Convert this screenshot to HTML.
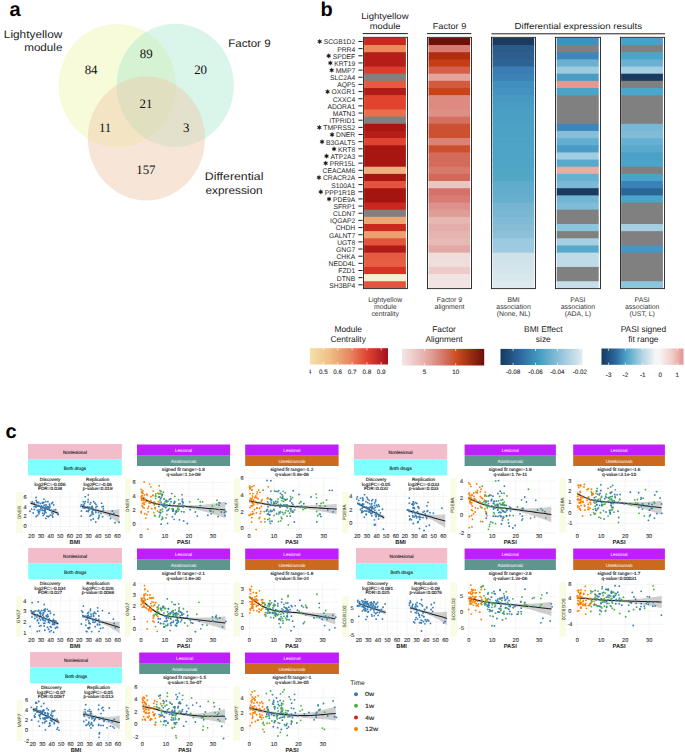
<!DOCTYPE html>
<html><head><meta charset="utf-8"><style>
html,body{margin:0;padding:0;background:#fff;width:685px;height:754px;overflow:hidden}
svg{display:block} text{text-rendering:geometricPrecision}
</style></head><body>
<svg width="685" height="754" viewBox="0 0 685 754">
<rect width="685" height="754" fill="#fff"/>
<text x="9.60" y="15.80" font-size="20" fill="#000" text-anchor="start" font-weight="bold" font-family='"Liberation Sans", sans-serif' >a</text>
<text x="320.50" y="16.30" font-size="20" fill="#000" text-anchor="start" font-weight="bold" font-family='"Liberation Sans", sans-serif' >b</text>
<text x="5.50" y="437.70" font-size="20" fill="#000" text-anchor="start" font-weight="bold" font-family='"Liberation Sans", sans-serif' >c</text>
<g>
<ellipse cx="117.2" cy="85.5" rx="58.6" ry="61.6" fill="#eef7ac" fill-opacity="0.45"/>
<ellipse cx="175.2" cy="85.4" rx="58.6" ry="61.6" fill="#9ee6c4" fill-opacity="0.38"/>
<ellipse cx="146.4" cy="138.5" rx="58.6" ry="62" fill="#eec8a8" fill-opacity="0.45"/>
</g>
<text x="91.10" y="74.20" font-size="12.9" fill="#111" text-anchor="middle" font-weight="normal" font-family='"Liberation Serif", serif' >84</text>
<text x="146.20" y="58.20" font-size="12.9" fill="#111" text-anchor="middle" font-weight="normal" font-family='"Liberation Serif", serif' >89</text>
<text x="200.60" y="74.20" font-size="12.9" fill="#111" text-anchor="middle" font-weight="normal" font-family='"Liberation Serif", serif' >20</text>
<text x="145.90" y="107.90" font-size="12.9" fill="#111" text-anchor="middle" font-weight="normal" font-family='"Liberation Serif", serif' >21</text>
<text x="105.10" y="132.40" font-size="12.9" fill="#111" text-anchor="middle" font-weight="normal" font-family='"Liberation Serif", serif' >11</text>
<text x="186.20" y="132.40" font-size="12.9" fill="#111" text-anchor="middle" font-weight="normal" font-family='"Liberation Serif", serif' >3</text>
<text x="145.90" y="174.20" font-size="12.9" fill="#111" text-anchor="middle" font-weight="normal" font-family='"Liberation Serif", serif' >157</text>
<text x="62.40" y="38.00" font-size="10.9" fill="#222" text-anchor="end" font-weight="normal" font-family='"Liberation Sans", sans-serif' textLength="58.6" lengthAdjust="spacingAndGlyphs">Lightyellow</text>
<text x="62.40" y="51.40" font-size="10.9" fill="#222" text-anchor="end" font-weight="normal" font-family='"Liberation Sans", sans-serif' textLength="38.2" lengthAdjust="spacingAndGlyphs">module</text>
<text x="228.20" y="46.60" font-size="10.9" fill="#222" text-anchor="start" font-weight="normal" font-family='"Liberation Sans", sans-serif' textLength="42.4" lengthAdjust="spacingAndGlyphs">Factor 9</text>
<text x="204.80" y="180.00" font-size="10.9" fill="#222" text-anchor="start" font-weight="normal" font-family='"Liberation Sans", sans-serif' textLength="58.6" lengthAdjust="spacingAndGlyphs">Differential</text>
<text x="205.40" y="193.90" font-size="10.9" fill="#222" text-anchor="start" font-weight="normal" font-family='"Liberation Sans", sans-serif' textLength="57.2" lengthAdjust="spacingAndGlyphs">expression</text>
<rect x="364.10" y="37.90" width="41.80" height="7.86" fill="#c8281e"/>
<rect x="364.10" y="45.06" width="41.80" height="7.86" fill="#ec8a5a"/>
<rect x="364.10" y="52.21" width="41.80" height="7.86" fill="#b51d18"/>
<rect x="364.10" y="59.37" width="41.80" height="7.86" fill="#b51d18"/>
<rect x="364.10" y="66.53" width="41.80" height="7.86" fill="#dd3d2c"/>
<rect x="364.10" y="73.69" width="41.80" height="7.86" fill="#808080"/>
<rect x="364.10" y="80.84" width="41.80" height="7.86" fill="#e65a43"/>
<rect x="364.10" y="88.00" width="41.80" height="7.86" fill="#b01a17"/>
<rect x="364.10" y="95.16" width="41.80" height="7.86" fill="#e2432f"/>
<rect x="364.10" y="102.31" width="41.80" height="7.86" fill="#e2432f"/>
<rect x="364.10" y="109.47" width="41.80" height="7.86" fill="#e8714d"/>
<rect x="364.10" y="116.63" width="41.80" height="7.86" fill="#808080"/>
<rect x="364.10" y="123.79" width="41.80" height="7.86" fill="#a91612"/>
<rect x="364.10" y="130.94" width="41.80" height="7.86" fill="#b51d18"/>
<rect x="364.10" y="138.10" width="41.80" height="7.86" fill="#e0432f"/>
<rect x="364.10" y="145.26" width="41.80" height="7.86" fill="#a91612"/>
<rect x="364.10" y="152.41" width="41.80" height="7.86" fill="#a91612"/>
<rect x="364.10" y="159.57" width="41.80" height="7.86" fill="#a91612"/>
<rect x="364.10" y="166.73" width="41.80" height="7.86" fill="#eeb07e"/>
<rect x="364.10" y="173.89" width="41.80" height="7.86" fill="#a91612"/>
<rect x="364.10" y="181.04" width="41.80" height="7.86" fill="#e4533d"/>
<rect x="364.10" y="188.20" width="41.80" height="7.86" fill="#a51510"/>
<rect x="364.10" y="195.36" width="41.80" height="7.86" fill="#a51510"/>
<rect x="364.10" y="202.51" width="41.80" height="7.86" fill="#c8281e"/>
<rect x="364.10" y="209.67" width="41.80" height="7.86" fill="#808080"/>
<rect x="364.10" y="216.83" width="41.80" height="7.86" fill="#eda774"/>
<rect x="364.10" y="223.99" width="41.80" height="7.86" fill="#c8281e"/>
<rect x="364.10" y="231.14" width="41.80" height="7.86" fill="#eba070"/>
<rect x="364.10" y="238.30" width="41.80" height="7.86" fill="#e4533d"/>
<rect x="364.10" y="245.46" width="41.80" height="7.86" fill="#b01a17"/>
<rect x="364.10" y="252.61" width="41.80" height="7.86" fill="#e55b42"/>
<rect x="364.10" y="259.77" width="41.80" height="7.86" fill="#e65f45"/>
<rect x="364.10" y="266.93" width="41.80" height="7.86" fill="#d63325"/>
<rect x="364.10" y="274.09" width="41.80" height="7.86" fill="#f6efd4"/>
<rect x="364.10" y="281.24" width="41.80" height="7.16" fill="#e4533d"/>
<rect x="363.50" y="37.35" width="44.00" height="251.25" fill="none" stroke="#2a2a2a" stroke-width="0.95"/>
<rect x="428.50" y="37.90" width="41.60" height="7.86" fill="#6b1208"/>
<rect x="428.50" y="45.06" width="41.60" height="7.86" fill="#d97b70"/>
<rect x="428.50" y="52.21" width="41.60" height="7.86" fill="#b02e10"/>
<rect x="428.50" y="59.37" width="41.60" height="7.86" fill="#c43d15"/>
<rect x="428.50" y="66.53" width="41.60" height="7.86" fill="#d4604c"/>
<rect x="428.50" y="73.69" width="41.60" height="7.86" fill="#e4a49c"/>
<rect x="428.50" y="80.84" width="41.60" height="7.86" fill="#d25a40"/>
<rect x="428.50" y="88.00" width="41.60" height="7.86" fill="#c84317"/>
<rect x="428.50" y="95.16" width="41.60" height="7.86" fill="#dd8a80"/>
<rect x="428.50" y="102.31" width="41.60" height="7.86" fill="#dd8a80"/>
<rect x="428.50" y="109.47" width="41.60" height="7.86" fill="#de9088"/>
<rect x="428.50" y="116.63" width="41.60" height="7.86" fill="#d5705f"/>
<rect x="428.50" y="123.79" width="41.60" height="7.86" fill="#cd5030"/>
<rect x="428.50" y="130.94" width="41.60" height="7.86" fill="#cd5030"/>
<rect x="428.50" y="138.10" width="41.60" height="7.86" fill="#d98275"/>
<rect x="428.50" y="145.26" width="41.60" height="7.86" fill="#cd5030"/>
<rect x="428.50" y="152.41" width="41.60" height="7.86" fill="#d46b5a"/>
<rect x="428.50" y="159.57" width="41.60" height="7.86" fill="#d46b5a"/>
<rect x="428.50" y="166.73" width="41.60" height="7.86" fill="#d77a6c"/>
<rect x="428.50" y="173.89" width="41.60" height="7.86" fill="#d4685a"/>
<rect x="428.50" y="181.04" width="41.60" height="7.86" fill="#eac6c2"/>
<rect x="428.50" y="188.20" width="41.60" height="7.86" fill="#d6706a"/>
<rect x="428.50" y="195.36" width="41.60" height="7.86" fill="#d97b72"/>
<rect x="428.50" y="202.51" width="41.60" height="7.86" fill="#de908a"/>
<rect x="428.50" y="209.67" width="41.60" height="7.86" fill="#e09c96"/>
<rect x="428.50" y="216.83" width="41.60" height="7.86" fill="#e6b6b1"/>
<rect x="428.50" y="223.99" width="41.60" height="7.86" fill="#e4adaa"/>
<rect x="428.50" y="231.14" width="41.60" height="7.86" fill="#e6b4b0"/>
<rect x="428.50" y="238.30" width="41.60" height="7.86" fill="#e7bab6"/>
<rect x="428.50" y="245.46" width="41.60" height="7.86" fill="#e2a8a4"/>
<rect x="428.50" y="252.61" width="41.60" height="7.86" fill="#efdcdb"/>
<rect x="428.50" y="259.77" width="41.60" height="7.86" fill="#efdedd"/>
<rect x="428.50" y="266.93" width="41.60" height="7.86" fill="#eccbc9"/>
<rect x="428.50" y="274.09" width="41.60" height="7.86" fill="#f1e4e3"/>
<rect x="428.50" y="281.24" width="41.60" height="7.16" fill="#f1e4e3"/>
<rect x="427.50" y="37.35" width="44.00" height="251.25" fill="none" stroke="#2a2a2a" stroke-width="0.95"/>
<rect x="492.50" y="37.90" width="41.70" height="7.86" fill="#1b3a60"/>
<rect x="492.50" y="45.06" width="41.70" height="7.86" fill="#2a5a88"/>
<rect x="492.50" y="52.21" width="41.70" height="7.86" fill="#2c5f8f"/>
<rect x="492.50" y="59.37" width="41.70" height="7.86" fill="#2e6494"/>
<rect x="492.50" y="66.53" width="41.70" height="7.86" fill="#3a7db4"/>
<rect x="492.50" y="73.69" width="41.70" height="7.86" fill="#3c82b6"/>
<rect x="492.50" y="80.84" width="41.70" height="7.86" fill="#4090bf"/>
<rect x="492.50" y="88.00" width="41.70" height="7.86" fill="#4592c0"/>
<rect x="492.50" y="95.16" width="41.70" height="7.86" fill="#4798c2"/>
<rect x="492.50" y="102.31" width="41.70" height="7.86" fill="#499cc3"/>
<rect x="492.50" y="109.47" width="41.70" height="7.86" fill="#4aa0c4"/>
<rect x="492.50" y="116.63" width="41.70" height="7.86" fill="#4aa0c4"/>
<rect x="492.50" y="123.79" width="41.70" height="7.86" fill="#4ba2c5"/>
<rect x="492.50" y="130.94" width="41.70" height="7.86" fill="#4ba2c5"/>
<rect x="492.50" y="138.10" width="41.70" height="7.86" fill="#4ca3c5"/>
<rect x="492.50" y="145.26" width="41.70" height="7.86" fill="#4da4c6"/>
<rect x="492.50" y="152.41" width="41.70" height="7.86" fill="#4da4c6"/>
<rect x="492.50" y="159.57" width="41.70" height="7.86" fill="#4ea5c6"/>
<rect x="492.50" y="166.73" width="41.70" height="7.86" fill="#50a6c7"/>
<rect x="492.50" y="173.89" width="41.70" height="7.86" fill="#52a7c7"/>
<rect x="492.50" y="181.04" width="41.70" height="7.86" fill="#5eabcc"/>
<rect x="492.50" y="188.20" width="41.70" height="7.86" fill="#62adcd"/>
<rect x="492.50" y="195.36" width="41.70" height="7.86" fill="#66afce"/>
<rect x="492.50" y="202.51" width="41.70" height="7.86" fill="#76b4d1"/>
<rect x="492.50" y="209.67" width="41.70" height="7.86" fill="#7ab6d2"/>
<rect x="492.50" y="216.83" width="41.70" height="7.86" fill="#80bad4"/>
<rect x="492.50" y="223.99" width="41.70" height="7.86" fill="#86bdd6"/>
<rect x="492.50" y="231.14" width="41.70" height="7.86" fill="#8cc0d8"/>
<rect x="492.50" y="238.30" width="41.70" height="7.86" fill="#9ccae0"/>
<rect x="492.50" y="245.46" width="41.70" height="7.86" fill="#9ecbe0"/>
<rect x="492.50" y="252.61" width="41.70" height="7.86" fill="#cfe2ea"/>
<rect x="492.50" y="259.77" width="41.70" height="7.86" fill="#d2e4eb"/>
<rect x="492.50" y="266.93" width="41.70" height="7.86" fill="#d5e5ec"/>
<rect x="492.50" y="274.09" width="41.70" height="7.86" fill="#d9e7ed"/>
<rect x="492.50" y="281.24" width="41.70" height="7.16" fill="#dde9ef"/>
<rect x="491.50" y="37.35" width="44.00" height="251.25" fill="none" stroke="#2a2a2a" stroke-width="0.95"/>
<rect x="556.70" y="37.90" width="42.00" height="7.86" fill="#3f8fc0"/>
<rect x="556.70" y="45.06" width="42.00" height="7.86" fill="#808080"/>
<rect x="556.70" y="52.21" width="42.00" height="7.86" fill="#3d87bd"/>
<rect x="556.70" y="59.37" width="42.00" height="7.86" fill="#6bb0d0"/>
<rect x="556.70" y="66.53" width="42.00" height="7.86" fill="#9ccbe0"/>
<rect x="556.70" y="73.69" width="42.00" height="7.86" fill="#4a9cc5"/>
<rect x="556.70" y="80.84" width="42.00" height="7.86" fill="#e59890"/>
<rect x="556.70" y="88.00" width="42.00" height="7.86" fill="#4aa3c8"/>
<rect x="556.70" y="95.16" width="42.00" height="7.86" fill="#808080"/>
<rect x="556.70" y="102.31" width="42.00" height="7.86" fill="#808080"/>
<rect x="556.70" y="109.47" width="42.00" height="7.86" fill="#808080"/>
<rect x="556.70" y="116.63" width="42.00" height="7.86" fill="#808080"/>
<rect x="556.70" y="123.79" width="42.00" height="7.86" fill="#3d85bb"/>
<rect x="556.70" y="130.94" width="42.00" height="7.86" fill="#86bed8"/>
<rect x="556.70" y="138.10" width="42.00" height="7.86" fill="#62aed0"/>
<rect x="556.70" y="145.26" width="42.00" height="7.86" fill="#4a9cc8"/>
<rect x="556.70" y="152.41" width="42.00" height="7.86" fill="#a0cde0"/>
<rect x="556.70" y="159.57" width="42.00" height="7.86" fill="#5aa8cc"/>
<rect x="556.70" y="166.73" width="42.00" height="7.86" fill="#e8aca5"/>
<rect x="556.70" y="173.89" width="42.00" height="7.86" fill="#66b0d2"/>
<rect x="556.70" y="181.04" width="42.00" height="7.86" fill="#7ab8d6"/>
<rect x="556.70" y="188.20" width="42.00" height="7.86" fill="#1a3a60"/>
<rect x="556.70" y="195.36" width="42.00" height="7.86" fill="#72b4d4"/>
<rect x="556.70" y="202.51" width="42.00" height="7.86" fill="#80bcd8"/>
<rect x="556.70" y="209.67" width="42.00" height="7.86" fill="#808080"/>
<rect x="556.70" y="216.83" width="42.00" height="7.86" fill="#808080"/>
<rect x="556.70" y="223.99" width="42.00" height="7.86" fill="#8cc4dc"/>
<rect x="556.70" y="231.14" width="42.00" height="7.86" fill="#808080"/>
<rect x="556.70" y="238.30" width="42.00" height="7.86" fill="#a6d0e2"/>
<rect x="556.70" y="245.46" width="42.00" height="7.86" fill="#58a8cc"/>
<rect x="556.70" y="252.61" width="42.00" height="7.86" fill="#c0dbe8"/>
<rect x="556.70" y="259.77" width="42.00" height="7.86" fill="#c0dbe8"/>
<rect x="556.70" y="266.93" width="42.00" height="7.86" fill="#808080"/>
<rect x="556.70" y="274.09" width="42.00" height="7.86" fill="#808080"/>
<rect x="556.70" y="281.24" width="42.00" height="7.16" fill="#c4dde8"/>
<rect x="555.50" y="37.35" width="45.00" height="251.25" fill="none" stroke="#2a2a2a" stroke-width="0.95"/>
<rect x="621.10" y="37.90" width="41.80" height="7.86" fill="#4aa0c8"/>
<rect x="621.10" y="45.06" width="41.80" height="7.86" fill="#808080"/>
<rect x="621.10" y="52.21" width="41.80" height="7.86" fill="#4aa5ca"/>
<rect x="621.10" y="59.37" width="41.80" height="7.86" fill="#6ab0d0"/>
<rect x="621.10" y="66.53" width="41.80" height="7.86" fill="#a6d0e2"/>
<rect x="621.10" y="73.69" width="41.80" height="7.86" fill="#1a3a60"/>
<rect x="621.10" y="80.84" width="41.80" height="7.86" fill="#808080"/>
<rect x="621.10" y="88.00" width="41.80" height="7.86" fill="#4aa6cc"/>
<rect x="621.10" y="95.16" width="41.80" height="7.86" fill="#808080"/>
<rect x="621.10" y="102.31" width="41.80" height="7.86" fill="#808080"/>
<rect x="621.10" y="109.47" width="41.80" height="7.86" fill="#808080"/>
<rect x="621.10" y="116.63" width="41.80" height="7.86" fill="#808080"/>
<rect x="621.10" y="123.79" width="41.80" height="7.86" fill="#78b8d6"/>
<rect x="621.10" y="130.94" width="41.80" height="7.86" fill="#80bcd8"/>
<rect x="621.10" y="138.10" width="41.80" height="7.86" fill="#66b0d2"/>
<rect x="621.10" y="145.26" width="41.80" height="7.86" fill="#5aaacc"/>
<rect x="621.10" y="152.41" width="41.80" height="7.86" fill="#4aa0c8"/>
<rect x="621.10" y="159.57" width="41.80" height="7.86" fill="#4aa3c8"/>
<rect x="621.10" y="166.73" width="41.80" height="7.86" fill="#808080"/>
<rect x="621.10" y="173.89" width="41.80" height="7.86" fill="#4aa3c8"/>
<rect x="621.10" y="181.04" width="41.80" height="7.86" fill="#3a82b8"/>
<rect x="621.10" y="188.20" width="41.80" height="7.86" fill="#2b6496"/>
<rect x="621.10" y="195.36" width="41.80" height="7.86" fill="#4aa5ca"/>
<rect x="621.10" y="202.51" width="41.80" height="7.86" fill="#808080"/>
<rect x="621.10" y="209.67" width="41.80" height="7.86" fill="#808080"/>
<rect x="621.10" y="216.83" width="41.80" height="7.86" fill="#808080"/>
<rect x="621.10" y="223.99" width="41.80" height="7.86" fill="#a6d0e2"/>
<rect x="621.10" y="231.14" width="41.80" height="7.86" fill="#808080"/>
<rect x="621.10" y="238.30" width="41.80" height="7.86" fill="#808080"/>
<rect x="621.10" y="245.46" width="41.80" height="7.86" fill="#4596c4"/>
<rect x="621.10" y="252.61" width="41.80" height="7.86" fill="#808080"/>
<rect x="621.10" y="259.77" width="41.80" height="7.86" fill="#808080"/>
<rect x="621.10" y="266.93" width="41.80" height="7.86" fill="#808080"/>
<rect x="621.10" y="274.09" width="41.80" height="7.86" fill="#808080"/>
<rect x="621.10" y="281.24" width="41.80" height="7.16" fill="#8cc4dc"/>
<rect x="620.50" y="37.35" width="44.00" height="251.25" fill="none" stroke="#2a2a2a" stroke-width="0.95"/>
<text x="355.20" y="44.38" font-size="6.75" fill="#2a2a2a" text-anchor="end" font-weight="normal" font-family='"Liberation Sans", sans-serif' >SCGB1D2</text>
<line x1="358.4" y1="41.48" x2="362.6" y2="41.48" stroke="#222" stroke-width="1.0"/>
<polygon points="319.69,39.18 320.29,40.54 321.77,40.38 320.89,41.58 321.77,42.78 320.29,42.62 319.69,43.98 319.09,42.62 317.61,42.78 318.49,41.58 317.61,40.38 319.09,40.54" fill="#1a1a1a" stroke="#1a1a1a" stroke-width="0.3" stroke-linejoin="round"/>
<text x="355.20" y="51.54" font-size="6.75" fill="#2a2a2a" text-anchor="end" font-weight="normal" font-family='"Liberation Sans", sans-serif' >PRR4</text>
<line x1="358.4" y1="48.64" x2="362.6" y2="48.64" stroke="#222" stroke-width="1.0"/>
<text x="355.20" y="58.69" font-size="6.75" fill="#2a2a2a" text-anchor="end" font-weight="normal" font-family='"Liberation Sans", sans-serif' >SPDEF</text>
<line x1="358.4" y1="55.79" x2="362.6" y2="55.79" stroke="#222" stroke-width="1.0"/>
<polygon points="328.70,53.49 329.30,54.85 330.77,54.69 329.90,55.89 330.77,57.09 329.30,56.93 328.70,58.29 328.10,56.93 326.62,57.09 327.50,55.89 326.62,54.69 328.10,54.85" fill="#1a1a1a" stroke="#1a1a1a" stroke-width="0.3" stroke-linejoin="round"/>
<text x="355.20" y="65.85" font-size="6.75" fill="#2a2a2a" text-anchor="end" font-weight="normal" font-family='"Liberation Sans", sans-serif' >KRT19</text>
<line x1="358.4" y1="62.95" x2="362.6" y2="62.95" stroke="#222" stroke-width="1.0"/>
<polygon points="330.32,60.65 330.92,62.01 332.39,61.85 331.52,63.05 332.39,64.25 330.92,64.09 330.32,65.45 329.72,64.09 328.24,64.25 329.12,63.05 328.24,61.85 329.72,62.01" fill="#1a1a1a" stroke="#1a1a1a" stroke-width="0.3" stroke-linejoin="round"/>
<text x="355.20" y="73.01" font-size="6.75" fill="#2a2a2a" text-anchor="end" font-weight="normal" font-family='"Liberation Sans", sans-serif' >MMP7</text>
<line x1="358.4" y1="70.11" x2="362.6" y2="70.11" stroke="#222" stroke-width="1.0"/>
<polygon points="331.70,67.81 332.30,69.17 333.78,69.01 332.90,70.21 333.78,71.41 332.30,71.25 331.70,72.61 331.10,71.25 329.62,71.41 330.50,70.21 329.62,69.01 331.10,69.17" fill="#1a1a1a" stroke="#1a1a1a" stroke-width="0.3" stroke-linejoin="round"/>
<text x="355.20" y="80.16" font-size="6.75" fill="#2a2a2a" text-anchor="end" font-weight="normal" font-family='"Liberation Sans", sans-serif' >SLC2A4</text>
<line x1="358.4" y1="77.26" x2="362.6" y2="77.26" stroke="#222" stroke-width="1.0"/>
<text x="355.20" y="87.32" font-size="6.75" fill="#2a2a2a" text-anchor="end" font-weight="normal" font-family='"Liberation Sans", sans-serif' >AQP5</text>
<line x1="358.4" y1="84.42" x2="362.6" y2="84.42" stroke="#222" stroke-width="1.0"/>
<text x="355.20" y="94.48" font-size="6.75" fill="#2a2a2a" text-anchor="end" font-weight="normal" font-family='"Liberation Sans", sans-serif' >OXGR1</text>
<line x1="358.4" y1="91.58" x2="362.6" y2="91.58" stroke="#222" stroke-width="1.0"/>
<polygon points="327.57,89.28 328.17,90.64 329.65,90.48 328.77,91.68 329.65,92.88 328.17,92.72 327.57,94.08 326.97,92.72 325.49,92.88 326.37,91.68 325.49,90.48 326.97,90.64" fill="#1a1a1a" stroke="#1a1a1a" stroke-width="0.3" stroke-linejoin="round"/>
<text x="355.20" y="101.64" font-size="6.75" fill="#2a2a2a" text-anchor="end" font-weight="normal" font-family='"Liberation Sans", sans-serif' >CXXC4</text>
<line x1="358.4" y1="98.74" x2="362.6" y2="98.74" stroke="#222" stroke-width="1.0"/>
<text x="355.20" y="108.79" font-size="6.75" fill="#2a2a2a" text-anchor="end" font-weight="normal" font-family='"Liberation Sans", sans-serif' >ADORA1</text>
<line x1="358.4" y1="105.89" x2="362.6" y2="105.89" stroke="#222" stroke-width="1.0"/>
<text x="355.20" y="115.95" font-size="6.75" fill="#2a2a2a" text-anchor="end" font-weight="normal" font-family='"Liberation Sans", sans-serif' >MATN3</text>
<line x1="358.4" y1="113.05" x2="362.6" y2="113.05" stroke="#222" stroke-width="1.0"/>
<text x="355.20" y="123.11" font-size="6.75" fill="#2a2a2a" text-anchor="end" font-weight="normal" font-family='"Liberation Sans", sans-serif' >ITPRID1</text>
<line x1="358.4" y1="120.21" x2="362.6" y2="120.21" stroke="#222" stroke-width="1.0"/>
<text x="355.20" y="130.26" font-size="6.75" fill="#2a2a2a" text-anchor="end" font-weight="normal" font-family='"Liberation Sans", sans-serif' >TMPRSS2</text>
<line x1="358.4" y1="127.36" x2="362.6" y2="127.36" stroke="#222" stroke-width="1.0"/>
<polygon points="319.32,125.06 319.92,126.43 321.40,126.26 320.52,127.46 321.40,128.66 319.92,128.50 319.32,129.86 318.72,128.50 317.24,128.66 318.12,127.46 317.24,126.26 318.72,126.43" fill="#1a1a1a" stroke="#1a1a1a" stroke-width="0.3" stroke-linejoin="round"/>
<text x="355.20" y="137.42" font-size="6.75" fill="#2a2a2a" text-anchor="end" font-weight="normal" font-family='"Liberation Sans", sans-serif' >DNER</text>
<line x1="358.4" y1="134.52" x2="362.6" y2="134.52" stroke="#222" stroke-width="1.0"/>
<polygon points="332.07,132.22 332.67,133.58 334.15,133.42 333.27,134.62 334.15,135.82 332.67,135.66 332.07,137.02 331.47,135.66 329.99,135.82 330.87,134.62 329.99,133.42 331.47,133.58" fill="#1a1a1a" stroke="#1a1a1a" stroke-width="0.3" stroke-linejoin="round"/>
<text x="355.20" y="144.58" font-size="6.75" fill="#2a2a2a" text-anchor="end" font-weight="normal" font-family='"Liberation Sans", sans-serif' >B3GALT5</text>
<line x1="358.4" y1="141.68" x2="362.6" y2="141.68" stroke="#222" stroke-width="1.0"/>
<polygon points="322.06,139.38 322.66,140.74 324.14,140.58 323.26,141.78 324.14,142.98 322.66,142.82 322.06,144.18 321.46,142.82 319.98,142.98 320.86,141.78 319.98,140.58 321.46,140.74" fill="#1a1a1a" stroke="#1a1a1a" stroke-width="0.3" stroke-linejoin="round"/>
<text x="355.20" y="151.74" font-size="6.75" fill="#2a2a2a" text-anchor="end" font-weight="normal" font-family='"Liberation Sans", sans-serif' >KRT8</text>
<line x1="358.4" y1="148.84" x2="362.6" y2="148.84" stroke="#222" stroke-width="1.0"/>
<polygon points="334.07,146.54 334.67,147.90 336.15,147.74 335.27,148.94 336.15,150.14 334.67,149.97 334.07,151.34 333.47,149.97 331.99,150.14 332.87,148.94 331.99,147.74 333.47,147.90" fill="#1a1a1a" stroke="#1a1a1a" stroke-width="0.3" stroke-linejoin="round"/>
<text x="355.20" y="158.89" font-size="6.75" fill="#2a2a2a" text-anchor="end" font-weight="normal" font-family='"Liberation Sans", sans-serif' >ATP2A3</text>
<line x1="358.4" y1="155.99" x2="362.6" y2="155.99" stroke="#222" stroke-width="1.0"/>
<polygon points="326.56,153.69 327.16,155.05 328.64,154.89 327.76,156.09 328.64,157.29 327.16,157.13 326.56,158.49 325.96,157.13 324.49,157.29 325.36,156.09 324.49,154.89 325.96,155.05" fill="#1a1a1a" stroke="#1a1a1a" stroke-width="0.3" stroke-linejoin="round"/>
<text x="355.20" y="166.05" font-size="6.75" fill="#2a2a2a" text-anchor="end" font-weight="normal" font-family='"Liberation Sans", sans-serif' >PRR15L</text>
<line x1="358.4" y1="163.15" x2="362.6" y2="163.15" stroke="#222" stroke-width="1.0"/>
<polygon points="325.69,160.85 326.29,162.21 327.77,162.05 326.89,163.25 327.77,164.45 326.29,164.29 325.69,165.65 325.09,164.29 323.61,164.45 324.49,163.25 323.61,162.05 325.09,162.21" fill="#1a1a1a" stroke="#1a1a1a" stroke-width="0.3" stroke-linejoin="round"/>
<text x="355.20" y="173.21" font-size="6.75" fill="#2a2a2a" text-anchor="end" font-weight="normal" font-family='"Liberation Sans", sans-serif' >CEACAM6</text>
<line x1="358.4" y1="170.31" x2="362.6" y2="170.31" stroke="#222" stroke-width="1.0"/>
<text x="355.20" y="180.36" font-size="6.75" fill="#2a2a2a" text-anchor="end" font-weight="normal" font-family='"Liberation Sans", sans-serif' >CRACR2A</text>
<line x1="358.4" y1="177.46" x2="362.6" y2="177.46" stroke="#222" stroke-width="1.0"/>
<polygon points="318.94,175.16 319.54,176.53 321.02,176.36 320.14,177.56 321.02,178.76 319.54,178.60 318.94,179.96 318.34,178.60 316.86,178.76 317.74,177.56 316.86,176.36 318.34,176.53" fill="#1a1a1a" stroke="#1a1a1a" stroke-width="0.3" stroke-linejoin="round"/>
<text x="355.20" y="187.52" font-size="6.75" fill="#2a2a2a" text-anchor="end" font-weight="normal" font-family='"Liberation Sans", sans-serif' >S100A1</text>
<line x1="358.4" y1="184.62" x2="362.6" y2="184.62" stroke="#222" stroke-width="1.0"/>
<text x="355.20" y="194.68" font-size="6.75" fill="#2a2a2a" text-anchor="end" font-weight="normal" font-family='"Liberation Sans", sans-serif' >PPP1R1B</text>
<line x1="358.4" y1="191.78" x2="362.6" y2="191.78" stroke="#222" stroke-width="1.0"/>
<polygon points="320.81,189.48 321.41,190.84 322.89,190.68 322.01,191.88 322.89,193.08 321.41,192.92 320.81,194.28 320.21,192.92 318.73,193.08 319.61,191.88 318.73,190.68 320.21,190.84" fill="#1a1a1a" stroke="#1a1a1a" stroke-width="0.3" stroke-linejoin="round"/>
<text x="355.20" y="201.84" font-size="6.75" fill="#2a2a2a" text-anchor="end" font-weight="normal" font-family='"Liberation Sans", sans-serif' >PDE9A</text>
<line x1="358.4" y1="198.94" x2="362.6" y2="198.94" stroke="#222" stroke-width="1.0"/>
<polygon points="329.06,196.64 329.66,198.00 331.14,197.84 330.26,199.04 331.14,200.24 329.66,200.07 329.06,201.44 328.46,200.07 326.99,200.24 327.86,199.04 326.99,197.84 328.46,198.00" fill="#1a1a1a" stroke="#1a1a1a" stroke-width="0.3" stroke-linejoin="round"/>
<text x="355.20" y="208.99" font-size="6.75" fill="#2a2a2a" text-anchor="end" font-weight="normal" font-family='"Liberation Sans", sans-serif' >SFRP1</text>
<line x1="358.4" y1="206.09" x2="362.6" y2="206.09" stroke="#222" stroke-width="1.0"/>
<text x="355.20" y="216.15" font-size="6.75" fill="#2a2a2a" text-anchor="end" font-weight="normal" font-family='"Liberation Sans", sans-serif' >CLDN7</text>
<line x1="358.4" y1="213.25" x2="362.6" y2="213.25" stroke="#222" stroke-width="1.0"/>
<text x="355.20" y="223.31" font-size="6.75" fill="#2a2a2a" text-anchor="end" font-weight="normal" font-family='"Liberation Sans", sans-serif' >IQGAP2</text>
<line x1="358.4" y1="220.41" x2="362.6" y2="220.41" stroke="#222" stroke-width="1.0"/>
<text x="355.20" y="230.46" font-size="6.75" fill="#2a2a2a" text-anchor="end" font-weight="normal" font-family='"Liberation Sans", sans-serif' >CHDH</text>
<line x1="358.4" y1="227.56" x2="362.6" y2="227.56" stroke="#222" stroke-width="1.0"/>
<text x="355.20" y="237.62" font-size="6.75" fill="#2a2a2a" text-anchor="end" font-weight="normal" font-family='"Liberation Sans", sans-serif' >GALNT7</text>
<line x1="358.4" y1="234.72" x2="362.6" y2="234.72" stroke="#222" stroke-width="1.0"/>
<text x="355.20" y="244.78" font-size="6.75" fill="#2a2a2a" text-anchor="end" font-weight="normal" font-family='"Liberation Sans", sans-serif' >UGT8</text>
<line x1="358.4" y1="241.88" x2="362.6" y2="241.88" stroke="#222" stroke-width="1.0"/>
<text x="355.20" y="251.94" font-size="6.75" fill="#2a2a2a" text-anchor="end" font-weight="normal" font-family='"Liberation Sans", sans-serif' >GNG7</text>
<line x1="358.4" y1="249.04" x2="362.6" y2="249.04" stroke="#222" stroke-width="1.0"/>
<text x="355.20" y="259.09" font-size="6.75" fill="#2a2a2a" text-anchor="end" font-weight="normal" font-family='"Liberation Sans", sans-serif' >CHKA</text>
<line x1="358.4" y1="256.19" x2="362.6" y2="256.19" stroke="#222" stroke-width="1.0"/>
<text x="355.20" y="266.25" font-size="6.75" fill="#2a2a2a" text-anchor="end" font-weight="normal" font-family='"Liberation Sans", sans-serif' >NEDD4L</text>
<line x1="358.4" y1="263.35" x2="362.6" y2="263.35" stroke="#222" stroke-width="1.0"/>
<text x="355.20" y="273.41" font-size="6.75" fill="#2a2a2a" text-anchor="end" font-weight="normal" font-family='"Liberation Sans", sans-serif' >FZD1</text>
<line x1="358.4" y1="270.51" x2="362.6" y2="270.51" stroke="#222" stroke-width="1.0"/>
<text x="355.20" y="280.56" font-size="6.75" fill="#2a2a2a" text-anchor="end" font-weight="normal" font-family='"Liberation Sans", sans-serif' >DTNB</text>
<line x1="358.4" y1="277.66" x2="362.6" y2="277.66" stroke="#222" stroke-width="1.0"/>
<text x="355.20" y="287.72" font-size="6.75" fill="#2a2a2a" text-anchor="end" font-weight="normal" font-family='"Liberation Sans", sans-serif' >SH3BP4</text>
<line x1="358.4" y1="284.82" x2="362.6" y2="284.82" stroke="#222" stroke-width="1.0"/>
<text x="384.90" y="18.80" font-size="8.6" fill="#222" text-anchor="middle" font-weight="normal" font-family='"Liberation Sans", sans-serif' textLength="47.40" lengthAdjust="spacingAndGlyphs">Lightyellow</text>
<text x="385.10" y="29.20" font-size="8.6" fill="#222" text-anchor="middle" font-weight="normal" font-family='"Liberation Sans", sans-serif' textLength="30.80" lengthAdjust="spacingAndGlyphs">module</text>
<text x="449.50" y="29.20" font-size="8.6" fill="#222" text-anchor="middle" font-weight="normal" font-family='"Liberation Sans", sans-serif' textLength="33.50" lengthAdjust="spacingAndGlyphs">Factor 9</text>
<text x="578.30" y="29.00" font-size="8.6" fill="#222" text-anchor="middle" font-weight="normal" font-family='"Liberation Sans", sans-serif' textLength="127.50" lengthAdjust="spacingAndGlyphs">Differential expression results</text>
<line x1="362.7" y1="33.6" x2="407.9" y2="33.6" stroke="#222" stroke-width="1"/>
<line x1="427.0" y1="33.6" x2="471.4" y2="33.6" stroke="#222" stroke-width="1"/>
<line x1="491.4" y1="33.8" x2="665.0" y2="33.8" stroke="#222" stroke-width="1"/>
<text x="385.20" y="301.90" font-size="6.9" fill="#333" text-anchor="middle" font-weight="normal" font-family='"Liberation Sans", sans-serif' >Lightyellow</text>
<text x="385.20" y="309.10" font-size="6.9" fill="#333" text-anchor="middle" font-weight="normal" font-family='"Liberation Sans", sans-serif' >module</text>
<text x="385.20" y="316.30" font-size="6.9" fill="#333" text-anchor="middle" font-weight="normal" font-family='"Liberation Sans", sans-serif' >centrality</text>
<text x="449.50" y="301.90" font-size="6.9" fill="#333" text-anchor="middle" font-weight="normal" font-family='"Liberation Sans", sans-serif' >Factor 9</text>
<text x="449.50" y="309.10" font-size="6.9" fill="#333" text-anchor="middle" font-weight="normal" font-family='"Liberation Sans", sans-serif' >alignment</text>
<text x="513.55" y="301.90" font-size="6.9" fill="#333" text-anchor="middle" font-weight="normal" font-family='"Liberation Sans", sans-serif' >BMI</text>
<text x="513.55" y="309.10" font-size="6.9" fill="#333" text-anchor="middle" font-weight="normal" font-family='"Liberation Sans", sans-serif' >association</text>
<text x="513.55" y="316.30" font-size="6.9" fill="#333" text-anchor="middle" font-weight="normal" font-family='"Liberation Sans", sans-serif' >(None, NL)</text>
<text x="577.90" y="301.90" font-size="6.9" fill="#333" text-anchor="middle" font-weight="normal" font-family='"Liberation Sans", sans-serif' >PASI</text>
<text x="577.90" y="309.10" font-size="6.9" fill="#333" text-anchor="middle" font-weight="normal" font-family='"Liberation Sans", sans-serif' >association</text>
<text x="577.90" y="316.30" font-size="6.9" fill="#333" text-anchor="middle" font-weight="normal" font-family='"Liberation Sans", sans-serif' >(ADA, L)</text>
<text x="642.20" y="301.90" font-size="6.9" fill="#333" text-anchor="middle" font-weight="normal" font-family='"Liberation Sans", sans-serif' >PASI</text>
<text x="642.20" y="309.10" font-size="6.9" fill="#333" text-anchor="middle" font-weight="normal" font-family='"Liberation Sans", sans-serif' >association</text>
<text x="642.20" y="316.30" font-size="6.9" fill="#333" text-anchor="middle" font-weight="normal" font-family='"Liberation Sans", sans-serif' >(UST, L)</text>
<defs><linearGradient id="g1" x1="0" x2="1" y1="0" y2="0"><stop offset="0" stop-color="#f3e1a9"/><stop offset="0.25" stop-color="#efbf86"/><stop offset="0.5" stop-color="#ea8a62"/><stop offset="0.75" stop-color="#dd4030"/><stop offset="1" stop-color="#a3121a"/></linearGradient></defs>
<rect x="309.9" y="348.2" width="78.10" height="16.30" fill="url(#g1)"/>
<line x1="323.40" y1="348.2" x2="323.40" y2="350.40" stroke="#fff" stroke-width="0.7"/>
<line x1="323.40" y1="362.30" x2="323.40" y2="364.5" stroke="#fff" stroke-width="0.7"/>
<line x1="337.70" y1="348.2" x2="337.70" y2="350.40" stroke="#fff" stroke-width="0.7"/>
<line x1="337.70" y1="362.30" x2="337.70" y2="364.5" stroke="#fff" stroke-width="0.7"/>
<line x1="352.10" y1="348.2" x2="352.10" y2="350.40" stroke="#fff" stroke-width="0.7"/>
<line x1="352.10" y1="362.30" x2="352.10" y2="364.5" stroke="#fff" stroke-width="0.7"/>
<line x1="366.90" y1="348.2" x2="366.90" y2="350.40" stroke="#fff" stroke-width="0.7"/>
<line x1="366.90" y1="362.30" x2="366.90" y2="364.5" stroke="#fff" stroke-width="0.7"/>
<line x1="381.20" y1="348.2" x2="381.20" y2="350.40" stroke="#fff" stroke-width="0.7"/>
<line x1="381.20" y1="362.30" x2="381.20" y2="364.5" stroke="#fff" stroke-width="0.7"/>
<text x="323.40" y="374.30" font-size="6.3" fill="#333" text-anchor="middle" font-weight="normal" font-family='"Liberation Sans", sans-serif' stroke="#333" stroke-width="0.12" >0.5</text>
<text x="337.70" y="374.30" font-size="6.3" fill="#333" text-anchor="middle" font-weight="normal" font-family='"Liberation Sans", sans-serif' stroke="#333" stroke-width="0.12" >0.6</text>
<text x="352.10" y="374.30" font-size="6.3" fill="#333" text-anchor="middle" font-weight="normal" font-family='"Liberation Sans", sans-serif' stroke="#333" stroke-width="0.12" >0.7</text>
<text x="366.90" y="374.30" font-size="6.3" fill="#333" text-anchor="middle" font-weight="normal" font-family='"Liberation Sans", sans-serif' stroke="#333" stroke-width="0.12" >0.8</text>
<text x="381.20" y="374.30" font-size="6.3" fill="#333" text-anchor="middle" font-weight="normal" font-family='"Liberation Sans", sans-serif' stroke="#333" stroke-width="0.12" >0.9</text>
<text x="348.20" y="332.00" font-size="8.4" fill="#222" text-anchor="middle" font-weight="normal" font-family='"Liberation Sans", sans-serif' >Module</text>
<text x="348.20" y="341.60" font-size="8.4" fill="#222" text-anchor="middle" font-weight="normal" font-family='"Liberation Sans", sans-serif' >Centrality</text>
<defs><clipPath id="c4"><rect x="309.6" y="366" width="4" height="12"/></clipPath></defs>
<g clip-path="url(#c4)">
<text x="309.60" y="374.30" font-size="6.3" fill="#333" text-anchor="middle" font-weight="normal" font-family='"Liberation Sans", sans-serif' stroke="#333" stroke-width="0.12" >4</text>
</g>
<defs><linearGradient id="g2" x1="0" x2="1" y1="0" y2="0"><stop offset="0" stop-color="#f3e7e7"/><stop offset="0.27" stop-color="#e5b2ae"/><stop offset="0.5" stop-color="#d5786a"/><stop offset="0.67" stop-color="#cc4a1f"/><stop offset="1" stop-color="#6a1006"/></linearGradient></defs>
<rect x="402.0" y="348.9" width="82.20" height="16.60" fill="url(#g2)"/>
<line x1="424.60" y1="348.9" x2="424.60" y2="351.10" stroke="#fff" stroke-width="0.7"/>
<line x1="424.60" y1="363.30" x2="424.60" y2="365.5" stroke="#fff" stroke-width="0.7"/>
<line x1="455.70" y1="348.9" x2="455.70" y2="351.10" stroke="#fff" stroke-width="0.7"/>
<line x1="455.70" y1="363.30" x2="455.70" y2="365.5" stroke="#fff" stroke-width="0.7"/>
<text x="424.60" y="374.30" font-size="6.3" fill="#333" text-anchor="middle" font-weight="normal" font-family='"Liberation Sans", sans-serif' stroke="#333" stroke-width="0.12" >5</text>
<text x="455.70" y="374.30" font-size="6.3" fill="#333" text-anchor="middle" font-weight="normal" font-family='"Liberation Sans", sans-serif' stroke="#333" stroke-width="0.12" >10</text>
<text x="444.00" y="332.00" font-size="8.4" fill="#222" text-anchor="middle" font-weight="normal" font-family='"Liberation Sans", sans-serif' >Factor</text>
<text x="444.00" y="341.60" font-size="8.4" fill="#222" text-anchor="middle" font-weight="normal" font-family='"Liberation Sans", sans-serif' >Alignment</text>
<defs><linearGradient id="g3" x1="0" x2="1" y1="0" y2="0"><stop offset="0" stop-color="#163a5f"/><stop offset="0.25" stop-color="#2f6aa0"/><stop offset="0.5" stop-color="#4aa0c5"/><stop offset="0.75" stop-color="#98c6dc"/><stop offset="1" stop-color="#dfeaf0"/></linearGradient></defs>
<rect x="500.5" y="348.9" width="81.80" height="16.10" fill="url(#g3)"/>
<line x1="513.10" y1="348.9" x2="513.10" y2="351.10" stroke="#fff" stroke-width="0.7"/>
<line x1="513.10" y1="362.80" x2="513.10" y2="365.0" stroke="#fff" stroke-width="0.7"/>
<line x1="535.50" y1="348.9" x2="535.50" y2="351.10" stroke="#fff" stroke-width="0.7"/>
<line x1="535.50" y1="362.80" x2="535.50" y2="365.0" stroke="#fff" stroke-width="0.7"/>
<line x1="557.40" y1="348.9" x2="557.40" y2="351.10" stroke="#fff" stroke-width="0.7"/>
<line x1="557.40" y1="362.80" x2="557.40" y2="365.0" stroke="#fff" stroke-width="0.7"/>
<line x1="579.90" y1="348.9" x2="579.90" y2="351.10" stroke="#fff" stroke-width="0.7"/>
<line x1="579.90" y1="362.80" x2="579.90" y2="365.0" stroke="#fff" stroke-width="0.7"/>
<text x="513.10" y="374.30" font-size="6.3" fill="#333" text-anchor="middle" font-weight="normal" font-family='"Liberation Sans", sans-serif' stroke="#333" stroke-width="0.12" >-0.08</text>
<text x="535.50" y="374.30" font-size="6.3" fill="#333" text-anchor="middle" font-weight="normal" font-family='"Liberation Sans", sans-serif' stroke="#333" stroke-width="0.12" >-0.06</text>
<text x="557.40" y="374.30" font-size="6.3" fill="#333" text-anchor="middle" font-weight="normal" font-family='"Liberation Sans", sans-serif' stroke="#333" stroke-width="0.12" >-0.04</text>
<text x="579.90" y="374.30" font-size="6.3" fill="#333" text-anchor="middle" font-weight="normal" font-family='"Liberation Sans", sans-serif' stroke="#333" stroke-width="0.12" >-0.02</text>
<text x="543.30" y="332.00" font-size="8.4" fill="#222" text-anchor="middle" font-weight="normal" font-family='"Liberation Sans", sans-serif' >BMI Effect</text>
<text x="543.30" y="341.60" font-size="8.4" fill="#222" text-anchor="middle" font-weight="normal" font-family='"Liberation Sans", sans-serif' >size</text>
<defs><linearGradient id="g4" x1="0" x2="1" y1="0" y2="0"><stop offset="0" stop-color="#163a5f"/><stop offset="0.18" stop-color="#2e6aa0"/><stop offset="0.3" stop-color="#4aa2c8"/><stop offset="0.5" stop-color="#b3d4e3"/><stop offset="0.66" stop-color="#f6f6f6"/><stop offset="0.72" stop-color="#f7f1f0"/><stop offset="0.86" stop-color="#f0cdc9"/><stop offset="1" stop-color="#e3948f"/></linearGradient></defs>
<rect x="601.5" y="348.5" width="82.00" height="16.30" fill="url(#g4)"/>
<line x1="608.60" y1="348.5" x2="608.60" y2="350.70" stroke="#fff" stroke-width="0.7"/>
<line x1="608.60" y1="362.60" x2="608.60" y2="364.8" stroke="#fff" stroke-width="0.7"/>
<line x1="625.40" y1="348.5" x2="625.40" y2="350.70" stroke="#fff" stroke-width="0.7"/>
<line x1="625.40" y1="362.60" x2="625.40" y2="364.8" stroke="#fff" stroke-width="0.7"/>
<line x1="642.70" y1="348.5" x2="642.70" y2="350.70" stroke="#fff" stroke-width="0.7"/>
<line x1="642.70" y1="362.60" x2="642.70" y2="364.8" stroke="#fff" stroke-width="0.7"/>
<line x1="660.20" y1="348.5" x2="660.20" y2="350.70" stroke="#fff" stroke-width="0.7"/>
<line x1="660.20" y1="362.60" x2="660.20" y2="364.8" stroke="#fff" stroke-width="0.7"/>
<line x1="677.30" y1="348.5" x2="677.30" y2="350.70" stroke="#fff" stroke-width="0.7"/>
<line x1="677.30" y1="362.60" x2="677.30" y2="364.8" stroke="#fff" stroke-width="0.7"/>
<text x="608.60" y="377.20" font-size="6.3" fill="#333" text-anchor="middle" font-weight="normal" font-family='"Liberation Sans", sans-serif' stroke="#333" stroke-width="0.12" >-3</text>
<text x="625.40" y="377.20" font-size="6.3" fill="#333" text-anchor="middle" font-weight="normal" font-family='"Liberation Sans", sans-serif' stroke="#333" stroke-width="0.12" >-2</text>
<text x="642.70" y="377.20" font-size="6.3" fill="#333" text-anchor="middle" font-weight="normal" font-family='"Liberation Sans", sans-serif' stroke="#333" stroke-width="0.12" >-1</text>
<text x="660.20" y="377.20" font-size="6.3" fill="#333" text-anchor="middle" font-weight="normal" font-family='"Liberation Sans", sans-serif' stroke="#333" stroke-width="0.12" >0</text>
<text x="677.30" y="377.20" font-size="6.3" fill="#333" text-anchor="middle" font-weight="normal" font-family='"Liberation Sans", sans-serif' stroke="#333" stroke-width="0.12" >1</text>
<text x="643.40" y="332.00" font-size="8.4" fill="#222" text-anchor="middle" font-weight="normal" font-family='"Liberation Sans", sans-serif' >PASI signed</text>
<text x="643.40" y="341.60" font-size="8.4" fill="#222" text-anchor="middle" font-weight="normal" font-family='"Liberation Sans", sans-serif' >fit range</text>
<rect x="28.00" y="444.00" width="93.80" height="15.40" fill="#f2bccb"/>
<text x="74.90" y="453.90" font-size="4.6" fill="#222" text-anchor="middle" font-weight="normal" font-family='"Liberation Sans", sans-serif' stroke="#222" stroke-width="0.12" >Nonlesional</text>
<rect x="28.00" y="459.40" width="93.80" height="16.00" fill="#80ffff"/>
<text x="74.90" y="469.60" font-size="4.6" fill="#222" text-anchor="middle" font-weight="normal" font-family='"Liberation Sans", sans-serif' stroke="#222" stroke-width="0.12" >Both drugs</text>
<rect x="16.20" y="492.10" width="6.70" height="40.70" fill="#f7fce2"/>
<text x="0" y="0" transform="translate(20.65,512.45) rotate(-90)" font-size="4.75" fill="#111" text-anchor="middle" font-family='"Liberation Sans", sans-serif'>DNER</text>
<text x="25.00" y="528.20" font-size="5.6" fill="#3a3a3a" text-anchor="middle" font-weight="normal" font-family='"Liberation Sans", sans-serif' stroke="#3a3a3a" stroke-width="0.12" >0</text>
<text x="25.00" y="518.43" font-size="5.6" fill="#3a3a3a" text-anchor="middle" font-weight="normal" font-family='"Liberation Sans", sans-serif' stroke="#3a3a3a" stroke-width="0.12" >2</text>
<text x="25.00" y="508.67" font-size="5.6" fill="#3a3a3a" text-anchor="middle" font-weight="normal" font-family='"Liberation Sans", sans-serif' stroke="#3a3a3a" stroke-width="0.12" >4</text>
<text x="25.00" y="498.90" font-size="5.6" fill="#3a3a3a" text-anchor="middle" font-weight="normal" font-family='"Liberation Sans", sans-serif' stroke="#3a3a3a" stroke-width="0.12" >6</text>
<defs><clipPath id="b_DNER_0"><rect x="28.03" y="492.10" width="46.32" height="40.70"/></clipPath></defs>
<line x1="36.21" y1="492.10" x2="36.21" y2="532.80" stroke="#f5f5f5" stroke-width="0.35"/>
<line x1="45.84" y1="492.10" x2="45.84" y2="532.80" stroke="#f5f5f5" stroke-width="0.35"/>
<line x1="55.47" y1="492.10" x2="55.47" y2="532.80" stroke="#f5f5f5" stroke-width="0.35"/>
<line x1="65.10" y1="492.10" x2="65.10" y2="532.80" stroke="#f5f5f5" stroke-width="0.35"/>
<line x1="28.03" y1="521.52" x2="74.35" y2="521.52" stroke="#f5f5f5" stroke-width="0.35"/>
<line x1="28.03" y1="511.75" x2="74.35" y2="511.75" stroke="#f5f5f5" stroke-width="0.35"/>
<line x1="28.03" y1="501.98" x2="74.35" y2="501.98" stroke="#f5f5f5" stroke-width="0.35"/>
<line x1="28.03" y1="531.28" x2="74.35" y2="531.28" stroke="#f5f5f5" stroke-width="0.35"/>
<line x1="28.03" y1="492.22" x2="74.35" y2="492.22" stroke="#f5f5f5" stroke-width="0.35"/>
<line x1="31.40" y1="492.10" x2="31.40" y2="532.80" stroke="#ebebeb" stroke-width="0.5"/>
<line x1="41.03" y1="492.10" x2="41.03" y2="532.80" stroke="#ebebeb" stroke-width="0.5"/>
<line x1="50.66" y1="492.10" x2="50.66" y2="532.80" stroke="#ebebeb" stroke-width="0.5"/>
<line x1="60.29" y1="492.10" x2="60.29" y2="532.80" stroke="#ebebeb" stroke-width="0.5"/>
<line x1="69.92" y1="492.10" x2="69.92" y2="532.80" stroke="#ebebeb" stroke-width="0.5"/>
<line x1="28.03" y1="526.40" x2="74.35" y2="526.40" stroke="#ebebeb" stroke-width="0.5"/>
<line x1="28.03" y1="516.63" x2="74.35" y2="516.63" stroke="#ebebeb" stroke-width="0.5"/>
<line x1="28.03" y1="506.87" x2="74.35" y2="506.87" stroke="#ebebeb" stroke-width="0.5"/>
<line x1="28.03" y1="497.10" x2="74.35" y2="497.10" stroke="#ebebeb" stroke-width="0.5"/>
<path d="M30.44,501.25L31.83,501.95L33.23,502.64L34.63,503.31L36.02,503.95L37.42,504.57L38.82,505.17L40.21,505.75L41.61,506.31L43.00,506.84L44.40,507.35L45.80,507.84L47.19,508.31L48.59,508.76L49.99,509.18L51.38,509.58L52.78,509.96L54.17,510.32L55.57,510.66L56.97,510.97L58.36,511.26L58.36,515.17L56.97,514.43L55.57,513.72L54.17,513.03L52.78,512.37L51.38,511.72L49.99,511.10L48.59,510.50L47.19,509.92L45.80,509.36L44.40,508.82L43.00,508.31L41.61,507.82L40.21,507.35L38.82,506.90L37.42,506.47L36.02,506.07L34.63,505.69L33.23,505.33L31.83,504.99L30.44,504.67Z" fill="#8c8c8c" fill-opacity="0.42" clip-path="url(#b_DNER_0)"/>
<path d="M30.44,502.96L31.83,503.47L33.23,503.99L34.63,504.50L36.02,505.01L37.42,505.52L38.82,506.04L40.21,506.55L41.61,507.06L43.00,507.57L44.40,508.09L45.80,508.60L47.19,509.11L48.59,509.63L49.99,510.14L51.38,510.65L52.78,511.16L54.17,511.68L55.57,512.19L56.97,512.70L58.36,513.22" fill="none" stroke="#1e1e1e" stroke-width="1.05" clip-path="url(#b_DNER_0)"/>
<g fill="#377eb8"><circle cx="49.48" cy="504.20" r="0.92"/><circle cx="35.79" cy="505.97" r="0.92"/><circle cx="40.83" cy="506.84" r="0.92"/><circle cx="46.00" cy="507.77" r="0.92"/><circle cx="44.80" cy="510.46" r="0.92"/><circle cx="29.93" cy="511.29" r="0.92"/><circle cx="55.69" cy="509.69" r="0.92"/><circle cx="38.01" cy="502.64" r="0.92"/><circle cx="47.42" cy="506.48" r="0.92"/><circle cx="52.18" cy="515.22" r="0.92"/><circle cx="49.93" cy="507.03" r="0.92"/><circle cx="44.87" cy="512.07" r="0.92"/><circle cx="45.90" cy="512.58" r="0.92"/><circle cx="44.84" cy="509.40" r="0.92"/><circle cx="37.49" cy="515.39" r="0.92"/><circle cx="40.48" cy="509.88" r="0.92"/><circle cx="43.15" cy="510.43" r="0.92"/><circle cx="54.05" cy="509.86" r="0.92"/><circle cx="35.99" cy="507.21" r="0.92"/><circle cx="33.21" cy="512.98" r="0.92"/><circle cx="46.96" cy="516.15" r="0.92"/><circle cx="44.80" cy="510.35" r="0.92"/><circle cx="32.35" cy="501.92" r="0.92"/><circle cx="37.28" cy="505.98" r="0.92"/><circle cx="41.52" cy="505.83" r="0.92"/><circle cx="46.30" cy="508.49" r="0.92"/><circle cx="38.93" cy="513.74" r="0.92"/><circle cx="52.83" cy="517.04" r="0.92"/><circle cx="46.01" cy="504.57" r="0.92"/><circle cx="45.75" cy="506.11" r="0.92"/><circle cx="43.88" cy="502.30" r="0.92"/><circle cx="42.90" cy="507.10" r="0.92"/><circle cx="36.17" cy="500.44" r="0.92"/><circle cx="39.57" cy="511.79" r="0.92"/><circle cx="41.81" cy="508.59" r="0.92"/><circle cx="45.89" cy="518.41" r="0.92"/><circle cx="36.89" cy="502.25" r="0.92"/><circle cx="41.12" cy="508.19" r="0.92"/><circle cx="44.13" cy="505.18" r="0.92"/><circle cx="43.11" cy="507.58" r="0.92"/><circle cx="48.84" cy="506.95" r="0.92"/><circle cx="50.44" cy="515.09" r="0.92"/><circle cx="42.86" cy="503.01" r="0.92"/><circle cx="53.69" cy="504.88" r="0.92"/><circle cx="34.30" cy="503.19" r="0.92"/><circle cx="48.61" cy="506.95" r="0.92"/><circle cx="45.13" cy="510.90" r="0.92"/><circle cx="51.96" cy="512.68" r="0.92"/><circle cx="41.22" cy="507.23" r="0.92"/><circle cx="58.19" cy="514.46" r="0.92"/><circle cx="42.44" cy="502.71" r="0.92"/><circle cx="44.26" cy="514.00" r="0.92"/><circle cx="40.33" cy="503.55" r="0.92"/><circle cx="57.96" cy="513.97" r="0.92"/><circle cx="48.22" cy="516.78" r="0.92"/><circle cx="35.78" cy="505.43" r="0.92"/><circle cx="49.10" cy="509.12" r="0.92"/><circle cx="36.14" cy="516.49" r="0.92"/><circle cx="34.12" cy="506.59" r="0.92"/><circle cx="47.04" cy="507.97" r="0.92"/><circle cx="47.88" cy="501.78" r="0.92"/><circle cx="34.30" cy="509.39" r="0.92"/><circle cx="31.63" cy="509.10" r="0.92"/><circle cx="38.17" cy="505.38" r="0.92"/><circle cx="36.10" cy="497.42" r="0.92"/><circle cx="36.76" cy="502.27" r="0.92"/><circle cx="42.21" cy="510.23" r="0.92"/><circle cx="52.68" cy="502.51" r="0.92"/><circle cx="51.71" cy="503.51" r="0.92"/><circle cx="39.02" cy="509.90" r="0.92"/><circle cx="43.84" cy="507.28" r="0.92"/><circle cx="37.40" cy="510.34" r="0.92"/><circle cx="49.26" cy="508.97" r="0.92"/><circle cx="48.65" cy="509.26" r="0.92"/><circle cx="53.18" cy="513.57" r="0.92"/><circle cx="44.95" cy="511.57" r="0.92"/><circle cx="49.73" cy="505.84" r="0.92"/><circle cx="38.40" cy="511.90" r="0.92"/><circle cx="42.86" cy="502.30" r="0.92"/><circle cx="43.93" cy="499.17" r="0.92"/><circle cx="43.30" cy="515.42" r="0.92"/><circle cx="45.01" cy="511.02" r="0.92"/><circle cx="51.23" cy="510.10" r="0.92"/><circle cx="39.39" cy="506.21" r="0.92"/><circle cx="49.16" cy="516.10" r="0.92"/><circle cx="42.48" cy="502.88" r="0.92"/><circle cx="38.60" cy="511.80" r="0.92"/><circle cx="42.63" cy="513.20" r="0.92"/><circle cx="45.76" cy="501.52" r="0.92"/><circle cx="38.66" cy="502.44" r="0.92"/></g>
<text x="50.16" y="480.90" font-size="4.7" fill="#111" text-anchor="middle" font-weight="normal" font-family='"Liberation Sans", sans-serif' stroke="#111" stroke-width="0.12" >Discovery</text>
<text x="50.16" y="485.50" font-size="4.7" fill="#111" text-anchor="middle" font-weight="normal" font-family='"Liberation Sans", sans-serif' stroke="#111" stroke-width="0.12" >log2FC=-0.056</text>
<text x="50.16" y="490.10" font-size="4.7" fill="#111" text-anchor="middle" font-weight="normal" font-family='"Liberation Sans", sans-serif' stroke="#111" stroke-width="0.12" >FDR=0.038</text>
<text x="31.40" y="538.40" font-size="5.6" fill="#3a3a3a" text-anchor="middle" font-weight="normal" font-family='"Liberation Sans", sans-serif' stroke="#3a3a3a" stroke-width="0.12" >20</text>
<text x="41.03" y="538.40" font-size="5.6" fill="#3a3a3a" text-anchor="middle" font-weight="normal" font-family='"Liberation Sans", sans-serif' stroke="#3a3a3a" stroke-width="0.12" >30</text>
<text x="50.66" y="538.40" font-size="5.6" fill="#3a3a3a" text-anchor="middle" font-weight="normal" font-family='"Liberation Sans", sans-serif' stroke="#3a3a3a" stroke-width="0.12" >40</text>
<text x="60.29" y="538.40" font-size="5.6" fill="#3a3a3a" text-anchor="middle" font-weight="normal" font-family='"Liberation Sans", sans-serif' stroke="#3a3a3a" stroke-width="0.12" >50</text>
<text x="69.92" y="538.40" font-size="5.6" fill="#3a3a3a" text-anchor="middle" font-weight="normal" font-family='"Liberation Sans", sans-serif' stroke="#3a3a3a" stroke-width="0.12" >60</text>
<defs><clipPath id="b_DNER_1"><rect x="75.53" y="492.10" width="46.27" height="40.70"/></clipPath></defs>
<line x1="83.72" y1="492.10" x2="83.72" y2="532.80" stroke="#f5f5f5" stroke-width="0.35"/>
<line x1="93.34" y1="492.10" x2="93.34" y2="532.80" stroke="#f5f5f5" stroke-width="0.35"/>
<line x1="102.98" y1="492.10" x2="102.98" y2="532.80" stroke="#f5f5f5" stroke-width="0.35"/>
<line x1="112.61" y1="492.10" x2="112.61" y2="532.80" stroke="#f5f5f5" stroke-width="0.35"/>
<line x1="75.53" y1="521.52" x2="121.80" y2="521.52" stroke="#f5f5f5" stroke-width="0.35"/>
<line x1="75.53" y1="511.75" x2="121.80" y2="511.75" stroke="#f5f5f5" stroke-width="0.35"/>
<line x1="75.53" y1="501.98" x2="121.80" y2="501.98" stroke="#f5f5f5" stroke-width="0.35"/>
<line x1="75.53" y1="531.28" x2="121.80" y2="531.28" stroke="#f5f5f5" stroke-width="0.35"/>
<line x1="75.53" y1="492.22" x2="121.80" y2="492.22" stroke="#f5f5f5" stroke-width="0.35"/>
<line x1="78.90" y1="492.10" x2="78.90" y2="532.80" stroke="#ebebeb" stroke-width="0.5"/>
<line x1="88.53" y1="492.10" x2="88.53" y2="532.80" stroke="#ebebeb" stroke-width="0.5"/>
<line x1="98.16" y1="492.10" x2="98.16" y2="532.80" stroke="#ebebeb" stroke-width="0.5"/>
<line x1="107.79" y1="492.10" x2="107.79" y2="532.80" stroke="#ebebeb" stroke-width="0.5"/>
<line x1="117.42" y1="492.10" x2="117.42" y2="532.80" stroke="#ebebeb" stroke-width="0.5"/>
<line x1="75.53" y1="526.40" x2="121.80" y2="526.40" stroke="#ebebeb" stroke-width="0.5"/>
<line x1="75.53" y1="516.63" x2="121.80" y2="516.63" stroke="#ebebeb" stroke-width="0.5"/>
<line x1="75.53" y1="506.87" x2="121.80" y2="506.87" stroke="#ebebeb" stroke-width="0.5"/>
<line x1="75.53" y1="497.10" x2="121.80" y2="497.10" stroke="#ebebeb" stroke-width="0.5"/>
<path d="M81.79,503.80L83.67,504.67L85.54,505.48L87.42,506.23L89.30,506.91L91.18,507.53L93.06,508.08L94.93,508.57L96.81,508.99L98.69,509.35L100.57,509.65L102.45,509.88L104.32,510.05L106.20,510.15L108.08,510.19L109.96,510.16L111.83,510.07L113.71,509.91L115.59,509.70L117.47,509.41L119.35,509.06L119.35,523.23L117.47,521.90L115.59,520.64L113.71,519.45L111.83,518.31L109.96,517.25L108.08,516.24L106.20,515.30L104.32,514.43L102.45,513.62L100.57,512.88L98.69,512.19L96.81,511.58L94.93,511.03L93.06,510.54L91.18,510.11L89.30,509.75L87.42,509.46L85.54,509.23L83.67,509.06L81.79,508.96Z" fill="#8c8c8c" fill-opacity="0.42" clip-path="url(#b_DNER_1)"/>
<path d="M81.79,506.38L83.67,506.87L85.54,507.36L87.42,507.84L89.30,508.33L91.18,508.82L93.06,509.31L94.93,509.80L96.81,510.29L98.69,510.77L100.57,511.26L102.45,511.75L104.32,512.24L106.20,512.73L108.08,513.22L109.96,513.70L111.83,514.19L113.71,514.68L115.59,515.17L117.47,515.66L119.35,516.14" fill="none" stroke="#1e1e1e" stroke-width="1.05" clip-path="url(#b_DNER_1)"/>
<g fill="#377eb8"><circle cx="88.33" cy="494.94" r="0.92"/><circle cx="85.31" cy="501.58" r="0.92"/><circle cx="103.26" cy="506.49" r="0.92"/><circle cx="112.34" cy="511.02" r="0.92"/><circle cx="88.17" cy="511.48" r="0.92"/><circle cx="95.77" cy="511.06" r="0.92"/><circle cx="83.31" cy="501.72" r="0.92"/><circle cx="92.72" cy="513.00" r="0.92"/><circle cx="83.48" cy="507.47" r="0.92"/><circle cx="85.31" cy="496.64" r="0.92"/><circle cx="109.90" cy="514.99" r="0.92"/><circle cx="90.99" cy="515.02" r="0.92"/><circle cx="119.03" cy="522.23" r="0.92"/><circle cx="94.02" cy="510.17" r="0.92"/><circle cx="103.43" cy="508.87" r="0.92"/><circle cx="96.00" cy="504.49" r="0.92"/><circle cx="92.96" cy="514.43" r="0.92"/><circle cx="99.21" cy="515.54" r="0.92"/><circle cx="92.70" cy="507.87" r="0.92"/><circle cx="87.79" cy="506.65" r="0.92"/><circle cx="81.26" cy="516.09" r="0.92"/><circle cx="92.23" cy="511.23" r="0.92"/><circle cx="83.74" cy="504.98" r="0.92"/><circle cx="95.91" cy="512.62" r="0.92"/><circle cx="84.85" cy="508.08" r="0.92"/><circle cx="91.76" cy="506.97" r="0.92"/><circle cx="87.96" cy="502.20" r="0.92"/><circle cx="88.20" cy="499.69" r="0.92"/><circle cx="89.61" cy="507.26" r="0.92"/><circle cx="102.92" cy="510.73" r="0.92"/><circle cx="93.70" cy="501.76" r="0.92"/><circle cx="101.64" cy="503.15" r="0.92"/><circle cx="90.91" cy="519.92" r="0.92"/><circle cx="89.96" cy="516.12" r="0.92"/><circle cx="102.61" cy="516.69" r="0.92"/><circle cx="84.54" cy="503.45" r="0.92"/><circle cx="113.86" cy="513.42" r="0.92"/><circle cx="92.13" cy="506.44" r="0.92"/><circle cx="98.34" cy="518.61" r="0.92"/><circle cx="90.77" cy="502.62" r="0.92"/><circle cx="95.05" cy="503.17" r="0.92"/><circle cx="110.53" cy="518.53" r="0.92"/><circle cx="90.23" cy="508.31" r="0.92"/><circle cx="81.46" cy="504.92" r="0.92"/><circle cx="89.69" cy="508.45" r="0.92"/><circle cx="97.03" cy="506.39" r="0.92"/><circle cx="98.64" cy="512.54" r="0.92"/><circle cx="95.74" cy="522.01" r="0.92"/><circle cx="88.11" cy="511.22" r="0.92"/><circle cx="94.82" cy="510.17" r="0.92"/><circle cx="89.02" cy="509.98" r="0.92"/><circle cx="98.88" cy="517.29" r="0.92"/><circle cx="92.06" cy="512.76" r="0.92"/><circle cx="90.05" cy="504.05" r="0.92"/><circle cx="81.41" cy="510.89" r="0.92"/><circle cx="100.98" cy="513.58" r="0.92"/><circle cx="93.24" cy="518.97" r="0.92"/><circle cx="86.56" cy="511.20" r="0.92"/><circle cx="115.06" cy="522.73" r="0.92"/><circle cx="80.92" cy="506.32" r="0.92"/><circle cx="101.97" cy="506.80" r="0.92"/><circle cx="95.86" cy="507.44" r="0.92"/></g>
<text x="97.66" y="480.90" font-size="4.7" fill="#111" text-anchor="middle" font-weight="normal" font-family='"Liberation Sans", sans-serif' stroke="#111" stroke-width="0.12" >Replication</text>
<text x="97.66" y="485.50" font-size="4.7" fill="#111" text-anchor="middle" font-weight="normal" font-family='"Liberation Sans", sans-serif' stroke="#111" stroke-width="0.12" >log2FC=-0.06</text>
<text x="97.66" y="490.10" font-size="4.7" fill="#111" text-anchor="middle" font-weight="normal" font-family='"Liberation Sans", sans-serif' stroke="#111" stroke-width="0.12" >p-value=0.019</text>
<text x="78.90" y="538.40" font-size="5.6" fill="#3a3a3a" text-anchor="middle" font-weight="normal" font-family='"Liberation Sans", sans-serif' stroke="#3a3a3a" stroke-width="0.12" >20</text>
<text x="88.53" y="538.40" font-size="5.6" fill="#3a3a3a" text-anchor="middle" font-weight="normal" font-family='"Liberation Sans", sans-serif' stroke="#3a3a3a" stroke-width="0.12" >30</text>
<text x="98.16" y="538.40" font-size="5.6" fill="#3a3a3a" text-anchor="middle" font-weight="normal" font-family='"Liberation Sans", sans-serif' stroke="#3a3a3a" stroke-width="0.12" >40</text>
<text x="107.79" y="538.40" font-size="5.6" fill="#3a3a3a" text-anchor="middle" font-weight="normal" font-family='"Liberation Sans", sans-serif' stroke="#3a3a3a" stroke-width="0.12" >50</text>
<text x="117.42" y="538.40" font-size="5.6" fill="#3a3a3a" text-anchor="middle" font-weight="normal" font-family='"Liberation Sans", sans-serif' stroke="#3a3a3a" stroke-width="0.12" >60</text>
<text x="74.90" y="543.80" font-size="5.8" fill="#222" text-anchor="middle" font-weight="bold" font-family='"Liberation Sans", sans-serif' >BMI</text>
<rect x="137.00" y="444.50" width="93.10" height="10.60" fill="#bf1fff"/>
<text x="183.55" y="452.00" font-size="4.6" fill="#fff" text-anchor="middle" font-weight="normal" font-family='"Liberation Sans", sans-serif' >Lesional</text>
<rect x="137.00" y="455.10" width="93.10" height="10.90" fill="#5e958c"/>
<text x="183.55" y="462.75" font-size="4.6" fill="#fff" text-anchor="middle" font-weight="normal" font-family='"Liberation Sans", sans-serif' >Adalimumab</text>
<text x="183.55" y="471.00" font-size="4.7" fill="#111" text-anchor="middle" font-weight="normal" font-family='"Liberation Sans", sans-serif' stroke="#111" stroke-width="0.12" >signed fit range=-1.8</text>
<text x="183.55" y="475.50" font-size="4.7" fill="#111" text-anchor="middle" font-weight="normal" font-family='"Liberation Sans", sans-serif' stroke="#111" stroke-width="0.12" >q-value=1.1e-09</text>
<rect x="124.90" y="478.10" width="6.00" height="54.40" fill="#f7fce2"/>
<text x="0" y="0" transform="translate(129.00,505.30) rotate(-90)" font-size="4.75" fill="#111" text-anchor="middle" font-family='"Liberation Sans", sans-serif'>DNER</text>
<text x="134.00" y="525.80" font-size="5.6" fill="#3a3a3a" text-anchor="middle" font-weight="normal" font-family='"Liberation Sans", sans-serif' stroke="#3a3a3a" stroke-width="0.12" >0</text>
<text x="134.00" y="511.97" font-size="5.6" fill="#3a3a3a" text-anchor="middle" font-weight="normal" font-family='"Liberation Sans", sans-serif' stroke="#3a3a3a" stroke-width="0.12" >2</text>
<text x="134.00" y="498.13" font-size="5.6" fill="#3a3a3a" text-anchor="middle" font-weight="normal" font-family='"Liberation Sans", sans-serif' stroke="#3a3a3a" stroke-width="0.12" >4</text>
<text x="134.00" y="484.30" font-size="5.6" fill="#3a3a3a" text-anchor="middle" font-weight="normal" font-family='"Liberation Sans", sans-serif' stroke="#3a3a3a" stroke-width="0.12" >6</text>
<defs><clipPath id="pa_DNER"><rect x="137.00" y="478.10" width="93.10" height="54.40"/></clipPath></defs>
<line x1="152.99" y1="478.10" x2="152.99" y2="532.50" stroke="#f5f5f5" stroke-width="0.35"/>
<line x1="176.95" y1="478.10" x2="176.95" y2="532.50" stroke="#f5f5f5" stroke-width="0.35"/>
<line x1="200.93" y1="478.10" x2="200.93" y2="532.50" stroke="#f5f5f5" stroke-width="0.35"/>
<line x1="224.89" y1="478.10" x2="224.89" y2="532.50" stroke="#f5f5f5" stroke-width="0.35"/>
<line x1="137.00" y1="517.08" x2="230.10" y2="517.08" stroke="#f5f5f5" stroke-width="0.35"/>
<line x1="137.00" y1="503.25" x2="230.10" y2="503.25" stroke="#f5f5f5" stroke-width="0.35"/>
<line x1="137.00" y1="489.42" x2="230.10" y2="489.42" stroke="#f5f5f5" stroke-width="0.35"/>
<line x1="137.00" y1="530.92" x2="230.10" y2="530.92" stroke="#f5f5f5" stroke-width="0.35"/>
<line x1="141.00" y1="478.10" x2="141.00" y2="532.50" stroke="#ebebeb" stroke-width="0.5"/>
<line x1="164.97" y1="478.10" x2="164.97" y2="532.50" stroke="#ebebeb" stroke-width="0.5"/>
<line x1="188.94" y1="478.10" x2="188.94" y2="532.50" stroke="#ebebeb" stroke-width="0.5"/>
<line x1="212.91" y1="478.10" x2="212.91" y2="532.50" stroke="#ebebeb" stroke-width="0.5"/>
<line x1="137.00" y1="524.00" x2="230.10" y2="524.00" stroke="#ebebeb" stroke-width="0.5"/>
<line x1="137.00" y1="510.17" x2="230.10" y2="510.17" stroke="#ebebeb" stroke-width="0.5"/>
<line x1="137.00" y1="496.33" x2="230.10" y2="496.33" stroke="#ebebeb" stroke-width="0.5"/>
<line x1="137.00" y1="482.50" x2="230.10" y2="482.50" stroke="#ebebeb" stroke-width="0.5"/>
<path d="M141.00,495.90L143.16,497.13L145.33,498.37L147.49,499.59L149.65,500.61L151.82,501.45L153.98,502.14L156.14,502.69L158.31,503.12L160.47,503.50L162.63,503.84L164.80,504.13L166.96,504.35L169.12,504.52L171.29,504.65L173.45,504.78L175.62,504.90L177.78,505.03L179.94,505.15L182.11,505.23L184.27,505.27L186.43,505.29L188.60,505.28L190.76,505.26L192.92,505.23L195.09,505.17L197.25,505.09L199.41,504.99L201.58,504.85L203.74,504.69L205.90,504.50L208.07,504.29L210.23,504.05L212.39,503.79L214.56,503.50L216.72,503.18L218.88,502.85L221.05,502.49L223.21,502.10L225.37,501.69L225.37,518.29L223.21,517.50L221.05,516.72L218.88,515.97L216.72,515.24L214.56,514.54L212.39,513.86L210.23,513.21L208.07,512.58L205.90,511.97L203.74,511.40L201.58,510.84L199.41,510.32L197.25,509.82L195.09,509.35L192.92,508.92L190.76,508.52L188.60,508.16L186.43,507.86L184.27,507.61L182.11,507.40L179.94,507.23L177.78,507.10L175.62,506.98L173.45,506.85L171.29,506.73L169.12,506.59L166.96,506.42L164.80,506.20L162.63,505.91L160.47,505.58L158.31,505.20L156.14,504.76L153.98,504.22L151.82,503.53L149.65,502.68L147.49,501.82L145.33,501.06L143.16,500.30L141.00,499.53Z" fill="#8c8c8c" fill-opacity="0.42" clip-path="url(#pa_DNER)"/>
<path d="M141.00,497.72L143.16,498.72L145.33,499.71L147.49,500.70L149.65,501.65L151.82,502.49L153.98,503.18L156.14,503.72L158.31,504.16L160.47,504.54L162.63,504.88L164.80,505.16L166.96,505.39L169.12,505.55L171.29,505.69L173.45,505.81L175.62,505.94L177.78,506.06L179.94,506.19L182.11,506.31L184.27,506.44L186.43,506.57L188.60,506.72L190.76,506.89L192.92,507.07L195.09,507.26L197.25,507.46L199.41,507.65L201.58,507.85L203.74,508.04L205.90,508.24L208.07,508.43L210.23,508.63L212.39,508.82L214.56,509.02L216.72,509.21L218.88,509.41L221.05,509.60L223.21,509.80L225.37,509.99" fill="none" stroke="#1e1e1e" stroke-width="1.05" clip-path="url(#pa_DNER)"/>
<g fill="#ff7f00"><circle cx="145.99" cy="501.83" r="0.92"/><circle cx="147.82" cy="529.10" r="0.92"/><circle cx="150.92" cy="500.77" r="0.92"/><circle cx="144.67" cy="513.71" r="0.92"/><circle cx="141.97" cy="498.54" r="0.92"/><circle cx="144.00" cy="507.94" r="0.92"/><circle cx="142.03" cy="505.69" r="0.92"/><circle cx="146.87" cy="514.48" r="0.92"/><circle cx="148.67" cy="506.35" r="0.92"/><circle cx="154.51" cy="502.42" r="0.92"/><circle cx="160.17" cy="493.06" r="0.92"/><circle cx="153.85" cy="502.14" r="0.92"/><circle cx="146.65" cy="494.07" r="0.92"/><circle cx="143.01" cy="493.35" r="0.92"/><circle cx="149.12" cy="503.08" r="0.92"/><circle cx="158.38" cy="501.60" r="0.92"/><circle cx="142.89" cy="506.97" r="0.92"/><circle cx="142.32" cy="495.65" r="0.92"/><circle cx="144.22" cy="481.91" r="0.92"/><circle cx="145.11" cy="499.43" r="0.92"/><circle cx="158.45" cy="497.20" r="0.92"/><circle cx="142.51" cy="503.39" r="0.92"/><circle cx="157.50" cy="511.06" r="0.92"/><circle cx="141.19" cy="489.38" r="0.92"/><circle cx="144.20" cy="504.59" r="0.92"/><circle cx="145.83" cy="518.10" r="0.92"/><circle cx="159.21" cy="485.79" r="0.92"/><circle cx="153.29" cy="491.10" r="0.92"/><circle cx="144.39" cy="504.05" r="0.92"/><circle cx="148.52" cy="500.94" r="0.92"/><circle cx="141.19" cy="512.72" r="0.92"/><circle cx="153.96" cy="512.80" r="0.92"/><circle cx="143.83" cy="497.37" r="0.92"/><circle cx="154.98" cy="508.48" r="0.92"/><circle cx="147.94" cy="508.21" r="0.92"/><circle cx="141.62" cy="492.10" r="0.92"/><circle cx="160.63" cy="509.98" r="0.92"/><circle cx="141.35" cy="496.12" r="0.92"/><circle cx="141.35" cy="497.33" r="0.92"/><circle cx="153.02" cy="495.25" r="0.92"/><circle cx="148.13" cy="511.85" r="0.92"/><circle cx="142.30" cy="491.80" r="0.92"/><circle cx="142.06" cy="492.94" r="0.92"/><circle cx="150.37" cy="503.13" r="0.92"/><circle cx="154.64" cy="504.57" r="0.92"/><circle cx="142.71" cy="490.73" r="0.92"/><circle cx="159.49" cy="502.86" r="0.92"/><circle cx="143.72" cy="500.53" r="0.92"/><circle cx="156.62" cy="504.05" r="0.92"/><circle cx="144.55" cy="499.46" r="0.92"/><circle cx="152.69" cy="495.39" r="0.92"/><circle cx="141.59" cy="499.35" r="0.92"/><circle cx="150.91" cy="486.80" r="0.92"/><circle cx="151.76" cy="508.65" r="0.92"/><circle cx="149.56" cy="484.11" r="0.92"/><circle cx="144.53" cy="494.89" r="0.92"/><circle cx="147.01" cy="495.01" r="0.92"/><circle cx="151.08" cy="496.68" r="0.92"/><circle cx="141.27" cy="511.40" r="0.92"/><circle cx="141.86" cy="500.21" r="0.92"/><circle cx="143.98" cy="502.76" r="0.92"/><circle cx="157.93" cy="493.18" r="0.92"/></g>
<g fill="#4daf4a"><circle cx="184.89" cy="505.90" r="0.92"/><circle cx="200.28" cy="501.77" r="0.92"/><circle cx="154.73" cy="515.47" r="0.92"/><circle cx="160.66" cy="504.45" r="0.92"/><circle cx="215.08" cy="508.76" r="0.92"/><circle cx="164.77" cy="503.22" r="0.92"/><circle cx="166.28" cy="501.60" r="0.92"/><circle cx="159.35" cy="516.83" r="0.92"/><circle cx="173.91" cy="503.39" r="0.92"/><circle cx="173.32" cy="511.02" r="0.92"/><circle cx="178.14" cy="511.21" r="0.92"/><circle cx="164.68" cy="505.14" r="0.92"/><circle cx="216.66" cy="504.39" r="0.92"/><circle cx="178.70" cy="499.79" r="0.92"/><circle cx="155.49" cy="496.29" r="0.92"/><circle cx="212.29" cy="505.88" r="0.92"/><circle cx="219.94" cy="503.04" r="0.92"/><circle cx="177.74" cy="509.02" r="0.92"/><circle cx="155.13" cy="507.59" r="0.92"/><circle cx="162.53" cy="511.57" r="0.92"/><circle cx="154.26" cy="504.85" r="0.92"/><circle cx="161.29" cy="497.41" r="0.92"/><circle cx="166.91" cy="514.61" r="0.92"/><circle cx="182.01" cy="494.73" r="0.92"/><circle cx="166.10" cy="517.83" r="0.92"/><circle cx="163.35" cy="492.24" r="0.92"/><circle cx="155.02" cy="515.92" r="0.92"/><circle cx="155.71" cy="495.99" r="0.92"/><circle cx="155.76" cy="498.36" r="0.92"/><circle cx="213.29" cy="511.86" r="0.92"/><circle cx="161.04" cy="494.01" r="0.92"/><circle cx="172.22" cy="508.64" r="0.92"/><circle cx="161.12" cy="491.31" r="0.92"/><circle cx="195.54" cy="506.99" r="0.92"/><circle cx="154.61" cy="502.62" r="0.92"/><circle cx="217.01" cy="500.25" r="0.92"/><circle cx="160.50" cy="512.94" r="0.92"/><circle cx="165.26" cy="501.39" r="0.92"/><circle cx="202.55" cy="501.89" r="0.92"/><circle cx="162.43" cy="517.17" r="0.92"/><circle cx="163.29" cy="504.38" r="0.92"/><circle cx="173.13" cy="508.96" r="0.92"/><circle cx="155.81" cy="493.88" r="0.92"/><circle cx="178.86" cy="504.00" r="0.92"/><circle cx="219.28" cy="509.76" r="0.92"/><circle cx="166.73" cy="502.11" r="0.92"/><circle cx="182.98" cy="505.55" r="0.92"/><circle cx="198.23" cy="499.33" r="0.92"/><circle cx="209.83" cy="510.66" r="0.92"/><circle cx="172.70" cy="509.24" r="0.92"/><circle cx="163.57" cy="505.48" r="0.92"/><circle cx="160.36" cy="509.81" r="0.92"/><circle cx="176.44" cy="512.22" r="0.92"/><circle cx="179.16" cy="509.48" r="0.92"/><circle cx="160.01" cy="500.31" r="0.92"/><circle cx="159.85" cy="515.25" r="0.92"/><circle cx="174.80" cy="496.39" r="0.92"/><circle cx="161.57" cy="519.59" r="0.92"/><circle cx="158.95" cy="493.91" r="0.92"/><circle cx="177.97" cy="507.85" r="0.92"/><circle cx="183.13" cy="507.23" r="0.92"/><circle cx="160.08" cy="490.71" r="0.92"/><circle cx="169.79" cy="504.06" r="0.92"/><circle cx="159.32" cy="496.87" r="0.92"/><circle cx="169.27" cy="508.68" r="0.92"/><circle cx="162.42" cy="509.26" r="0.92"/><circle cx="165.41" cy="507.39" r="0.92"/><circle cx="189.77" cy="501.82" r="0.92"/></g>
<g fill="#377eb8"><circle cx="160.45" cy="512.50" r="0.92"/><circle cx="164.01" cy="499.01" r="0.92"/><circle cx="176.11" cy="511.45" r="0.92"/><circle cx="182.91" cy="502.87" r="0.92"/><circle cx="172.72" cy="510.92" r="0.92"/><circle cx="225.86" cy="503.58" r="0.92"/><circle cx="162.98" cy="505.72" r="0.92"/><circle cx="181.55" cy="511.60" r="0.92"/><circle cx="179.41" cy="519.85" r="0.92"/><circle cx="162.06" cy="495.67" r="0.92"/><circle cx="172.32" cy="516.81" r="0.92"/><circle cx="174.18" cy="519.35" r="0.92"/><circle cx="171.08" cy="501.73" r="0.92"/><circle cx="182.18" cy="501.17" r="0.92"/><circle cx="170.71" cy="498.65" r="0.92"/><circle cx="161.12" cy="524.20" r="0.92"/><circle cx="224.42" cy="512.53" r="0.92"/><circle cx="184.28" cy="506.15" r="0.92"/><circle cx="200.16" cy="505.60" r="0.92"/><circle cx="172.95" cy="509.98" r="0.92"/><circle cx="180.09" cy="503.78" r="0.92"/><circle cx="168.32" cy="509.96" r="0.92"/><circle cx="167.89" cy="501.21" r="0.92"/><circle cx="219.08" cy="505.24" r="0.92"/><circle cx="172.61" cy="505.66" r="0.92"/><circle cx="165.82" cy="507.59" r="0.92"/><circle cx="195.36" cy="512.03" r="0.92"/><circle cx="173.14" cy="510.67" r="0.92"/><circle cx="175.15" cy="513.98" r="0.92"/><circle cx="174.10" cy="503.05" r="0.92"/><circle cx="163.98" cy="503.98" r="0.92"/><circle cx="162.51" cy="518.69" r="0.92"/><circle cx="160.60" cy="498.73" r="0.92"/><circle cx="169.43" cy="499.49" r="0.92"/><circle cx="158.85" cy="506.42" r="0.92"/><circle cx="210.90" cy="511.18" r="0.92"/><circle cx="159.21" cy="512.07" r="0.92"/><circle cx="167.08" cy="505.64" r="0.92"/><circle cx="225.83" cy="511.68" r="0.92"/><circle cx="183.66" cy="520.92" r="0.92"/><circle cx="183.00" cy="502.24" r="0.92"/><circle cx="221.35" cy="512.04" r="0.92"/><circle cx="167.03" cy="505.26" r="0.92"/><circle cx="176.56" cy="510.67" r="0.92"/><circle cx="167.59" cy="523.35" r="0.92"/><circle cx="164.71" cy="505.53" r="0.92"/><circle cx="166.19" cy="500.49" r="0.92"/><circle cx="182.47" cy="505.18" r="0.92"/><circle cx="218.95" cy="502.60" r="0.92"/><circle cx="171.77" cy="493.55" r="0.92"/><circle cx="182.36" cy="499.26" r="0.92"/><circle cx="218.07" cy="516.59" r="0.92"/><circle cx="183.96" cy="511.88" r="0.92"/><circle cx="175.87" cy="511.75" r="0.92"/><circle cx="197.22" cy="516.10" r="0.92"/><circle cx="162.44" cy="494.48" r="0.92"/><circle cx="161.08" cy="502.07" r="0.92"/><circle cx="225.00" cy="515.47" r="0.92"/><circle cx="203.12" cy="508.17" r="0.92"/><circle cx="161.72" cy="504.32" r="0.92"/><circle cx="187.31" cy="523.47" r="0.92"/><circle cx="163.77" cy="506.46" r="0.92"/><circle cx="159.30" cy="496.90" r="0.92"/><circle cx="167.20" cy="505.33" r="0.92"/><circle cx="173.17" cy="510.35" r="0.92"/><circle cx="190.22" cy="509.68" r="0.92"/><circle cx="182.47" cy="506.15" r="0.92"/><circle cx="174.61" cy="501.36" r="0.92"/><circle cx="211.21" cy="513.80" r="0.92"/><circle cx="174.78" cy="502.29" r="0.92"/><circle cx="167.02" cy="510.70" r="0.92"/><circle cx="207.89" cy="515.24" r="0.92"/></g>
<text x="141.00" y="538.30" font-size="5.6" fill="#3a3a3a" text-anchor="middle" font-weight="normal" font-family='"Liberation Sans", sans-serif' stroke="#3a3a3a" stroke-width="0.12" >0</text>
<text x="164.97" y="538.30" font-size="5.6" fill="#3a3a3a" text-anchor="middle" font-weight="normal" font-family='"Liberation Sans", sans-serif' stroke="#3a3a3a" stroke-width="0.12" >10</text>
<text x="188.94" y="538.30" font-size="5.6" fill="#3a3a3a" text-anchor="middle" font-weight="normal" font-family='"Liberation Sans", sans-serif' stroke="#3a3a3a" stroke-width="0.12" >20</text>
<text x="212.91" y="538.30" font-size="5.6" fill="#3a3a3a" text-anchor="middle" font-weight="normal" font-family='"Liberation Sans", sans-serif' stroke="#3a3a3a" stroke-width="0.12" >30</text>
<text x="183.55" y="543.80" font-size="5.8" fill="#222" text-anchor="middle" font-weight="bold" font-family='"Liberation Sans", sans-serif' >PASI</text>
<rect x="245.20" y="444.50" width="93.40" height="10.60" fill="#bf1fff"/>
<text x="291.90" y="452.00" font-size="4.6" fill="#fff" text-anchor="middle" font-weight="normal" font-family='"Liberation Sans", sans-serif' >Lesional</text>
<rect x="245.20" y="455.10" width="93.40" height="10.90" fill="#cb6a1f"/>
<text x="291.90" y="462.75" font-size="4.6" fill="#fff" text-anchor="middle" font-weight="normal" font-family='"Liberation Sans", sans-serif' >Ustekinumab</text>
<text x="291.90" y="471.00" font-size="4.7" fill="#111" text-anchor="middle" font-weight="normal" font-family='"Liberation Sans", sans-serif' stroke="#111" stroke-width="0.12" >signed fit range=-1.2</text>
<text x="291.90" y="475.50" font-size="4.7" fill="#111" text-anchor="middle" font-weight="normal" font-family='"Liberation Sans", sans-serif' stroke="#111" stroke-width="0.12" >q-value=5.8e-06</text>
<rect x="234.10" y="478.10" width="6.20" height="54.40" fill="#f7fce2"/>
<text x="0" y="0" transform="translate(238.30,505.30) rotate(-90)" font-size="4.75" fill="#111" text-anchor="middle" font-family='"Liberation Sans", sans-serif'>DNER</text>
<text x="242.00" y="530.40" font-size="5.6" fill="#3a3a3a" text-anchor="middle" font-weight="normal" font-family='"Liberation Sans", sans-serif' stroke="#3a3a3a" stroke-width="0.12" >0</text>
<text x="242.00" y="513.57" font-size="5.6" fill="#3a3a3a" text-anchor="middle" font-weight="normal" font-family='"Liberation Sans", sans-serif' stroke="#3a3a3a" stroke-width="0.12" >2</text>
<text x="242.00" y="496.73" font-size="5.6" fill="#3a3a3a" text-anchor="middle" font-weight="normal" font-family='"Liberation Sans", sans-serif' stroke="#3a3a3a" stroke-width="0.12" >4</text>
<text x="242.00" y="479.90" font-size="5.6" fill="#3a3a3a" text-anchor="middle" font-weight="normal" font-family='"Liberation Sans", sans-serif' stroke="#3a3a3a" stroke-width="0.12" >6</text>
<defs><clipPath id="pu_DNER"><rect x="245.20" y="478.10" width="93.40" height="54.40"/></clipPath></defs>
<line x1="261.45" y1="478.10" x2="261.45" y2="532.50" stroke="#f5f5f5" stroke-width="0.35"/>
<line x1="286.35" y1="478.10" x2="286.35" y2="532.50" stroke="#f5f5f5" stroke-width="0.35"/>
<line x1="311.25" y1="478.10" x2="311.25" y2="532.50" stroke="#f5f5f5" stroke-width="0.35"/>
<line x1="336.15" y1="478.10" x2="336.15" y2="532.50" stroke="#f5f5f5" stroke-width="0.35"/>
<line x1="245.20" y1="520.18" x2="338.60" y2="520.18" stroke="#f5f5f5" stroke-width="0.35"/>
<line x1="245.20" y1="503.35" x2="338.60" y2="503.35" stroke="#f5f5f5" stroke-width="0.35"/>
<line x1="245.20" y1="486.52" x2="338.60" y2="486.52" stroke="#f5f5f5" stroke-width="0.35"/>
<line x1="249.00" y1="478.10" x2="249.00" y2="532.50" stroke="#ebebeb" stroke-width="0.5"/>
<line x1="273.90" y1="478.10" x2="273.90" y2="532.50" stroke="#ebebeb" stroke-width="0.5"/>
<line x1="298.80" y1="478.10" x2="298.80" y2="532.50" stroke="#ebebeb" stroke-width="0.5"/>
<line x1="323.70" y1="478.10" x2="323.70" y2="532.50" stroke="#ebebeb" stroke-width="0.5"/>
<line x1="245.20" y1="528.60" x2="338.60" y2="528.60" stroke="#ebebeb" stroke-width="0.5"/>
<line x1="245.20" y1="511.77" x2="338.60" y2="511.77" stroke="#ebebeb" stroke-width="0.5"/>
<line x1="245.20" y1="494.93" x2="338.60" y2="494.93" stroke="#ebebeb" stroke-width="0.5"/>
<line x1="245.20" y1="478.10" x2="338.60" y2="478.10" stroke="#ebebeb" stroke-width="0.5"/>
<path d="M249.00,498.62L251.25,499.36L253.49,500.10L255.74,500.84L257.99,501.38L260.24,501.81L262.48,502.23L264.73,502.63L266.98,503.02L269.23,503.39L271.47,503.74L273.72,504.02L275.97,504.24L278.22,504.40L280.46,504.52L282.71,504.64L284.96,504.75L287.21,504.87L289.45,504.98L291.70,505.07L293.95,505.14L296.20,505.19L298.44,505.23L300.69,505.26L302.94,505.28L305.18,505.29L307.43,505.28L309.68,505.26L311.93,505.22L314.17,505.17L316.42,505.10L318.67,505.02L320.92,504.93L323.16,504.82L325.41,504.70L327.66,504.56L329.91,504.42L332.15,504.26L334.40,504.08L336.65,503.90L336.65,514.33L334.40,513.86L332.15,513.40L329.91,512.96L327.66,512.53L325.41,512.11L323.16,511.70L320.92,511.31L318.67,510.93L316.42,510.57L314.17,510.21L311.93,509.88L309.68,509.56L307.43,509.25L305.18,508.96L302.94,508.68L300.69,508.43L298.44,508.20L296.20,507.99L293.95,507.80L291.70,507.64L289.45,507.51L287.21,507.39L284.96,507.28L282.71,507.16L280.46,507.05L278.22,506.92L275.97,506.76L273.72,506.55L271.47,506.26L269.23,505.92L266.98,505.55L264.73,505.16L262.48,504.76L260.24,504.34L257.99,503.90L255.74,503.55L253.49,503.38L251.25,503.21L249.00,503.03Z" fill="#8c8c8c" fill-opacity="0.42" clip-path="url(#pu_DNER)"/>
<path d="M249.00,500.83L251.25,501.28L253.49,501.74L255.74,502.19L257.99,502.64L260.24,503.08L262.48,503.50L264.73,503.90L266.98,504.28L269.23,504.66L271.47,505.00L273.72,505.28L275.97,505.50L278.22,505.66L280.46,505.79L282.71,505.90L284.96,506.01L287.21,506.13L289.45,506.24L291.70,506.36L293.95,506.47L296.20,506.59L298.44,506.71L300.69,506.84L302.94,506.98L305.18,507.12L307.43,507.26L309.68,507.41L311.93,507.55L314.17,507.69L316.42,507.83L318.67,507.98L320.92,508.12L323.16,508.26L325.41,508.40L327.66,508.55L329.91,508.69L332.15,508.83L334.40,508.97L336.65,509.12" fill="none" stroke="#1e1e1e" stroke-width="1.05" clip-path="url(#pu_DNER)"/>
<g fill="#ff7f00"><circle cx="253.71" cy="504.86" r="0.92"/><circle cx="267.26" cy="498.56" r="0.92"/><circle cx="252.83" cy="493.62" r="0.92"/><circle cx="267.78" cy="498.49" r="0.92"/><circle cx="256.64" cy="497.60" r="0.92"/><circle cx="249.82" cy="487.41" r="0.92"/><circle cx="249.14" cy="515.25" r="0.92"/><circle cx="257.35" cy="491.92" r="0.92"/><circle cx="256.95" cy="493.80" r="0.92"/><circle cx="259.92" cy="492.35" r="0.92"/><circle cx="264.88" cy="518.94" r="0.92"/><circle cx="254.44" cy="509.46" r="0.92"/><circle cx="261.41" cy="500.98" r="0.92"/><circle cx="259.26" cy="518.40" r="0.92"/><circle cx="256.85" cy="507.90" r="0.92"/><circle cx="250.67" cy="488.05" r="0.92"/><circle cx="259.62" cy="508.24" r="0.92"/><circle cx="256.86" cy="507.99" r="0.92"/><circle cx="256.37" cy="512.87" r="0.92"/><circle cx="251.61" cy="522.13" r="0.92"/><circle cx="256.15" cy="529.60" r="0.92"/><circle cx="251.16" cy="499.52" r="0.92"/><circle cx="252.11" cy="490.08" r="0.92"/><circle cx="251.29" cy="505.75" r="0.92"/><circle cx="259.67" cy="517.37" r="0.92"/><circle cx="257.57" cy="503.67" r="0.92"/><circle cx="262.14" cy="499.66" r="0.92"/><circle cx="252.04" cy="486.58" r="0.92"/><circle cx="252.92" cy="503.74" r="0.92"/><circle cx="250.59" cy="498.43" r="0.92"/><circle cx="250.67" cy="514.89" r="0.92"/><circle cx="250.06" cy="493.55" r="0.92"/><circle cx="251.95" cy="489.93" r="0.92"/><circle cx="252.19" cy="506.03" r="0.92"/><circle cx="249.84" cy="488.97" r="0.92"/><circle cx="258.78" cy="490.11" r="0.92"/><circle cx="258.01" cy="498.74" r="0.92"/><circle cx="260.73" cy="511.47" r="0.92"/><circle cx="253.33" cy="500.02" r="0.92"/><circle cx="255.79" cy="497.49" r="0.92"/><circle cx="250.01" cy="507.46" r="0.92"/><circle cx="253.98" cy="485.68" r="0.92"/><circle cx="249.98" cy="500.75" r="0.92"/><circle cx="250.91" cy="514.17" r="0.92"/><circle cx="255.87" cy="495.97" r="0.92"/><circle cx="268.26" cy="486.76" r="0.92"/><circle cx="267.70" cy="497.76" r="0.92"/><circle cx="252.31" cy="502.67" r="0.92"/><circle cx="252.79" cy="502.90" r="0.92"/><circle cx="254.67" cy="497.47" r="0.92"/><circle cx="252.09" cy="498.11" r="0.92"/><circle cx="249.61" cy="486.21" r="0.92"/><circle cx="252.55" cy="511.69" r="0.92"/><circle cx="260.35" cy="513.62" r="0.92"/><circle cx="260.97" cy="521.90" r="0.92"/><circle cx="251.76" cy="517.70" r="0.92"/><circle cx="261.44" cy="506.54" r="0.92"/><circle cx="254.82" cy="501.46" r="0.92"/><circle cx="252.61" cy="496.05" r="0.92"/><circle cx="253.53" cy="513.59" r="0.92"/><circle cx="261.23" cy="502.66" r="0.92"/><circle cx="252.35" cy="514.23" r="0.92"/></g>
<g fill="#4daf4a"><circle cx="320.05" cy="505.79" r="0.92"/><circle cx="273.64" cy="502.02" r="0.92"/><circle cx="305.80" cy="508.02" r="0.92"/><circle cx="278.63" cy="514.10" r="0.92"/><circle cx="288.36" cy="524.84" r="0.92"/><circle cx="275.37" cy="503.67" r="0.92"/><circle cx="305.04" cy="508.51" r="0.92"/><circle cx="285.22" cy="512.71" r="0.92"/><circle cx="282.84" cy="498.44" r="0.92"/><circle cx="274.07" cy="515.38" r="0.92"/><circle cx="281.87" cy="500.60" r="0.92"/><circle cx="289.60" cy="513.29" r="0.92"/><circle cx="288.19" cy="506.34" r="0.92"/><circle cx="316.66" cy="511.61" r="0.92"/><circle cx="278.03" cy="498.92" r="0.92"/><circle cx="316.13" cy="494.11" r="0.92"/><circle cx="299.48" cy="503.24" r="0.92"/><circle cx="270.55" cy="499.16" r="0.92"/><circle cx="303.89" cy="506.82" r="0.92"/><circle cx="316.46" cy="497.58" r="0.92"/><circle cx="279.08" cy="512.24" r="0.92"/><circle cx="303.02" cy="509.55" r="0.92"/><circle cx="293.37" cy="511.98" r="0.92"/><circle cx="268.52" cy="503.53" r="0.92"/><circle cx="325.18" cy="506.19" r="0.92"/><circle cx="287.17" cy="499.28" r="0.92"/><circle cx="269.44" cy="518.64" r="0.92"/><circle cx="273.72" cy="509.34" r="0.92"/><circle cx="326.56" cy="499.95" r="0.92"/><circle cx="277.53" cy="501.33" r="0.92"/><circle cx="301.56" cy="505.80" r="0.92"/><circle cx="292.58" cy="497.69" r="0.92"/><circle cx="287.21" cy="505.35" r="0.92"/><circle cx="294.60" cy="510.00" r="0.92"/><circle cx="276.25" cy="503.43" r="0.92"/><circle cx="263.10" cy="490.23" r="0.92"/><circle cx="287.96" cy="505.76" r="0.92"/><circle cx="285.43" cy="504.89" r="0.92"/><circle cx="278.34" cy="504.47" r="0.92"/><circle cx="274.52" cy="490.99" r="0.92"/><circle cx="321.10" cy="503.41" r="0.92"/><circle cx="267.33" cy="513.94" r="0.92"/><circle cx="287.07" cy="516.17" r="0.92"/><circle cx="287.91" cy="506.44" r="0.92"/><circle cx="279.71" cy="507.06" r="0.92"/><circle cx="267.01" cy="509.64" r="0.92"/><circle cx="285.20" cy="492.78" r="0.92"/><circle cx="264.26" cy="511.61" r="0.92"/><circle cx="280.39" cy="497.24" r="0.92"/><circle cx="283.54" cy="514.25" r="0.92"/><circle cx="290.59" cy="496.67" r="0.92"/><circle cx="283.25" cy="491.36" r="0.92"/><circle cx="270.34" cy="510.11" r="0.92"/><circle cx="288.16" cy="510.97" r="0.92"/><circle cx="278.53" cy="521.55" r="0.92"/><circle cx="319.41" cy="514.13" r="0.92"/><circle cx="285.92" cy="510.57" r="0.92"/><circle cx="280.60" cy="520.88" r="0.92"/><circle cx="281.20" cy="517.05" r="0.92"/><circle cx="269.57" cy="515.10" r="0.92"/><circle cx="323.32" cy="502.77" r="0.92"/><circle cx="284.48" cy="499.27" r="0.92"/><circle cx="269.85" cy="521.21" r="0.92"/><circle cx="317.72" cy="515.73" r="0.92"/><circle cx="264.92" cy="521.87" r="0.92"/><circle cx="283.54" cy="501.43" r="0.92"/><circle cx="277.77" cy="491.64" r="0.92"/><circle cx="280.41" cy="511.65" r="0.92"/></g>
<g fill="#377eb8"><circle cx="287.00" cy="504.94" r="0.92"/><circle cx="299.05" cy="494.38" r="0.92"/><circle cx="282.96" cy="498.32" r="0.92"/><circle cx="291.00" cy="499.03" r="0.92"/><circle cx="282.57" cy="512.31" r="0.92"/><circle cx="271.70" cy="499.84" r="0.92"/><circle cx="281.89" cy="494.59" r="0.92"/><circle cx="280.60" cy="504.36" r="0.92"/><circle cx="292.97" cy="504.48" r="0.92"/><circle cx="283.76" cy="504.87" r="0.92"/><circle cx="290.91" cy="510.85" r="0.92"/><circle cx="266.99" cy="480.45" r="0.92"/><circle cx="300.94" cy="501.75" r="0.92"/><circle cx="273.60" cy="503.87" r="0.92"/><circle cx="320.88" cy="516.40" r="0.92"/><circle cx="334.80" cy="509.05" r="0.92"/><circle cx="271.38" cy="502.81" r="0.92"/><circle cx="267.83" cy="519.56" r="0.92"/><circle cx="292.37" cy="512.10" r="0.92"/><circle cx="270.98" cy="511.53" r="0.92"/><circle cx="292.71" cy="511.06" r="0.92"/><circle cx="281.89" cy="518.56" r="0.92"/><circle cx="294.33" cy="521.96" r="0.92"/><circle cx="270.80" cy="480.74" r="0.92"/><circle cx="267.49" cy="509.65" r="0.92"/><circle cx="276.07" cy="491.37" r="0.92"/><circle cx="269.77" cy="514.70" r="0.92"/><circle cx="316.79" cy="521.91" r="0.92"/><circle cx="270.40" cy="523.39" r="0.92"/><circle cx="333.09" cy="511.88" r="0.92"/><circle cx="320.21" cy="514.11" r="0.92"/><circle cx="275.30" cy="505.71" r="0.92"/><circle cx="271.05" cy="500.86" r="0.92"/><circle cx="270.35" cy="505.41" r="0.92"/><circle cx="280.28" cy="506.92" r="0.92"/><circle cx="291.84" cy="502.93" r="0.92"/><circle cx="329.50" cy="490.34" r="0.92"/><circle cx="278.68" cy="490.63" r="0.92"/><circle cx="311.02" cy="496.97" r="0.92"/><circle cx="275.74" cy="501.51" r="0.92"/><circle cx="276.56" cy="513.76" r="0.92"/><circle cx="267.98" cy="506.75" r="0.92"/><circle cx="290.28" cy="516.17" r="0.92"/><circle cx="277.71" cy="502.10" r="0.92"/><circle cx="290.17" cy="501.00" r="0.92"/><circle cx="279.88" cy="512.92" r="0.92"/><circle cx="293.23" cy="490.71" r="0.92"/><circle cx="290.95" cy="509.02" r="0.92"/><circle cx="274.27" cy="510.27" r="0.92"/><circle cx="271.95" cy="521.28" r="0.92"/><circle cx="332.08" cy="490.34" r="0.92"/><circle cx="274.36" cy="503.29" r="0.92"/><circle cx="287.26" cy="507.80" r="0.92"/><circle cx="267.57" cy="501.82" r="0.92"/><circle cx="266.48" cy="511.04" r="0.92"/><circle cx="303.80" cy="503.68" r="0.92"/><circle cx="281.92" cy="498.00" r="0.92"/><circle cx="270.21" cy="499.00" r="0.92"/><circle cx="280.39" cy="493.37" r="0.92"/><circle cx="268.82" cy="511.86" r="0.92"/><circle cx="272.07" cy="511.04" r="0.92"/><circle cx="316.66" cy="503.86" r="0.92"/><circle cx="268.23" cy="514.29" r="0.92"/><circle cx="295.39" cy="507.02" r="0.92"/><circle cx="290.22" cy="508.94" r="0.92"/><circle cx="327.78" cy="509.96" r="0.92"/><circle cx="300.25" cy="506.75" r="0.92"/><circle cx="285.33" cy="500.13" r="0.92"/><circle cx="270.91" cy="491.06" r="0.92"/><circle cx="282.72" cy="496.22" r="0.92"/><circle cx="280.55" cy="505.51" r="0.92"/><circle cx="286.00" cy="499.57" r="0.92"/></g>
<text x="249.00" y="538.30" font-size="5.6" fill="#3a3a3a" text-anchor="middle" font-weight="normal" font-family='"Liberation Sans", sans-serif' stroke="#3a3a3a" stroke-width="0.12" >0</text>
<text x="273.90" y="538.30" font-size="5.6" fill="#3a3a3a" text-anchor="middle" font-weight="normal" font-family='"Liberation Sans", sans-serif' stroke="#3a3a3a" stroke-width="0.12" >10</text>
<text x="298.80" y="538.30" font-size="5.6" fill="#3a3a3a" text-anchor="middle" font-weight="normal" font-family='"Liberation Sans", sans-serif' stroke="#3a3a3a" stroke-width="0.12" >20</text>
<text x="323.70" y="538.30" font-size="5.6" fill="#3a3a3a" text-anchor="middle" font-weight="normal" font-family='"Liberation Sans", sans-serif' stroke="#3a3a3a" stroke-width="0.12" >30</text>
<text x="291.90" y="543.80" font-size="5.8" fill="#222" text-anchor="middle" font-weight="bold" font-family='"Liberation Sans", sans-serif' >PASI</text>
<rect x="354.00" y="444.00" width="93.20" height="15.40" fill="#f2bccb"/>
<text x="400.60" y="453.90" font-size="4.6" fill="#222" text-anchor="middle" font-weight="normal" font-family='"Liberation Sans", sans-serif' stroke="#222" stroke-width="0.12" >Nonlesional</text>
<rect x="354.00" y="459.40" width="93.20" height="16.00" fill="#80ffff"/>
<text x="400.60" y="469.60" font-size="4.6" fill="#222" text-anchor="middle" font-weight="normal" font-family='"Liberation Sans", sans-serif' stroke="#222" stroke-width="0.12" >Both drugs</text>
<rect x="341.90" y="492.10" width="6.60" height="40.70" fill="#f7fce2"/>
<text x="0" y="0" transform="translate(346.30,512.45) rotate(-90)" font-size="4.75" fill="#111" text-anchor="middle" font-family='"Liberation Sans", sans-serif'>PDE9A</text>
<text x="350.80" y="524.90" font-size="5.6" fill="#3a3a3a" text-anchor="middle" font-weight="normal" font-family='"Liberation Sans", sans-serif' stroke="#3a3a3a" stroke-width="0.12" >0</text>
<text x="350.80" y="511.55" font-size="5.6" fill="#3a3a3a" text-anchor="middle" font-weight="normal" font-family='"Liberation Sans", sans-serif' stroke="#3a3a3a" stroke-width="0.12" >2</text>
<text x="350.80" y="498.20" font-size="5.6" fill="#3a3a3a" text-anchor="middle" font-weight="normal" font-family='"Liberation Sans", sans-serif' stroke="#3a3a3a" stroke-width="0.12" >4</text>
<defs><clipPath id="b_PDE9A_0"><rect x="353.93" y="492.10" width="46.32" height="40.70"/></clipPath></defs>
<line x1="362.12" y1="492.10" x2="362.12" y2="532.80" stroke="#f5f5f5" stroke-width="0.35"/>
<line x1="371.75" y1="492.10" x2="371.75" y2="532.80" stroke="#f5f5f5" stroke-width="0.35"/>
<line x1="381.38" y1="492.10" x2="381.38" y2="532.80" stroke="#f5f5f5" stroke-width="0.35"/>
<line x1="391.00" y1="492.10" x2="391.00" y2="532.80" stroke="#f5f5f5" stroke-width="0.35"/>
<line x1="353.93" y1="516.42" x2="400.25" y2="516.42" stroke="#f5f5f5" stroke-width="0.35"/>
<line x1="353.93" y1="503.07" x2="400.25" y2="503.07" stroke="#f5f5f5" stroke-width="0.35"/>
<line x1="353.93" y1="529.78" x2="400.25" y2="529.78" stroke="#f5f5f5" stroke-width="0.35"/>
<line x1="357.30" y1="492.10" x2="357.30" y2="532.80" stroke="#ebebeb" stroke-width="0.5"/>
<line x1="366.93" y1="492.10" x2="366.93" y2="532.80" stroke="#ebebeb" stroke-width="0.5"/>
<line x1="376.56" y1="492.10" x2="376.56" y2="532.80" stroke="#ebebeb" stroke-width="0.5"/>
<line x1="386.19" y1="492.10" x2="386.19" y2="532.80" stroke="#ebebeb" stroke-width="0.5"/>
<line x1="395.82" y1="492.10" x2="395.82" y2="532.80" stroke="#ebebeb" stroke-width="0.5"/>
<line x1="353.93" y1="523.10" x2="400.25" y2="523.10" stroke="#ebebeb" stroke-width="0.5"/>
<line x1="353.93" y1="509.75" x2="400.25" y2="509.75" stroke="#ebebeb" stroke-width="0.5"/>
<line x1="353.93" y1="496.40" x2="400.25" y2="496.40" stroke="#ebebeb" stroke-width="0.5"/>
<path d="M357.30,501.13L358.65,502.06L360.00,502.97L361.34,503.85L362.69,504.71L364.04,505.55L365.39,506.37L366.74,507.16L368.09,507.93L369.43,508.68L370.78,509.41L372.13,510.11L373.48,510.79L374.83,511.45L376.17,512.09L377.52,512.70L378.87,513.29L380.22,513.86L381.57,514.40L382.92,514.92L384.26,515.42L384.26,520.10L382.92,519.13L381.57,518.18L380.22,517.26L378.87,516.36L377.52,515.48L376.17,514.62L374.83,513.79L373.48,512.98L372.13,512.19L370.78,511.43L369.43,510.68L368.09,509.96L366.74,509.27L365.39,508.59L364.04,507.94L362.69,507.31L361.34,506.71L360.00,506.12L358.65,505.56L357.30,505.02Z" fill="#8c8c8c" fill-opacity="0.42" clip-path="url(#b_PDE9A_0)"/>
<path d="M357.30,503.07L358.65,503.81L360.00,504.54L361.34,505.28L362.69,506.01L364.04,506.75L365.39,507.48L366.74,508.21L368.09,508.95L369.43,509.68L370.78,510.42L372.13,511.15L373.48,511.89L374.83,512.62L376.17,513.35L377.52,514.09L378.87,514.82L380.22,515.56L381.57,516.29L382.92,517.03L384.26,517.76" fill="none" stroke="#1e1e1e" stroke-width="1.05" clip-path="url(#b_PDE9A_0)"/>
<g fill="#377eb8"><circle cx="376.40" cy="505.25" r="0.92"/><circle cx="371.78" cy="500.87" r="0.92"/><circle cx="362.48" cy="497.84" r="0.92"/><circle cx="368.76" cy="511.94" r="0.92"/><circle cx="361.83" cy="510.68" r="0.92"/><circle cx="364.84" cy="510.81" r="0.92"/><circle cx="360.44" cy="509.54" r="0.92"/><circle cx="374.39" cy="524.66" r="0.92"/><circle cx="361.74" cy="512.66" r="0.92"/><circle cx="369.55" cy="503.63" r="0.92"/><circle cx="368.68" cy="507.63" r="0.92"/><circle cx="364.54" cy="494.65" r="0.92"/><circle cx="366.91" cy="497.43" r="0.92"/><circle cx="379.31" cy="506.35" r="0.92"/><circle cx="372.39" cy="506.70" r="0.92"/><circle cx="363.88" cy="506.79" r="0.92"/><circle cx="361.69" cy="512.09" r="0.92"/><circle cx="379.81" cy="515.71" r="0.92"/><circle cx="357.34" cy="496.89" r="0.92"/><circle cx="368.61" cy="509.78" r="0.92"/><circle cx="374.46" cy="519.84" r="0.92"/><circle cx="371.83" cy="503.59" r="0.92"/><circle cx="367.74" cy="499.18" r="0.92"/><circle cx="378.93" cy="515.01" r="0.92"/><circle cx="372.11" cy="508.44" r="0.92"/><circle cx="371.63" cy="508.97" r="0.92"/><circle cx="366.84" cy="507.44" r="0.92"/><circle cx="366.27" cy="507.20" r="0.92"/><circle cx="362.11" cy="508.16" r="0.92"/><circle cx="372.59" cy="499.68" r="0.92"/><circle cx="378.61" cy="518.93" r="0.92"/><circle cx="375.70" cy="499.88" r="0.92"/><circle cx="374.31" cy="505.39" r="0.92"/><circle cx="366.77" cy="508.23" r="0.92"/><circle cx="371.17" cy="507.08" r="0.92"/><circle cx="363.56" cy="504.20" r="0.92"/><circle cx="362.86" cy="498.54" r="0.92"/><circle cx="366.62" cy="507.85" r="0.92"/><circle cx="376.51" cy="512.51" r="0.92"/><circle cx="375.38" cy="524.70" r="0.92"/><circle cx="370.19" cy="507.19" r="0.92"/><circle cx="375.29" cy="507.43" r="0.92"/><circle cx="367.72" cy="502.56" r="0.92"/><circle cx="375.14" cy="514.81" r="0.92"/><circle cx="370.48" cy="507.40" r="0.92"/><circle cx="362.49" cy="503.93" r="0.92"/><circle cx="374.72" cy="502.94" r="0.92"/><circle cx="371.33" cy="504.90" r="0.92"/><circle cx="378.86" cy="516.38" r="0.92"/><circle cx="383.37" cy="529.17" r="0.92"/><circle cx="373.97" cy="508.79" r="0.92"/><circle cx="374.91" cy="524.71" r="0.92"/><circle cx="382.43" cy="509.22" r="0.92"/><circle cx="366.08" cy="511.24" r="0.92"/><circle cx="370.05" cy="510.99" r="0.92"/><circle cx="369.10" cy="500.37" r="0.92"/><circle cx="371.60" cy="513.32" r="0.92"/><circle cx="362.96" cy="507.56" r="0.92"/><circle cx="360.40" cy="498.30" r="0.92"/><circle cx="366.00" cy="501.66" r="0.92"/><circle cx="375.51" cy="501.31" r="0.92"/><circle cx="366.93" cy="511.05" r="0.92"/><circle cx="363.01" cy="500.17" r="0.92"/><circle cx="374.95" cy="510.37" r="0.92"/><circle cx="377.45" cy="506.50" r="0.92"/><circle cx="378.48" cy="504.78" r="0.92"/><circle cx="358.57" cy="504.04" r="0.92"/><circle cx="370.72" cy="513.59" r="0.92"/><circle cx="362.72" cy="511.62" r="0.92"/><circle cx="358.81" cy="500.35" r="0.92"/><circle cx="362.96" cy="504.78" r="0.92"/><circle cx="372.32" cy="512.31" r="0.92"/><circle cx="356.75" cy="498.93" r="0.92"/><circle cx="370.00" cy="512.13" r="0.92"/><circle cx="375.98" cy="516.81" r="0.92"/><circle cx="379.05" cy="510.30" r="0.92"/><circle cx="360.39" cy="504.97" r="0.92"/><circle cx="377.08" cy="514.02" r="0.92"/><circle cx="369.13" cy="508.61" r="0.92"/><circle cx="362.62" cy="500.41" r="0.92"/><circle cx="360.50" cy="504.70" r="0.92"/><circle cx="372.59" cy="507.74" r="0.92"/><circle cx="366.23" cy="514.22" r="0.92"/><circle cx="371.83" cy="515.76" r="0.92"/><circle cx="376.49" cy="515.85" r="0.92"/><circle cx="364.33" cy="517.11" r="0.92"/><circle cx="362.99" cy="511.46" r="0.92"/><circle cx="366.25" cy="514.64" r="0.92"/><circle cx="372.48" cy="512.86" r="0.92"/><circle cx="380.41" cy="512.84" r="0.92"/></g>
<text x="376.06" y="480.90" font-size="4.7" fill="#111" text-anchor="middle" font-weight="normal" font-family='"Liberation Sans", sans-serif' stroke="#111" stroke-width="0.12" >Discovery</text>
<text x="376.06" y="485.50" font-size="4.7" fill="#111" text-anchor="middle" font-weight="normal" font-family='"Liberation Sans", sans-serif' stroke="#111" stroke-width="0.12" >log2FC=-0.05</text>
<text x="376.06" y="490.10" font-size="4.7" fill="#111" text-anchor="middle" font-weight="normal" font-family='"Liberation Sans", sans-serif' stroke="#111" stroke-width="0.12" >FDR=0.032</text>
<text x="357.30" y="538.40" font-size="5.6" fill="#3a3a3a" text-anchor="middle" font-weight="normal" font-family='"Liberation Sans", sans-serif' stroke="#3a3a3a" stroke-width="0.12" >20</text>
<text x="366.93" y="538.40" font-size="5.6" fill="#3a3a3a" text-anchor="middle" font-weight="normal" font-family='"Liberation Sans", sans-serif' stroke="#3a3a3a" stroke-width="0.12" >30</text>
<text x="376.56" y="538.40" font-size="5.6" fill="#3a3a3a" text-anchor="middle" font-weight="normal" font-family='"Liberation Sans", sans-serif' stroke="#3a3a3a" stroke-width="0.12" >40</text>
<text x="386.19" y="538.40" font-size="5.6" fill="#3a3a3a" text-anchor="middle" font-weight="normal" font-family='"Liberation Sans", sans-serif' stroke="#3a3a3a" stroke-width="0.12" >50</text>
<text x="395.82" y="538.40" font-size="5.6" fill="#3a3a3a" text-anchor="middle" font-weight="normal" font-family='"Liberation Sans", sans-serif' stroke="#3a3a3a" stroke-width="0.12" >60</text>
<defs><clipPath id="b_PDE9A_1"><rect x="401.43" y="492.10" width="45.77" height="40.70"/></clipPath></defs>
<line x1="409.62" y1="492.10" x2="409.62" y2="532.80" stroke="#f5f5f5" stroke-width="0.35"/>
<line x1="419.25" y1="492.10" x2="419.25" y2="532.80" stroke="#f5f5f5" stroke-width="0.35"/>
<line x1="428.88" y1="492.10" x2="428.88" y2="532.80" stroke="#f5f5f5" stroke-width="0.35"/>
<line x1="438.50" y1="492.10" x2="438.50" y2="532.80" stroke="#f5f5f5" stroke-width="0.35"/>
<line x1="401.43" y1="516.42" x2="447.20" y2="516.42" stroke="#f5f5f5" stroke-width="0.35"/>
<line x1="401.43" y1="503.07" x2="447.20" y2="503.07" stroke="#f5f5f5" stroke-width="0.35"/>
<line x1="401.43" y1="529.78" x2="447.20" y2="529.78" stroke="#f5f5f5" stroke-width="0.35"/>
<line x1="404.80" y1="492.10" x2="404.80" y2="532.80" stroke="#ebebeb" stroke-width="0.5"/>
<line x1="414.43" y1="492.10" x2="414.43" y2="532.80" stroke="#ebebeb" stroke-width="0.5"/>
<line x1="424.06" y1="492.10" x2="424.06" y2="532.80" stroke="#ebebeb" stroke-width="0.5"/>
<line x1="433.69" y1="492.10" x2="433.69" y2="532.80" stroke="#ebebeb" stroke-width="0.5"/>
<line x1="443.32" y1="492.10" x2="443.32" y2="532.80" stroke="#ebebeb" stroke-width="0.5"/>
<line x1="401.43" y1="523.10" x2="447.20" y2="523.10" stroke="#ebebeb" stroke-width="0.5"/>
<line x1="401.43" y1="509.75" x2="447.20" y2="509.75" stroke="#ebebeb" stroke-width="0.5"/>
<line x1="401.43" y1="496.40" x2="447.20" y2="496.40" stroke="#ebebeb" stroke-width="0.5"/>
<path d="M407.69,508.31L409.57,509.10L411.44,509.84L413.32,510.53L415.20,511.16L417.08,511.75L418.96,512.28L420.83,512.76L422.71,513.20L424.59,513.58L426.47,513.91L428.35,514.19L430.22,514.42L432.10,514.60L433.98,514.72L435.86,514.80L437.73,514.83L439.61,514.80L441.49,514.73L443.37,514.60L445.25,514.42L445.25,527.77L443.37,526.53L441.49,525.33L439.61,524.19L437.73,523.10L435.86,522.05L433.98,521.06L432.10,520.12L430.22,519.23L428.35,518.39L426.47,517.61L424.59,516.87L422.71,516.18L420.83,515.55L418.96,514.96L417.08,514.43L415.20,513.95L413.32,513.51L411.44,513.13L409.57,512.80L407.69,512.52Z" fill="#8c8c8c" fill-opacity="0.42" clip-path="url(#b_PDE9A_1)"/>
<path d="M407.69,510.42L409.57,510.95L411.44,511.49L413.32,512.02L415.20,512.55L417.08,513.09L418.96,513.62L420.83,514.16L422.71,514.69L424.59,515.22L426.47,515.76L428.35,516.29L430.22,516.83L432.10,517.36L433.98,517.89L435.86,518.43L437.73,518.96L439.61,519.50L441.49,520.03L443.37,520.56L445.25,521.10" fill="none" stroke="#1e1e1e" stroke-width="1.05" clip-path="url(#b_PDE9A_1)"/>
<g fill="#377eb8"><circle cx="415.68" cy="502.64" r="0.92"/><circle cx="410.09" cy="518.73" r="0.92"/><circle cx="423.11" cy="512.05" r="0.92"/><circle cx="418.35" cy="506.86" r="0.92"/><circle cx="413.29" cy="523.51" r="0.92"/><circle cx="416.84" cy="503.39" r="0.92"/><circle cx="422.95" cy="517.68" r="0.92"/><circle cx="419.55" cy="516.73" r="0.92"/><circle cx="409.26" cy="498.12" r="0.92"/><circle cx="416.67" cy="517.84" r="0.92"/><circle cx="409.38" cy="516.08" r="0.92"/><circle cx="418.21" cy="516.86" r="0.92"/><circle cx="413.00" cy="507.74" r="0.92"/><circle cx="430.01" cy="512.70" r="0.92"/><circle cx="427.68" cy="510.72" r="0.92"/><circle cx="420.80" cy="517.31" r="0.92"/><circle cx="424.29" cy="511.45" r="0.92"/><circle cx="416.37" cy="516.24" r="0.92"/><circle cx="426.20" cy="516.96" r="0.92"/><circle cx="408.15" cy="509.95" r="0.92"/><circle cx="415.40" cy="512.89" r="0.92"/><circle cx="409.69" cy="519.86" r="0.92"/><circle cx="412.99" cy="516.91" r="0.92"/><circle cx="417.53" cy="511.76" r="0.92"/><circle cx="419.80" cy="519.54" r="0.92"/><circle cx="419.49" cy="528.51" r="0.92"/><circle cx="414.08" cy="507.70" r="0.92"/><circle cx="413.20" cy="505.04" r="0.92"/><circle cx="427.00" cy="505.89" r="0.92"/><circle cx="418.91" cy="508.29" r="0.92"/><circle cx="407.30" cy="509.97" r="0.92"/><circle cx="413.24" cy="501.94" r="0.92"/><circle cx="414.61" cy="516.81" r="0.92"/><circle cx="419.64" cy="514.47" r="0.92"/><circle cx="433.37" cy="513.06" r="0.92"/><circle cx="441.87" cy="508.18" r="0.92"/><circle cx="418.22" cy="521.62" r="0.92"/><circle cx="411.47" cy="519.68" r="0.92"/><circle cx="411.98" cy="504.33" r="0.92"/><circle cx="424.03" cy="530.46" r="0.92"/><circle cx="413.99" cy="503.90" r="0.92"/><circle cx="413.42" cy="507.74" r="0.92"/><circle cx="412.53" cy="503.83" r="0.92"/><circle cx="429.32" cy="525.27" r="0.92"/><circle cx="426.76" cy="518.49" r="0.92"/><circle cx="427.12" cy="511.51" r="0.92"/><circle cx="413.44" cy="502.08" r="0.92"/><circle cx="417.70" cy="522.49" r="0.92"/><circle cx="428.06" cy="502.34" r="0.92"/><circle cx="413.28" cy="510.91" r="0.92"/><circle cx="409.31" cy="503.27" r="0.92"/><circle cx="414.50" cy="508.55" r="0.92"/><circle cx="419.55" cy="517.52" r="0.92"/><circle cx="415.24" cy="512.64" r="0.92"/><circle cx="419.80" cy="513.95" r="0.92"/><circle cx="425.29" cy="513.89" r="0.92"/><circle cx="426.29" cy="526.35" r="0.92"/><circle cx="415.51" cy="515.26" r="0.92"/><circle cx="418.00" cy="506.72" r="0.92"/><circle cx="408.99" cy="510.62" r="0.92"/><circle cx="412.56" cy="512.46" r="0.92"/><circle cx="412.84" cy="515.70" r="0.92"/></g>
<text x="423.56" y="480.90" font-size="4.7" fill="#111" text-anchor="middle" font-weight="normal" font-family='"Liberation Sans", sans-serif' stroke="#111" stroke-width="0.12" >Replication</text>
<text x="423.56" y="485.50" font-size="4.7" fill="#111" text-anchor="middle" font-weight="normal" font-family='"Liberation Sans", sans-serif' stroke="#111" stroke-width="0.12" >log2FC=-0.033</text>
<text x="423.56" y="490.10" font-size="4.7" fill="#111" text-anchor="middle" font-weight="normal" font-family='"Liberation Sans", sans-serif' stroke="#111" stroke-width="0.12" >p-value=0.033</text>
<text x="404.80" y="538.40" font-size="5.6" fill="#3a3a3a" text-anchor="middle" font-weight="normal" font-family='"Liberation Sans", sans-serif' stroke="#3a3a3a" stroke-width="0.12" >20</text>
<text x="414.43" y="538.40" font-size="5.6" fill="#3a3a3a" text-anchor="middle" font-weight="normal" font-family='"Liberation Sans", sans-serif' stroke="#3a3a3a" stroke-width="0.12" >30</text>
<text x="424.06" y="538.40" font-size="5.6" fill="#3a3a3a" text-anchor="middle" font-weight="normal" font-family='"Liberation Sans", sans-serif' stroke="#3a3a3a" stroke-width="0.12" >40</text>
<text x="433.69" y="538.40" font-size="5.6" fill="#3a3a3a" text-anchor="middle" font-weight="normal" font-family='"Liberation Sans", sans-serif' stroke="#3a3a3a" stroke-width="0.12" >50</text>
<text x="443.32" y="538.40" font-size="5.6" fill="#3a3a3a" text-anchor="middle" font-weight="normal" font-family='"Liberation Sans", sans-serif' stroke="#3a3a3a" stroke-width="0.12" >60</text>
<text x="400.60" y="543.80" font-size="5.8" fill="#222" text-anchor="middle" font-weight="bold" font-family='"Liberation Sans", sans-serif' >BMI</text>
<rect x="464.60" y="444.50" width="91.30" height="10.60" fill="#bf1fff"/>
<text x="510.25" y="452.00" font-size="4.6" fill="#fff" text-anchor="middle" font-weight="normal" font-family='"Liberation Sans", sans-serif' >Lesional</text>
<rect x="464.60" y="455.10" width="91.30" height="10.90" fill="#5e958c"/>
<text x="510.25" y="462.75" font-size="4.6" fill="#fff" text-anchor="middle" font-weight="normal" font-family='"Liberation Sans", sans-serif' >Adalimumab</text>
<text x="510.25" y="471.00" font-size="4.7" fill="#111" text-anchor="middle" font-weight="normal" font-family='"Liberation Sans", sans-serif' stroke="#111" stroke-width="0.12" >signed fit range=-1.9</text>
<text x="510.25" y="475.50" font-size="4.7" fill="#111" text-anchor="middle" font-weight="normal" font-family='"Liberation Sans", sans-serif' stroke="#111" stroke-width="0.12" >q-value=1.7e-11</text>
<rect x="450.30" y="478.10" width="6.10" height="54.40" fill="#f7fce2"/>
<text x="0" y="0" transform="translate(454.45,505.30) rotate(-90)" font-size="4.75" fill="#111" text-anchor="middle" font-family='"Liberation Sans", sans-serif'>PDE9A</text>
<text x="461.60" y="534.60" font-size="5.6" fill="#3a3a3a" text-anchor="middle" font-weight="normal" font-family='"Liberation Sans", sans-serif' stroke="#3a3a3a" stroke-width="0.12" >-2</text>
<text x="461.60" y="517.37" font-size="5.6" fill="#3a3a3a" text-anchor="middle" font-weight="normal" font-family='"Liberation Sans", sans-serif' stroke="#3a3a3a" stroke-width="0.12" >0</text>
<text x="461.60" y="500.13" font-size="5.6" fill="#3a3a3a" text-anchor="middle" font-weight="normal" font-family='"Liberation Sans", sans-serif' stroke="#3a3a3a" stroke-width="0.12" >2</text>
<text x="461.60" y="482.90" font-size="5.6" fill="#3a3a3a" text-anchor="middle" font-weight="normal" font-family='"Liberation Sans", sans-serif' stroke="#3a3a3a" stroke-width="0.12" >4</text>
<defs><clipPath id="pa_PDE9A"><rect x="464.60" y="478.10" width="91.30" height="54.40"/></clipPath></defs>
<line x1="480.44" y1="478.10" x2="480.44" y2="532.50" stroke="#f5f5f5" stroke-width="0.35"/>
<line x1="503.90" y1="478.10" x2="503.90" y2="532.50" stroke="#f5f5f5" stroke-width="0.35"/>
<line x1="527.38" y1="478.10" x2="527.38" y2="532.50" stroke="#f5f5f5" stroke-width="0.35"/>
<line x1="550.85" y1="478.10" x2="550.85" y2="532.50" stroke="#f5f5f5" stroke-width="0.35"/>
<line x1="464.60" y1="524.18" x2="555.90" y2="524.18" stroke="#f5f5f5" stroke-width="0.35"/>
<line x1="464.60" y1="506.95" x2="555.90" y2="506.95" stroke="#f5f5f5" stroke-width="0.35"/>
<line x1="464.60" y1="489.72" x2="555.90" y2="489.72" stroke="#f5f5f5" stroke-width="0.35"/>
<line x1="468.70" y1="478.10" x2="468.70" y2="532.50" stroke="#ebebeb" stroke-width="0.5"/>
<line x1="492.17" y1="478.10" x2="492.17" y2="532.50" stroke="#ebebeb" stroke-width="0.5"/>
<line x1="515.64" y1="478.10" x2="515.64" y2="532.50" stroke="#ebebeb" stroke-width="0.5"/>
<line x1="539.11" y1="478.10" x2="539.11" y2="532.50" stroke="#ebebeb" stroke-width="0.5"/>
<line x1="464.60" y1="532.80" x2="555.90" y2="532.80" stroke="#ebebeb" stroke-width="0.5"/>
<line x1="464.60" y1="515.57" x2="555.90" y2="515.57" stroke="#ebebeb" stroke-width="0.5"/>
<line x1="464.60" y1="498.33" x2="555.90" y2="498.33" stroke="#ebebeb" stroke-width="0.5"/>
<line x1="464.60" y1="481.10" x2="555.90" y2="481.10" stroke="#ebebeb" stroke-width="0.5"/>
<path d="M468.70,496.52L470.82,497.69L472.94,498.86L475.05,500.02L477.17,501.00L479.29,501.85L481.41,502.64L483.53,503.34L485.65,503.99L487.76,504.61L489.88,505.18L492.00,505.66L494.12,506.05L496.24,506.35L498.36,506.60L500.47,506.83L502.59,507.06L504.71,507.30L506.83,507.53L508.95,507.72L511.07,507.88L513.18,508.01L515.30,508.12L517.42,508.21L519.54,508.30L521.66,508.36L523.78,508.39L525.89,508.41L528.01,508.39L530.13,508.35L532.25,508.29L534.37,508.20L536.49,508.09L538.60,507.96L540.72,507.80L542.84,507.63L544.96,507.43L547.08,507.20L549.20,506.96L551.31,506.69L551.31,522.20L549.20,521.35L547.08,520.52L544.96,519.72L542.84,518.93L540.72,518.17L538.60,517.43L536.49,516.72L534.37,516.02L532.25,515.35L530.13,514.71L528.01,514.09L525.89,513.49L523.78,512.92L521.66,512.37L519.54,511.86L517.42,511.37L515.30,510.93L513.18,510.54L511.07,510.19L508.95,509.87L506.83,509.60L504.71,509.37L502.59,509.13L500.47,508.90L498.36,508.66L496.24,508.41L494.12,508.12L492.00,507.73L489.88,507.24L487.76,506.68L485.65,506.06L483.53,505.41L481.41,504.70L479.29,503.92L477.17,503.07L475.05,502.24L472.94,501.54L470.82,500.84L468.70,500.14Z" fill="#8c8c8c" fill-opacity="0.42" clip-path="url(#pa_PDE9A)"/>
<path d="M468.70,498.33L470.82,499.27L472.94,500.20L475.05,501.13L477.17,502.03L479.29,502.89L481.41,503.67L483.53,504.38L485.65,505.03L487.76,505.64L489.88,506.21L492.00,506.70L494.12,507.08L496.24,507.38L498.36,507.63L500.47,507.86L502.59,508.10L504.71,508.33L506.83,508.56L508.95,508.80L511.07,509.03L513.18,509.27L515.30,509.53L517.42,509.79L519.54,510.08L521.66,510.36L523.78,510.66L525.89,510.95L528.01,511.24L530.13,511.53L532.25,511.82L534.37,512.11L536.49,512.41L538.60,512.70L540.72,512.99L542.84,513.28L544.96,513.57L547.08,513.86L549.20,514.15L551.31,514.45" fill="none" stroke="#1e1e1e" stroke-width="1.05" clip-path="url(#pa_PDE9A)"/>
<g fill="#ff7f00"><circle cx="484.66" cy="500.43" r="0.92"/><circle cx="472.90" cy="499.55" r="0.92"/><circle cx="470.10" cy="502.75" r="0.92"/><circle cx="470.93" cy="497.14" r="0.92"/><circle cx="475.82" cy="492.26" r="0.92"/><circle cx="485.10" cy="494.87" r="0.92"/><circle cx="486.97" cy="515.80" r="0.92"/><circle cx="471.50" cy="509.90" r="0.92"/><circle cx="479.85" cy="487.27" r="0.92"/><circle cx="470.10" cy="501.13" r="0.92"/><circle cx="471.96" cy="526.92" r="0.92"/><circle cx="472.52" cy="519.27" r="0.92"/><circle cx="472.17" cy="505.96" r="0.92"/><circle cx="474.09" cy="496.44" r="0.92"/><circle cx="477.38" cy="490.74" r="0.92"/><circle cx="468.78" cy="482.90" r="0.92"/><circle cx="470.78" cy="486.39" r="0.92"/><circle cx="471.28" cy="504.05" r="0.92"/><circle cx="484.48" cy="500.43" r="0.92"/><circle cx="479.67" cy="501.40" r="0.92"/><circle cx="469.27" cy="499.17" r="0.92"/><circle cx="480.33" cy="502.52" r="0.92"/><circle cx="471.77" cy="502.55" r="0.92"/><circle cx="475.48" cy="507.82" r="0.92"/><circle cx="475.49" cy="500.33" r="0.92"/><circle cx="485.02" cy="495.96" r="0.92"/><circle cx="472.06" cy="495.22" r="0.92"/><circle cx="471.96" cy="494.65" r="0.92"/><circle cx="477.34" cy="492.86" r="0.92"/><circle cx="470.03" cy="484.19" r="0.92"/><circle cx="468.78" cy="497.81" r="0.92"/><circle cx="481.47" cy="497.77" r="0.92"/><circle cx="474.27" cy="499.02" r="0.92"/><circle cx="470.58" cy="500.26" r="0.92"/><circle cx="481.17" cy="489.23" r="0.92"/><circle cx="480.69" cy="521.43" r="0.92"/><circle cx="486.25" cy="512.36" r="0.92"/><circle cx="477.92" cy="508.33" r="0.92"/><circle cx="480.32" cy="496.54" r="0.92"/><circle cx="485.55" cy="511.34" r="0.92"/><circle cx="476.65" cy="483.90" r="0.92"/><circle cx="475.05" cy="511.99" r="0.92"/><circle cx="469.97" cy="502.47" r="0.92"/><circle cx="472.41" cy="510.61" r="0.92"/><circle cx="469.58" cy="497.48" r="0.92"/><circle cx="476.01" cy="500.53" r="0.92"/><circle cx="474.57" cy="498.89" r="0.92"/><circle cx="469.86" cy="495.22" r="0.92"/><circle cx="477.08" cy="492.58" r="0.92"/><circle cx="484.82" cy="508.71" r="0.92"/><circle cx="469.37" cy="527.63" r="0.92"/><circle cx="471.61" cy="515.67" r="0.92"/><circle cx="480.28" cy="491.69" r="0.92"/><circle cx="482.51" cy="498.79" r="0.92"/><circle cx="468.79" cy="493.85" r="0.92"/><circle cx="473.72" cy="492.94" r="0.92"/><circle cx="469.45" cy="516.53" r="0.92"/><circle cx="473.50" cy="513.93" r="0.92"/><circle cx="481.24" cy="507.41" r="0.92"/><circle cx="480.35" cy="506.17" r="0.92"/><circle cx="469.21" cy="493.29" r="0.92"/><circle cx="485.24" cy="492.05" r="0.92"/></g>
<g fill="#4daf4a"><circle cx="494.38" cy="513.84" r="0.92"/><circle cx="507.07" cy="495.89" r="0.92"/><circle cx="502.63" cy="499.76" r="0.92"/><circle cx="497.04" cy="504.34" r="0.92"/><circle cx="493.79" cy="512.55" r="0.92"/><circle cx="481.94" cy="507.78" r="0.92"/><circle cx="517.51" cy="506.88" r="0.92"/><circle cx="499.45" cy="507.98" r="0.92"/><circle cx="483.91" cy="501.87" r="0.92"/><circle cx="486.34" cy="501.26" r="0.92"/><circle cx="508.25" cy="519.87" r="0.92"/><circle cx="497.81" cy="510.33" r="0.92"/><circle cx="489.76" cy="506.62" r="0.92"/><circle cx="530.60" cy="518.24" r="0.92"/><circle cx="500.76" cy="504.54" r="0.92"/><circle cx="488.47" cy="529.34" r="0.92"/><circle cx="504.80" cy="507.56" r="0.92"/><circle cx="497.76" cy="506.71" r="0.92"/><circle cx="504.26" cy="502.09" r="0.92"/><circle cx="486.34" cy="505.65" r="0.92"/><circle cx="484.91" cy="495.36" r="0.92"/><circle cx="486.09" cy="501.41" r="0.92"/><circle cx="504.46" cy="505.12" r="0.92"/><circle cx="540.99" cy="508.68" r="0.92"/><circle cx="482.32" cy="502.93" r="0.92"/><circle cx="513.22" cy="515.59" r="0.92"/><circle cx="503.06" cy="505.16" r="0.92"/><circle cx="503.87" cy="517.33" r="0.92"/><circle cx="499.68" cy="496.40" r="0.92"/><circle cx="502.90" cy="503.17" r="0.92"/><circle cx="495.51" cy="523.63" r="0.92"/><circle cx="521.65" cy="500.00" r="0.92"/><circle cx="487.82" cy="506.38" r="0.92"/><circle cx="486.62" cy="496.16" r="0.92"/><circle cx="522.67" cy="518.81" r="0.92"/><circle cx="495.64" cy="480.90" r="0.92"/><circle cx="502.88" cy="503.50" r="0.92"/><circle cx="534.51" cy="517.11" r="0.92"/><circle cx="489.78" cy="524.31" r="0.92"/><circle cx="498.43" cy="506.00" r="0.92"/><circle cx="492.77" cy="522.70" r="0.92"/><circle cx="503.38" cy="516.71" r="0.92"/><circle cx="500.83" cy="504.33" r="0.92"/><circle cx="545.81" cy="517.83" r="0.92"/><circle cx="482.21" cy="486.20" r="0.92"/><circle cx="504.07" cy="493.22" r="0.92"/><circle cx="499.75" cy="503.50" r="0.92"/><circle cx="486.36" cy="502.23" r="0.92"/><circle cx="504.24" cy="512.02" r="0.92"/><circle cx="482.60" cy="521.55" r="0.92"/><circle cx="501.13" cy="508.83" r="0.92"/><circle cx="487.32" cy="507.75" r="0.92"/><circle cx="503.26" cy="504.88" r="0.92"/><circle cx="493.62" cy="501.12" r="0.92"/><circle cx="498.50" cy="500.78" r="0.92"/><circle cx="499.80" cy="512.00" r="0.92"/><circle cx="493.84" cy="507.15" r="0.92"/><circle cx="503.40" cy="503.29" r="0.92"/><circle cx="528.50" cy="489.29" r="0.92"/><circle cx="485.98" cy="505.43" r="0.92"/><circle cx="494.15" cy="503.93" r="0.92"/><circle cx="495.33" cy="508.11" r="0.92"/><circle cx="523.36" cy="509.64" r="0.92"/><circle cx="495.13" cy="516.25" r="0.92"/><circle cx="489.45" cy="526.38" r="0.92"/><circle cx="491.11" cy="495.38" r="0.92"/><circle cx="485.13" cy="504.00" r="0.92"/><circle cx="504.44" cy="508.31" r="0.92"/></g>
<g fill="#377eb8"><circle cx="500.90" cy="512.72" r="0.92"/><circle cx="488.13" cy="501.07" r="0.92"/><circle cx="537.57" cy="510.13" r="0.92"/><circle cx="506.83" cy="510.13" r="0.92"/><circle cx="521.85" cy="520.07" r="0.92"/><circle cx="504.39" cy="486.17" r="0.92"/><circle cx="501.38" cy="524.03" r="0.92"/><circle cx="510.47" cy="511.10" r="0.92"/><circle cx="500.95" cy="516.71" r="0.92"/><circle cx="506.68" cy="516.36" r="0.92"/><circle cx="500.94" cy="516.12" r="0.92"/><circle cx="508.59" cy="523.02" r="0.92"/><circle cx="497.43" cy="505.11" r="0.92"/><circle cx="488.80" cy="496.00" r="0.92"/><circle cx="498.75" cy="512.57" r="0.92"/><circle cx="501.09" cy="500.05" r="0.92"/><circle cx="501.67" cy="493.15" r="0.92"/><circle cx="544.93" cy="511.75" r="0.92"/><circle cx="506.61" cy="510.53" r="0.92"/><circle cx="493.36" cy="503.17" r="0.92"/><circle cx="494.34" cy="501.52" r="0.92"/><circle cx="520.00" cy="513.85" r="0.92"/><circle cx="510.87" cy="507.87" r="0.92"/><circle cx="515.18" cy="525.52" r="0.92"/><circle cx="495.15" cy="505.08" r="0.92"/><circle cx="509.67" cy="515.49" r="0.92"/><circle cx="493.91" cy="508.01" r="0.92"/><circle cx="485.59" cy="501.44" r="0.92"/><circle cx="489.74" cy="495.03" r="0.92"/><circle cx="503.50" cy="511.22" r="0.92"/><circle cx="491.24" cy="500.66" r="0.92"/><circle cx="542.58" cy="510.41" r="0.92"/><circle cx="526.46" cy="501.97" r="0.92"/><circle cx="486.26" cy="513.31" r="0.92"/><circle cx="504.88" cy="505.29" r="0.92"/><circle cx="501.86" cy="504.87" r="0.92"/><circle cx="500.07" cy="515.64" r="0.92"/><circle cx="497.95" cy="493.54" r="0.92"/><circle cx="502.31" cy="510.62" r="0.92"/><circle cx="486.96" cy="505.08" r="0.92"/><circle cx="497.95" cy="516.42" r="0.92"/><circle cx="535.77" cy="500.33" r="0.92"/><circle cx="497.06" cy="505.55" r="0.92"/><circle cx="512.88" cy="527.99" r="0.92"/><circle cx="497.81" cy="504.43" r="0.92"/><circle cx="506.42" cy="515.65" r="0.92"/><circle cx="486.18" cy="518.23" r="0.92"/><circle cx="522.18" cy="508.57" r="0.92"/><circle cx="490.83" cy="521.95" r="0.92"/><circle cx="506.23" cy="505.38" r="0.92"/><circle cx="522.88" cy="508.21" r="0.92"/><circle cx="502.71" cy="510.63" r="0.92"/><circle cx="502.97" cy="518.22" r="0.92"/><circle cx="500.20" cy="491.17" r="0.92"/><circle cx="494.86" cy="507.45" r="0.92"/><circle cx="498.51" cy="480.58" r="0.92"/><circle cx="491.90" cy="505.85" r="0.92"/><circle cx="491.71" cy="499.53" r="0.92"/><circle cx="495.98" cy="516.30" r="0.92"/><circle cx="492.99" cy="496.14" r="0.92"/><circle cx="502.33" cy="520.16" r="0.92"/><circle cx="486.47" cy="513.80" r="0.92"/><circle cx="497.75" cy="509.57" r="0.92"/><circle cx="509.59" cy="506.95" r="0.92"/><circle cx="522.33" cy="516.19" r="0.92"/><circle cx="493.24" cy="516.15" r="0.92"/><circle cx="493.48" cy="509.01" r="0.92"/><circle cx="505.68" cy="512.11" r="0.92"/><circle cx="524.73" cy="497.02" r="0.92"/><circle cx="509.26" cy="526.29" r="0.92"/><circle cx="496.33" cy="501.11" r="0.92"/><circle cx="488.40" cy="503.57" r="0.92"/></g>
<text x="468.70" y="538.30" font-size="5.6" fill="#3a3a3a" text-anchor="middle" font-weight="normal" font-family='"Liberation Sans", sans-serif' stroke="#3a3a3a" stroke-width="0.12" >0</text>
<text x="492.17" y="538.30" font-size="5.6" fill="#3a3a3a" text-anchor="middle" font-weight="normal" font-family='"Liberation Sans", sans-serif' stroke="#3a3a3a" stroke-width="0.12" >10</text>
<text x="515.64" y="538.30" font-size="5.6" fill="#3a3a3a" text-anchor="middle" font-weight="normal" font-family='"Liberation Sans", sans-serif' stroke="#3a3a3a" stroke-width="0.12" >20</text>
<text x="539.11" y="538.30" font-size="5.6" fill="#3a3a3a" text-anchor="middle" font-weight="normal" font-family='"Liberation Sans", sans-serif' stroke="#3a3a3a" stroke-width="0.12" >30</text>
<text x="510.25" y="543.80" font-size="5.8" fill="#222" text-anchor="middle" font-weight="bold" font-family='"Liberation Sans", sans-serif' >PASI</text>
<rect x="573.20" y="444.50" width="91.70" height="10.60" fill="#bf1fff"/>
<text x="619.05" y="452.00" font-size="4.6" fill="#fff" text-anchor="middle" font-weight="normal" font-family='"Liberation Sans", sans-serif' >Lesional</text>
<rect x="573.20" y="455.10" width="91.70" height="10.90" fill="#cb6a1f"/>
<text x="619.05" y="462.75" font-size="4.6" fill="#fff" text-anchor="middle" font-weight="normal" font-family='"Liberation Sans", sans-serif' >Ustekinumab</text>
<text x="619.05" y="471.00" font-size="4.7" fill="#111" text-anchor="middle" font-weight="normal" font-family='"Liberation Sans", sans-serif' stroke="#111" stroke-width="0.12" >signed fit range=-1.6</text>
<text x="619.05" y="475.50" font-size="4.7" fill="#111" text-anchor="middle" font-weight="normal" font-family='"Liberation Sans", sans-serif' stroke="#111" stroke-width="0.12" >q-value=3.1e-10</text>
<rect x="559.40" y="478.10" width="6.50" height="54.40" fill="#f7fce2"/>
<text x="0" y="0" transform="translate(563.75,505.30) rotate(-90)" font-size="4.75" fill="#111" text-anchor="middle" font-family='"Liberation Sans", sans-serif'>PDE9A</text>
<text x="569.90" y="525.10" font-size="5.6" fill="#3a3a3a" text-anchor="middle" font-weight="normal" font-family='"Liberation Sans", sans-serif' stroke="#3a3a3a" stroke-width="0.12" >-1</text>
<text x="569.90" y="514.55" font-size="5.6" fill="#3a3a3a" text-anchor="middle" font-weight="normal" font-family='"Liberation Sans", sans-serif' stroke="#3a3a3a" stroke-width="0.12" >0</text>
<text x="569.90" y="504.00" font-size="5.6" fill="#3a3a3a" text-anchor="middle" font-weight="normal" font-family='"Liberation Sans", sans-serif' stroke="#3a3a3a" stroke-width="0.12" >1</text>
<text x="569.90" y="493.45" font-size="5.6" fill="#3a3a3a" text-anchor="middle" font-weight="normal" font-family='"Liberation Sans", sans-serif' stroke="#3a3a3a" stroke-width="0.12" >2</text>
<text x="569.90" y="482.90" font-size="5.6" fill="#3a3a3a" text-anchor="middle" font-weight="normal" font-family='"Liberation Sans", sans-serif' stroke="#3a3a3a" stroke-width="0.12" >3</text>
<defs><clipPath id="pu_PDE9A"><rect x="573.20" y="478.10" width="91.70" height="54.40"/></clipPath></defs>
<line x1="589.19" y1="478.10" x2="589.19" y2="532.50" stroke="#f5f5f5" stroke-width="0.35"/>
<line x1="613.16" y1="478.10" x2="613.16" y2="532.50" stroke="#f5f5f5" stroke-width="0.35"/>
<line x1="637.12" y1="478.10" x2="637.12" y2="532.50" stroke="#f5f5f5" stroke-width="0.35"/>
<line x1="661.10" y1="478.10" x2="661.10" y2="532.50" stroke="#f5f5f5" stroke-width="0.35"/>
<line x1="573.20" y1="518.02" x2="664.90" y2="518.02" stroke="#f5f5f5" stroke-width="0.35"/>
<line x1="573.20" y1="507.47" x2="664.90" y2="507.47" stroke="#f5f5f5" stroke-width="0.35"/>
<line x1="573.20" y1="496.93" x2="664.90" y2="496.93" stroke="#f5f5f5" stroke-width="0.35"/>
<line x1="573.20" y1="486.38" x2="664.90" y2="486.38" stroke="#f5f5f5" stroke-width="0.35"/>
<line x1="573.20" y1="528.57" x2="664.90" y2="528.57" stroke="#f5f5f5" stroke-width="0.35"/>
<line x1="577.20" y1="478.10" x2="577.20" y2="532.50" stroke="#ebebeb" stroke-width="0.5"/>
<line x1="601.17" y1="478.10" x2="601.17" y2="532.50" stroke="#ebebeb" stroke-width="0.5"/>
<line x1="625.14" y1="478.10" x2="625.14" y2="532.50" stroke="#ebebeb" stroke-width="0.5"/>
<line x1="649.11" y1="478.10" x2="649.11" y2="532.50" stroke="#ebebeb" stroke-width="0.5"/>
<line x1="573.20" y1="523.30" x2="664.90" y2="523.30" stroke="#ebebeb" stroke-width="0.5"/>
<line x1="573.20" y1="512.75" x2="664.90" y2="512.75" stroke="#ebebeb" stroke-width="0.5"/>
<line x1="573.20" y1="502.20" x2="664.90" y2="502.20" stroke="#ebebeb" stroke-width="0.5"/>
<line x1="573.20" y1="491.65" x2="664.90" y2="491.65" stroke="#ebebeb" stroke-width="0.5"/>
<line x1="573.20" y1="481.10" x2="664.90" y2="481.10" stroke="#ebebeb" stroke-width="0.5"/>
<path d="M577.20,491.91L579.36,493.20L581.53,494.48L583.69,495.76L585.85,496.82L588.02,497.71L590.18,498.43L592.34,498.99L594.51,499.43L596.67,499.82L598.83,500.17L601.00,500.46L603.16,500.70L605.32,500.88L607.49,501.03L609.65,501.18L611.82,501.32L613.98,501.46L616.14,501.60L618.31,501.71L620.47,501.79L622.63,501.85L624.80,501.91L626.96,501.98L629.12,502.04L631.29,502.11L633.45,502.15L635.61,502.17L637.78,502.17L639.94,502.15L642.10,502.10L644.27,502.04L646.43,501.95L648.59,501.85L650.76,501.72L652.92,501.58L655.08,501.41L657.25,501.23L659.41,501.02L661.57,500.80L661.57,514.73L659.41,513.97L657.25,513.23L655.08,512.51L652.92,511.81L650.76,511.13L648.59,510.47L646.43,509.83L644.27,509.21L642.10,508.60L639.94,508.03L637.78,507.47L635.61,506.93L633.45,506.42L631.29,505.93L629.12,505.47L626.96,505.05L624.80,504.68L622.63,504.37L620.47,504.11L618.31,503.90L616.14,503.72L613.98,503.57L611.82,503.43L609.65,503.29L607.49,503.14L605.32,502.99L603.16,502.81L601.00,502.57L598.83,502.28L596.67,501.93L594.51,501.54L592.34,501.10L590.18,500.54L588.02,499.82L585.85,498.93L583.69,498.02L581.53,497.22L579.36,496.42L577.20,495.61Z" fill="#8c8c8c" fill-opacity="0.42" clip-path="url(#pu_PDE9A)"/>
<path d="M577.20,493.76L579.36,494.81L581.53,495.85L583.69,496.89L585.85,497.88L588.02,498.76L590.18,499.48L592.34,500.04L594.51,500.49L596.67,500.87L598.83,501.22L601.00,501.52L603.16,501.75L605.32,501.94L607.49,502.09L609.65,502.23L611.82,502.38L613.98,502.52L616.14,502.66L618.31,502.80L620.47,502.95L622.63,503.11L624.80,503.29L626.96,503.51L629.12,503.76L631.29,504.02L633.45,504.28L635.61,504.55L637.78,504.82L639.94,505.09L642.10,505.35L644.27,505.62L646.43,505.89L648.59,506.16L650.76,506.43L652.92,506.69L655.08,506.96L657.25,507.23L659.41,507.50L661.57,507.77" fill="none" stroke="#1e1e1e" stroke-width="1.05" clip-path="url(#pu_PDE9A)"/>
<g fill="#ff7f00"><circle cx="594.90" cy="503.20" r="0.92"/><circle cx="588.34" cy="507.24" r="0.92"/><circle cx="588.16" cy="504.22" r="0.92"/><circle cx="591.48" cy="489.25" r="0.92"/><circle cx="590.07" cy="502.40" r="0.92"/><circle cx="595.23" cy="500.84" r="0.92"/><circle cx="582.52" cy="515.91" r="0.92"/><circle cx="587.40" cy="497.79" r="0.92"/><circle cx="580.21" cy="491.53" r="0.92"/><circle cx="595.52" cy="513.76" r="0.92"/><circle cx="580.97" cy="505.40" r="0.92"/><circle cx="579.48" cy="508.82" r="0.92"/><circle cx="588.25" cy="488.72" r="0.92"/><circle cx="577.62" cy="493.67" r="0.92"/><circle cx="584.39" cy="505.09" r="0.92"/><circle cx="578.02" cy="500.22" r="0.92"/><circle cx="580.44" cy="500.79" r="0.92"/><circle cx="578.24" cy="499.34" r="0.92"/><circle cx="584.63" cy="505.99" r="0.92"/><circle cx="579.82" cy="508.82" r="0.92"/><circle cx="580.36" cy="492.42" r="0.92"/><circle cx="591.96" cy="493.52" r="0.92"/><circle cx="580.61" cy="510.03" r="0.92"/><circle cx="579.12" cy="506.82" r="0.92"/><circle cx="593.07" cy="494.45" r="0.92"/><circle cx="581.75" cy="496.38" r="0.92"/><circle cx="580.08" cy="485.39" r="0.92"/><circle cx="578.55" cy="485.25" r="0.92"/><circle cx="593.13" cy="493.52" r="0.92"/><circle cx="580.76" cy="485.05" r="0.92"/><circle cx="579.59" cy="503.14" r="0.92"/><circle cx="589.95" cy="508.22" r="0.92"/><circle cx="583.95" cy="486.96" r="0.92"/><circle cx="587.05" cy="489.74" r="0.92"/><circle cx="580.94" cy="501.37" r="0.92"/><circle cx="580.40" cy="499.95" r="0.92"/><circle cx="587.82" cy="509.37" r="0.92"/><circle cx="594.78" cy="500.55" r="0.92"/><circle cx="577.73" cy="496.41" r="0.92"/><circle cx="596.02" cy="493.42" r="0.92"/><circle cx="580.56" cy="485.98" r="0.92"/><circle cx="580.07" cy="499.74" r="0.92"/><circle cx="583.08" cy="502.26" r="0.92"/><circle cx="584.41" cy="484.40" r="0.92"/><circle cx="587.05" cy="500.30" r="0.92"/><circle cx="580.89" cy="498.99" r="0.92"/><circle cx="577.82" cy="507.36" r="0.92"/><circle cx="588.59" cy="497.03" r="0.92"/><circle cx="579.18" cy="502.69" r="0.92"/><circle cx="590.43" cy="500.18" r="0.92"/><circle cx="577.41" cy="499.33" r="0.92"/><circle cx="578.39" cy="499.07" r="0.92"/><circle cx="590.70" cy="503.98" r="0.92"/><circle cx="578.20" cy="485.55" r="0.92"/><circle cx="578.68" cy="487.59" r="0.92"/><circle cx="580.69" cy="497.05" r="0.92"/><circle cx="588.70" cy="509.47" r="0.92"/><circle cx="577.78" cy="505.86" r="0.92"/><circle cx="584.92" cy="509.96" r="0.92"/><circle cx="582.91" cy="501.35" r="0.92"/><circle cx="580.72" cy="502.74" r="0.92"/><circle cx="582.75" cy="497.80" r="0.92"/></g>
<g fill="#4daf4a"><circle cx="591.96" cy="495.00" r="0.92"/><circle cx="614.04" cy="512.19" r="0.92"/><circle cx="596.51" cy="491.22" r="0.92"/><circle cx="634.69" cy="499.91" r="0.92"/><circle cx="610.71" cy="496.77" r="0.92"/><circle cx="654.11" cy="502.19" r="0.92"/><circle cx="635.63" cy="503.25" r="0.92"/><circle cx="639.02" cy="513.33" r="0.92"/><circle cx="600.26" cy="498.83" r="0.92"/><circle cx="612.32" cy="509.76" r="0.92"/><circle cx="603.50" cy="510.64" r="0.92"/><circle cx="598.91" cy="517.17" r="0.92"/><circle cx="600.78" cy="518.10" r="0.92"/><circle cx="627.97" cy="503.83" r="0.92"/><circle cx="604.82" cy="504.34" r="0.92"/><circle cx="645.46" cy="489.66" r="0.92"/><circle cx="607.29" cy="501.82" r="0.92"/><circle cx="649.51" cy="516.21" r="0.92"/><circle cx="644.29" cy="515.92" r="0.92"/><circle cx="608.10" cy="516.08" r="0.92"/><circle cx="630.28" cy="504.39" r="0.92"/><circle cx="611.13" cy="499.22" r="0.92"/><circle cx="595.75" cy="500.11" r="0.92"/><circle cx="654.61" cy="503.21" r="0.92"/><circle cx="613.33" cy="503.50" r="0.92"/><circle cx="611.01" cy="505.43" r="0.92"/><circle cx="606.22" cy="497.65" r="0.92"/><circle cx="601.60" cy="496.52" r="0.92"/><circle cx="610.70" cy="486.97" r="0.92"/><circle cx="596.03" cy="496.87" r="0.92"/><circle cx="612.01" cy="507.72" r="0.92"/><circle cx="610.35" cy="492.72" r="0.92"/><circle cx="611.51" cy="498.58" r="0.92"/><circle cx="609.97" cy="512.02" r="0.92"/><circle cx="603.09" cy="504.50" r="0.92"/><circle cx="637.81" cy="503.42" r="0.92"/><circle cx="600.45" cy="512.77" r="0.92"/><circle cx="612.22" cy="503.26" r="0.92"/><circle cx="643.16" cy="498.16" r="0.92"/><circle cx="593.98" cy="502.22" r="0.92"/><circle cx="593.75" cy="512.62" r="0.92"/><circle cx="619.70" cy="499.25" r="0.92"/><circle cx="595.16" cy="506.25" r="0.92"/><circle cx="608.91" cy="498.24" r="0.92"/><circle cx="601.42" cy="497.44" r="0.92"/><circle cx="597.07" cy="488.49" r="0.92"/><circle cx="608.03" cy="488.32" r="0.92"/><circle cx="650.93" cy="508.81" r="0.92"/><circle cx="637.48" cy="499.49" r="0.92"/><circle cx="612.12" cy="500.20" r="0.92"/><circle cx="631.48" cy="504.72" r="0.92"/><circle cx="606.30" cy="494.13" r="0.92"/><circle cx="609.71" cy="497.20" r="0.92"/><circle cx="613.01" cy="501.02" r="0.92"/><circle cx="619.73" cy="499.69" r="0.92"/><circle cx="609.95" cy="499.85" r="0.92"/><circle cx="615.31" cy="489.84" r="0.92"/><circle cx="611.07" cy="510.24" r="0.92"/><circle cx="593.12" cy="509.52" r="0.92"/><circle cx="596.72" cy="504.79" r="0.92"/><circle cx="613.26" cy="507.50" r="0.92"/><circle cx="618.50" cy="522.53" r="0.92"/><circle cx="614.97" cy="496.44" r="0.92"/><circle cx="590.71" cy="514.82" r="0.92"/><circle cx="605.12" cy="502.76" r="0.92"/><circle cx="641.94" cy="504.55" r="0.92"/><circle cx="591.47" cy="491.97" r="0.92"/><circle cx="598.52" cy="507.91" r="0.92"/></g>
<g fill="#377eb8"><circle cx="654.46" cy="518.13" r="0.92"/><circle cx="600.40" cy="500.44" r="0.92"/><circle cx="620.12" cy="494.52" r="0.92"/><circle cx="599.25" cy="494.90" r="0.92"/><circle cx="609.42" cy="510.33" r="0.92"/><circle cx="595.76" cy="510.09" r="0.92"/><circle cx="597.65" cy="508.92" r="0.92"/><circle cx="642.74" cy="503.97" r="0.92"/><circle cx="611.11" cy="505.51" r="0.92"/><circle cx="617.95" cy="511.13" r="0.92"/><circle cx="598.27" cy="499.49" r="0.92"/><circle cx="650.26" cy="515.04" r="0.92"/><circle cx="596.45" cy="510.55" r="0.92"/><circle cx="648.82" cy="503.76" r="0.92"/><circle cx="618.52" cy="502.23" r="0.92"/><circle cx="611.69" cy="492.14" r="0.92"/><circle cx="611.94" cy="507.17" r="0.92"/><circle cx="594.46" cy="500.33" r="0.92"/><circle cx="642.48" cy="509.10" r="0.92"/><circle cx="615.26" cy="497.67" r="0.92"/><circle cx="614.73" cy="494.47" r="0.92"/><circle cx="656.58" cy="491.70" r="0.92"/><circle cx="615.64" cy="502.41" r="0.92"/><circle cx="610.32" cy="514.03" r="0.92"/><circle cx="595.41" cy="508.60" r="0.92"/><circle cx="601.65" cy="502.49" r="0.92"/><circle cx="595.62" cy="500.11" r="0.92"/><circle cx="649.42" cy="510.16" r="0.92"/><circle cx="608.13" cy="501.08" r="0.92"/><circle cx="596.89" cy="491.08" r="0.92"/><circle cx="596.46" cy="502.31" r="0.92"/><circle cx="652.03" cy="504.46" r="0.92"/><circle cx="601.96" cy="504.71" r="0.92"/><circle cx="604.08" cy="519.08" r="0.92"/><circle cx="594.45" cy="514.09" r="0.92"/><circle cx="596.98" cy="504.72" r="0.92"/><circle cx="605.99" cy="511.99" r="0.92"/><circle cx="610.09" cy="512.75" r="0.92"/><circle cx="648.40" cy="520.30" r="0.92"/><circle cx="651.17" cy="506.89" r="0.92"/><circle cx="652.04" cy="508.52" r="0.92"/><circle cx="617.13" cy="494.65" r="0.92"/><circle cx="612.61" cy="485.31" r="0.92"/><circle cx="601.90" cy="505.79" r="0.92"/><circle cx="605.66" cy="496.26" r="0.92"/><circle cx="638.66" cy="492.71" r="0.92"/><circle cx="661.90" cy="513.35" r="0.92"/><circle cx="612.71" cy="502.42" r="0.92"/><circle cx="600.06" cy="493.32" r="0.92"/><circle cx="656.89" cy="513.63" r="0.92"/><circle cx="654.77" cy="494.97" r="0.92"/><circle cx="630.32" cy="492.21" r="0.92"/><circle cx="610.51" cy="493.24" r="0.92"/><circle cx="608.15" cy="497.55" r="0.92"/><circle cx="611.12" cy="503.33" r="0.92"/><circle cx="618.71" cy="517.47" r="0.92"/><circle cx="660.07" cy="497.96" r="0.92"/><circle cx="599.58" cy="505.40" r="0.92"/><circle cx="600.84" cy="484.86" r="0.92"/><circle cx="661.59" cy="503.97" r="0.92"/><circle cx="641.16" cy="497.64" r="0.92"/><circle cx="645.43" cy="505.71" r="0.92"/><circle cx="612.20" cy="496.30" r="0.92"/><circle cx="600.82" cy="490.53" r="0.92"/><circle cx="638.80" cy="507.47" r="0.92"/><circle cx="641.45" cy="506.23" r="0.92"/><circle cx="594.36" cy="497.76" r="0.92"/><circle cx="597.73" cy="494.06" r="0.92"/><circle cx="640.95" cy="499.20" r="0.92"/><circle cx="614.27" cy="500.95" r="0.92"/><circle cx="604.76" cy="498.64" r="0.92"/><circle cx="624.37" cy="503.68" r="0.92"/></g>
<text x="577.20" y="538.30" font-size="5.6" fill="#3a3a3a" text-anchor="middle" font-weight="normal" font-family='"Liberation Sans", sans-serif' stroke="#3a3a3a" stroke-width="0.12" >0</text>
<text x="601.17" y="538.30" font-size="5.6" fill="#3a3a3a" text-anchor="middle" font-weight="normal" font-family='"Liberation Sans", sans-serif' stroke="#3a3a3a" stroke-width="0.12" >10</text>
<text x="625.14" y="538.30" font-size="5.6" fill="#3a3a3a" text-anchor="middle" font-weight="normal" font-family='"Liberation Sans", sans-serif' stroke="#3a3a3a" stroke-width="0.12" >20</text>
<text x="649.11" y="538.30" font-size="5.6" fill="#3a3a3a" text-anchor="middle" font-weight="normal" font-family='"Liberation Sans", sans-serif' stroke="#3a3a3a" stroke-width="0.12" >30</text>
<text x="619.05" y="543.80" font-size="5.8" fill="#222" text-anchor="middle" font-weight="bold" font-family='"Liberation Sans", sans-serif' >PASI</text>
<rect x="28.20" y="548.00" width="93.80" height="15.40" fill="#f2bccb"/>
<text x="75.10" y="557.90" font-size="4.6" fill="#222" text-anchor="middle" font-weight="normal" font-family='"Liberation Sans", sans-serif' stroke="#222" stroke-width="0.12" >Nonlesional</text>
<rect x="28.20" y="563.40" width="93.80" height="16.00" fill="#80ffff"/>
<text x="75.10" y="573.60" font-size="4.6" fill="#222" text-anchor="middle" font-weight="normal" font-family='"Liberation Sans", sans-serif' stroke="#222" stroke-width="0.12" >Both drugs</text>
<rect x="16.10" y="596.10" width="6.20" height="40.70" fill="#f7fce2"/>
<text x="0" y="0" transform="translate(20.30,616.45) rotate(-90)" font-size="4.75" fill="#111" text-anchor="middle" font-family='"Liberation Sans", sans-serif'>GNG7</text>
<text x="24.90" y="634.60" font-size="5.6" fill="#3a3a3a" text-anchor="middle" font-weight="normal" font-family='"Liberation Sans", sans-serif' stroke="#3a3a3a" stroke-width="0.12" >1</text>
<text x="24.90" y="623.97" font-size="5.6" fill="#3a3a3a" text-anchor="middle" font-weight="normal" font-family='"Liberation Sans", sans-serif' stroke="#3a3a3a" stroke-width="0.12" >2</text>
<text x="24.90" y="613.33" font-size="5.6" fill="#3a3a3a" text-anchor="middle" font-weight="normal" font-family='"Liberation Sans", sans-serif' stroke="#3a3a3a" stroke-width="0.12" >3</text>
<text x="24.90" y="602.70" font-size="5.6" fill="#3a3a3a" text-anchor="middle" font-weight="normal" font-family='"Liberation Sans", sans-serif' stroke="#3a3a3a" stroke-width="0.12" >4</text>
<defs><clipPath id="b_GNG7_0"><rect x="28.03" y="596.10" width="46.32" height="40.70"/></clipPath></defs>
<line x1="36.21" y1="596.10" x2="36.21" y2="636.80" stroke="#f5f5f5" stroke-width="0.35"/>
<line x1="45.84" y1="596.10" x2="45.84" y2="636.80" stroke="#f5f5f5" stroke-width="0.35"/>
<line x1="55.47" y1="596.10" x2="55.47" y2="636.80" stroke="#f5f5f5" stroke-width="0.35"/>
<line x1="65.10" y1="596.10" x2="65.10" y2="636.80" stroke="#f5f5f5" stroke-width="0.35"/>
<line x1="28.03" y1="627.48" x2="74.35" y2="627.48" stroke="#f5f5f5" stroke-width="0.35"/>
<line x1="28.03" y1="616.85" x2="74.35" y2="616.85" stroke="#f5f5f5" stroke-width="0.35"/>
<line x1="28.03" y1="606.22" x2="74.35" y2="606.22" stroke="#f5f5f5" stroke-width="0.35"/>
<line x1="31.40" y1="596.10" x2="31.40" y2="636.80" stroke="#ebebeb" stroke-width="0.5"/>
<line x1="41.03" y1="596.10" x2="41.03" y2="636.80" stroke="#ebebeb" stroke-width="0.5"/>
<line x1="50.66" y1="596.10" x2="50.66" y2="636.80" stroke="#ebebeb" stroke-width="0.5"/>
<line x1="60.29" y1="596.10" x2="60.29" y2="636.80" stroke="#ebebeb" stroke-width="0.5"/>
<line x1="69.92" y1="596.10" x2="69.92" y2="636.80" stroke="#ebebeb" stroke-width="0.5"/>
<line x1="28.03" y1="632.80" x2="74.35" y2="632.80" stroke="#ebebeb" stroke-width="0.5"/>
<line x1="28.03" y1="622.17" x2="74.35" y2="622.17" stroke="#ebebeb" stroke-width="0.5"/>
<line x1="28.03" y1="611.53" x2="74.35" y2="611.53" stroke="#ebebeb" stroke-width="0.5"/>
<line x1="28.03" y1="600.90" x2="74.35" y2="600.90" stroke="#ebebeb" stroke-width="0.5"/>
<path d="M31.40,610.98L32.75,611.77L34.10,612.53L35.44,613.26L36.79,613.96L38.14,614.64L39.49,615.28L40.84,615.90L42.19,616.49L43.53,617.06L44.88,617.59L46.23,618.10L47.58,618.58L48.93,619.03L50.27,619.46L51.62,619.86L52.97,620.22L54.32,620.57L55.67,620.88L57.02,621.16L58.36,621.42L58.36,626.10L57.02,625.30L55.67,624.52L54.32,623.77L52.97,623.05L51.62,622.35L50.27,621.69L48.93,621.05L47.58,620.44L46.23,619.85L44.88,619.30L43.53,618.77L42.19,618.27L40.84,617.80L39.49,617.35L38.14,616.94L36.79,616.55L35.44,616.19L34.10,615.86L32.75,615.55L31.40,615.27Z" fill="#8c8c8c" fill-opacity="0.42" clip-path="url(#b_GNG7_0)"/>
<path d="M31.40,613.13L32.75,613.66L34.10,614.19L35.44,614.72L36.79,615.25L38.14,615.79L39.49,616.32L40.84,616.85L42.19,617.38L43.53,617.91L44.88,618.44L46.23,618.98L47.58,619.51L48.93,620.04L50.27,620.57L51.62,621.10L52.97,621.63L54.32,622.17L55.67,622.70L57.02,623.23L58.36,623.76" fill="none" stroke="#1e1e1e" stroke-width="1.05" clip-path="url(#b_GNG7_0)"/>
<g fill="#377eb8"><circle cx="39.55" cy="626.16" r="0.92"/><circle cx="35.81" cy="610.81" r="0.92"/><circle cx="41.78" cy="610.59" r="0.92"/><circle cx="36.95" cy="617.06" r="0.92"/><circle cx="37.42" cy="620.69" r="0.92"/><circle cx="49.95" cy="611.05" r="0.92"/><circle cx="48.60" cy="629.29" r="0.92"/><circle cx="44.99" cy="611.26" r="0.92"/><circle cx="43.48" cy="620.23" r="0.92"/><circle cx="32.20" cy="602.62" r="0.92"/><circle cx="39.47" cy="630.87" r="0.92"/><circle cx="53.59" cy="620.74" r="0.92"/><circle cx="55.44" cy="628.25" r="0.92"/><circle cx="31.71" cy="612.49" r="0.92"/><circle cx="48.24" cy="616.40" r="0.92"/><circle cx="43.88" cy="620.31" r="0.92"/><circle cx="44.44" cy="610.44" r="0.92"/><circle cx="39.38" cy="618.21" r="0.92"/><circle cx="35.03" cy="615.76" r="0.92"/><circle cx="43.12" cy="614.50" r="0.92"/><circle cx="49.23" cy="618.88" r="0.92"/><circle cx="37.35" cy="631.43" r="0.92"/><circle cx="43.62" cy="623.32" r="0.92"/><circle cx="47.50" cy="627.27" r="0.92"/><circle cx="50.22" cy="626.56" r="0.92"/><circle cx="52.45" cy="620.68" r="0.92"/><circle cx="42.54" cy="615.12" r="0.92"/><circle cx="48.47" cy="611.14" r="0.92"/><circle cx="43.72" cy="613.02" r="0.92"/><circle cx="44.47" cy="618.38" r="0.92"/><circle cx="34.81" cy="618.44" r="0.92"/><circle cx="51.01" cy="627.18" r="0.92"/><circle cx="47.32" cy="616.89" r="0.92"/><circle cx="44.05" cy="610.62" r="0.92"/><circle cx="48.81" cy="620.91" r="0.92"/><circle cx="56.56" cy="627.09" r="0.92"/><circle cx="50.47" cy="613.27" r="0.92"/><circle cx="38.69" cy="610.44" r="0.92"/><circle cx="52.70" cy="622.48" r="0.92"/><circle cx="37.51" cy="614.63" r="0.92"/><circle cx="39.71" cy="612.80" r="0.92"/><circle cx="54.23" cy="620.94" r="0.92"/><circle cx="37.56" cy="619.81" r="0.92"/><circle cx="34.45" cy="611.36" r="0.92"/><circle cx="52.49" cy="624.60" r="0.92"/><circle cx="38.69" cy="622.99" r="0.92"/><circle cx="47.35" cy="609.37" r="0.92"/><circle cx="45.34" cy="620.94" r="0.92"/><circle cx="53.61" cy="632.21" r="0.92"/><circle cx="32.00" cy="616.89" r="0.92"/><circle cx="53.48" cy="619.32" r="0.92"/><circle cx="47.57" cy="614.79" r="0.92"/><circle cx="32.13" cy="611.91" r="0.92"/><circle cx="36.58" cy="615.56" r="0.92"/><circle cx="40.39" cy="614.96" r="0.92"/><circle cx="44.25" cy="609.60" r="0.92"/><circle cx="57.48" cy="627.52" r="0.92"/><circle cx="44.17" cy="625.90" r="0.92"/><circle cx="42.56" cy="619.17" r="0.92"/><circle cx="33.71" cy="612.13" r="0.92"/><circle cx="44.77" cy="623.24" r="0.92"/><circle cx="43.56" cy="616.94" r="0.92"/><circle cx="49.59" cy="622.87" r="0.92"/><circle cx="30.11" cy="626.43" r="0.92"/><circle cx="48.74" cy="622.17" r="0.92"/><circle cx="40.49" cy="620.08" r="0.92"/><circle cx="38.24" cy="601.93" r="0.92"/><circle cx="40.96" cy="625.56" r="0.92"/><circle cx="45.23" cy="608.92" r="0.92"/><circle cx="48.32" cy="622.29" r="0.92"/><circle cx="44.21" cy="604.54" r="0.92"/><circle cx="54.00" cy="624.62" r="0.92"/><circle cx="55.75" cy="620.82" r="0.92"/><circle cx="44.79" cy="630.24" r="0.92"/><circle cx="40.06" cy="611.53" r="0.92"/><circle cx="54.59" cy="623.99" r="0.92"/><circle cx="46.32" cy="615.88" r="0.92"/><circle cx="42.28" cy="618.21" r="0.92"/><circle cx="53.05" cy="624.02" r="0.92"/><circle cx="31.02" cy="610.79" r="0.92"/><circle cx="46.42" cy="616.01" r="0.92"/><circle cx="54.00" cy="614.76" r="0.92"/><circle cx="43.03" cy="612.82" r="0.92"/><circle cx="47.32" cy="619.62" r="0.92"/><circle cx="40.90" cy="613.33" r="0.92"/><circle cx="40.25" cy="613.17" r="0.92"/><circle cx="49.64" cy="631.78" r="0.92"/><circle cx="56.01" cy="622.12" r="0.92"/><circle cx="51.22" cy="630.55" r="0.92"/><circle cx="37.99" cy="611.11" r="0.92"/></g>
<text x="50.16" y="584.90" font-size="4.7" fill="#111" text-anchor="middle" font-weight="normal" font-family='"Liberation Sans", sans-serif' stroke="#111" stroke-width="0.12" >Discovery</text>
<text x="50.16" y="589.50" font-size="4.7" fill="#111" text-anchor="middle" font-weight="normal" font-family='"Liberation Sans", sans-serif' stroke="#111" stroke-width="0.12" >log2FC=-0.034</text>
<text x="50.16" y="594.10" font-size="4.7" fill="#111" text-anchor="middle" font-weight="normal" font-family='"Liberation Sans", sans-serif' stroke="#111" stroke-width="0.12" >FDR=0.027</text>
<text x="31.40" y="642.40" font-size="5.6" fill="#3a3a3a" text-anchor="middle" font-weight="normal" font-family='"Liberation Sans", sans-serif' stroke="#3a3a3a" stroke-width="0.12" >20</text>
<text x="41.03" y="642.40" font-size="5.6" fill="#3a3a3a" text-anchor="middle" font-weight="normal" font-family='"Liberation Sans", sans-serif' stroke="#3a3a3a" stroke-width="0.12" >30</text>
<text x="50.66" y="642.40" font-size="5.6" fill="#3a3a3a" text-anchor="middle" font-weight="normal" font-family='"Liberation Sans", sans-serif' stroke="#3a3a3a" stroke-width="0.12" >40</text>
<text x="60.29" y="642.40" font-size="5.6" fill="#3a3a3a" text-anchor="middle" font-weight="normal" font-family='"Liberation Sans", sans-serif' stroke="#3a3a3a" stroke-width="0.12" >50</text>
<text x="69.92" y="642.40" font-size="5.6" fill="#3a3a3a" text-anchor="middle" font-weight="normal" font-family='"Liberation Sans", sans-serif' stroke="#3a3a3a" stroke-width="0.12" >60</text>
<defs><clipPath id="b_GNG7_1"><rect x="75.83" y="596.10" width="46.17" height="40.70"/></clipPath></defs>
<line x1="84.02" y1="596.10" x2="84.02" y2="636.80" stroke="#f5f5f5" stroke-width="0.35"/>
<line x1="93.65" y1="596.10" x2="93.65" y2="636.80" stroke="#f5f5f5" stroke-width="0.35"/>
<line x1="103.28" y1="596.10" x2="103.28" y2="636.80" stroke="#f5f5f5" stroke-width="0.35"/>
<line x1="112.91" y1="596.10" x2="112.91" y2="636.80" stroke="#f5f5f5" stroke-width="0.35"/>
<line x1="75.83" y1="627.48" x2="122.00" y2="627.48" stroke="#f5f5f5" stroke-width="0.35"/>
<line x1="75.83" y1="616.85" x2="122.00" y2="616.85" stroke="#f5f5f5" stroke-width="0.35"/>
<line x1="75.83" y1="606.22" x2="122.00" y2="606.22" stroke="#f5f5f5" stroke-width="0.35"/>
<line x1="79.20" y1="596.10" x2="79.20" y2="636.80" stroke="#ebebeb" stroke-width="0.5"/>
<line x1="88.83" y1="596.10" x2="88.83" y2="636.80" stroke="#ebebeb" stroke-width="0.5"/>
<line x1="98.46" y1="596.10" x2="98.46" y2="636.80" stroke="#ebebeb" stroke-width="0.5"/>
<line x1="108.09" y1="596.10" x2="108.09" y2="636.80" stroke="#ebebeb" stroke-width="0.5"/>
<line x1="117.72" y1="596.10" x2="117.72" y2="636.80" stroke="#ebebeb" stroke-width="0.5"/>
<line x1="75.83" y1="632.80" x2="122.00" y2="632.80" stroke="#ebebeb" stroke-width="0.5"/>
<line x1="75.83" y1="622.17" x2="122.00" y2="622.17" stroke="#ebebeb" stroke-width="0.5"/>
<line x1="75.83" y1="611.53" x2="122.00" y2="611.53" stroke="#ebebeb" stroke-width="0.5"/>
<line x1="75.83" y1="600.90" x2="122.00" y2="600.90" stroke="#ebebeb" stroke-width="0.5"/>
<path d="M82.09,613.86L83.97,614.71L85.84,615.51L87.72,616.27L89.60,616.97L91.48,617.63L93.36,618.23L95.23,618.79L97.11,619.30L98.99,619.76L100.87,620.17L102.75,620.54L104.62,620.85L106.50,621.12L108.38,621.34L110.26,621.51L112.13,621.63L114.01,621.71L115.89,621.73L117.77,621.71L119.65,621.63L119.65,633.33L117.77,632.09L115.89,630.90L114.01,629.75L112.13,628.66L110.26,627.61L108.38,626.61L106.50,625.66L104.62,624.75L102.75,623.90L100.87,623.10L98.99,622.34L97.11,621.63L95.23,620.97L93.36,620.36L91.48,619.80L89.60,619.28L87.72,618.82L85.84,618.40L83.97,618.03L82.09,617.71Z" fill="#8c8c8c" fill-opacity="0.42" clip-path="url(#b_GNG7_1)"/>
<path d="M82.09,615.79L83.97,616.37L85.84,616.96L87.72,617.54L89.60,618.13L91.48,618.71L93.36,619.30L95.23,619.88L97.11,620.47L98.99,621.05L100.87,621.63L102.75,622.22L104.62,622.80L106.50,623.39L108.38,623.97L110.26,624.56L112.13,625.14L114.01,625.73L115.89,626.31L117.77,626.90L119.65,627.48" fill="none" stroke="#1e1e1e" stroke-width="1.05" clip-path="url(#b_GNG7_1)"/>
<g fill="#377eb8"><circle cx="88.07" cy="615.51" r="0.92"/><circle cx="97.43" cy="624.10" r="0.92"/><circle cx="100.58" cy="628.51" r="0.92"/><circle cx="102.93" cy="627.85" r="0.92"/><circle cx="88.98" cy="628.53" r="0.92"/><circle cx="90.53" cy="609.10" r="0.92"/><circle cx="92.96" cy="622.06" r="0.92"/><circle cx="83.38" cy="606.06" r="0.92"/><circle cx="99.07" cy="631.37" r="0.92"/><circle cx="102.43" cy="610.57" r="0.92"/><circle cx="85.79" cy="625.26" r="0.92"/><circle cx="88.24" cy="615.42" r="0.92"/><circle cx="87.62" cy="613.44" r="0.92"/><circle cx="89.93" cy="616.93" r="0.92"/><circle cx="91.18" cy="616.20" r="0.92"/><circle cx="114.16" cy="623.51" r="0.92"/><circle cx="98.89" cy="615.90" r="0.92"/><circle cx="97.61" cy="625.04" r="0.92"/><circle cx="90.08" cy="623.76" r="0.92"/><circle cx="87.49" cy="618.81" r="0.92"/><circle cx="95.20" cy="626.65" r="0.92"/><circle cx="98.72" cy="619.38" r="0.92"/><circle cx="97.81" cy="611.17" r="0.92"/><circle cx="87.70" cy="616.08" r="0.92"/><circle cx="89.70" cy="627.40" r="0.92"/><circle cx="95.81" cy="613.56" r="0.92"/><circle cx="95.90" cy="618.64" r="0.92"/><circle cx="83.74" cy="616.67" r="0.92"/><circle cx="98.96" cy="621.36" r="0.92"/><circle cx="86.32" cy="631.34" r="0.92"/><circle cx="88.56" cy="612.40" r="0.92"/><circle cx="94.50" cy="612.25" r="0.92"/><circle cx="88.66" cy="620.92" r="0.92"/><circle cx="100.64" cy="621.57" r="0.92"/><circle cx="97.63" cy="607.83" r="0.92"/><circle cx="91.68" cy="631.60" r="0.92"/><circle cx="95.42" cy="621.94" r="0.92"/><circle cx="109.10" cy="613.18" r="0.92"/><circle cx="99.76" cy="624.65" r="0.92"/><circle cx="81.31" cy="623.99" r="0.92"/><circle cx="85.98" cy="619.95" r="0.92"/><circle cx="82.65" cy="612.28" r="0.92"/><circle cx="91.44" cy="618.33" r="0.92"/><circle cx="88.11" cy="628.03" r="0.92"/><circle cx="90.43" cy="610.69" r="0.92"/><circle cx="88.42" cy="628.19" r="0.92"/><circle cx="89.25" cy="622.95" r="0.92"/><circle cx="93.01" cy="620.14" r="0.92"/><circle cx="87.69" cy="616.58" r="0.92"/><circle cx="115.34" cy="627.69" r="0.92"/><circle cx="86.92" cy="631.56" r="0.92"/><circle cx="90.91" cy="614.29" r="0.92"/><circle cx="81.72" cy="610.94" r="0.92"/><circle cx="93.60" cy="615.56" r="0.92"/><circle cx="93.10" cy="614.01" r="0.92"/><circle cx="94.32" cy="612.93" r="0.92"/><circle cx="99.52" cy="622.46" r="0.92"/><circle cx="85.72" cy="616.16" r="0.92"/><circle cx="93.64" cy="616.32" r="0.92"/><circle cx="113.32" cy="619.17" r="0.92"/><circle cx="89.14" cy="623.28" r="0.92"/><circle cx="94.01" cy="622.35" r="0.92"/></g>
<text x="97.96" y="584.90" font-size="4.7" fill="#111" text-anchor="middle" font-weight="normal" font-family='"Liberation Sans", sans-serif' stroke="#111" stroke-width="0.12" >Replication</text>
<text x="97.96" y="589.50" font-size="4.7" fill="#111" text-anchor="middle" font-weight="normal" font-family='"Liberation Sans", sans-serif' stroke="#111" stroke-width="0.12" >log2FC=-0.026</text>
<text x="97.96" y="594.10" font-size="4.7" fill="#111" text-anchor="middle" font-weight="normal" font-family='"Liberation Sans", sans-serif' stroke="#111" stroke-width="0.12" >p-value=0.0068</text>
<text x="79.20" y="642.40" font-size="5.6" fill="#3a3a3a" text-anchor="middle" font-weight="normal" font-family='"Liberation Sans", sans-serif' stroke="#3a3a3a" stroke-width="0.12" >20</text>
<text x="88.83" y="642.40" font-size="5.6" fill="#3a3a3a" text-anchor="middle" font-weight="normal" font-family='"Liberation Sans", sans-serif' stroke="#3a3a3a" stroke-width="0.12" >30</text>
<text x="98.46" y="642.40" font-size="5.6" fill="#3a3a3a" text-anchor="middle" font-weight="normal" font-family='"Liberation Sans", sans-serif' stroke="#3a3a3a" stroke-width="0.12" >40</text>
<text x="108.09" y="642.40" font-size="5.6" fill="#3a3a3a" text-anchor="middle" font-weight="normal" font-family='"Liberation Sans", sans-serif' stroke="#3a3a3a" stroke-width="0.12" >50</text>
<text x="117.72" y="642.40" font-size="5.6" fill="#3a3a3a" text-anchor="middle" font-weight="normal" font-family='"Liberation Sans", sans-serif' stroke="#3a3a3a" stroke-width="0.12" >60</text>
<text x="75.10" y="647.80" font-size="5.8" fill="#222" text-anchor="middle" font-weight="bold" font-family='"Liberation Sans", sans-serif' >BMI</text>
<rect x="137.00" y="548.50" width="93.10" height="10.60" fill="#bf1fff"/>
<text x="183.55" y="556.00" font-size="4.6" fill="#fff" text-anchor="middle" font-weight="normal" font-family='"Liberation Sans", sans-serif' >Lesional</text>
<rect x="137.00" y="559.10" width="93.10" height="10.90" fill="#5e958c"/>
<text x="183.55" y="566.75" font-size="4.6" fill="#fff" text-anchor="middle" font-weight="normal" font-family='"Liberation Sans", sans-serif' >Adalimumab</text>
<text x="183.55" y="575.00" font-size="4.7" fill="#111" text-anchor="middle" font-weight="normal" font-family='"Liberation Sans", sans-serif' stroke="#111" stroke-width="0.12" >signed fit range=-2.1</text>
<text x="183.55" y="579.50" font-size="4.7" fill="#111" text-anchor="middle" font-weight="normal" font-family='"Liberation Sans", sans-serif' stroke="#111" stroke-width="0.12" >q-value=1.8e-30</text>
<rect x="124.90" y="582.10" width="6.00" height="54.40" fill="#f7fce2"/>
<text x="0" y="0" transform="translate(129.00,609.30) rotate(-90)" font-size="4.75" fill="#111" text-anchor="middle" font-family='"Liberation Sans", sans-serif'>GNG7</text>
<text x="134.40" y="631.40" font-size="5.6" fill="#3a3a3a" text-anchor="middle" font-weight="normal" font-family='"Liberation Sans", sans-serif' stroke="#3a3a3a" stroke-width="0.12" >0</text>
<text x="134.40" y="619.92" font-size="5.6" fill="#3a3a3a" text-anchor="middle" font-weight="normal" font-family='"Liberation Sans", sans-serif' stroke="#3a3a3a" stroke-width="0.12" >1</text>
<text x="134.40" y="608.45" font-size="5.6" fill="#3a3a3a" text-anchor="middle" font-weight="normal" font-family='"Liberation Sans", sans-serif' stroke="#3a3a3a" stroke-width="0.12" >2</text>
<text x="134.40" y="596.98" font-size="5.6" fill="#3a3a3a" text-anchor="middle" font-weight="normal" font-family='"Liberation Sans", sans-serif' stroke="#3a3a3a" stroke-width="0.12" >3</text>
<text x="134.40" y="585.50" font-size="5.6" fill="#3a3a3a" text-anchor="middle" font-weight="normal" font-family='"Liberation Sans", sans-serif' stroke="#3a3a3a" stroke-width="0.12" >4</text>
<defs><clipPath id="pa_GNG7"><rect x="137.00" y="582.10" width="93.10" height="54.40"/></clipPath></defs>
<line x1="152.99" y1="582.10" x2="152.99" y2="636.50" stroke="#f5f5f5" stroke-width="0.35"/>
<line x1="176.95" y1="582.10" x2="176.95" y2="636.50" stroke="#f5f5f5" stroke-width="0.35"/>
<line x1="200.93" y1="582.10" x2="200.93" y2="636.50" stroke="#f5f5f5" stroke-width="0.35"/>
<line x1="224.89" y1="582.10" x2="224.89" y2="636.50" stroke="#f5f5f5" stroke-width="0.35"/>
<line x1="137.00" y1="623.86" x2="230.10" y2="623.86" stroke="#f5f5f5" stroke-width="0.35"/>
<line x1="137.00" y1="612.39" x2="230.10" y2="612.39" stroke="#f5f5f5" stroke-width="0.35"/>
<line x1="137.00" y1="600.91" x2="230.10" y2="600.91" stroke="#f5f5f5" stroke-width="0.35"/>
<line x1="137.00" y1="589.44" x2="230.10" y2="589.44" stroke="#f5f5f5" stroke-width="0.35"/>
<line x1="137.00" y1="635.34" x2="230.10" y2="635.34" stroke="#f5f5f5" stroke-width="0.35"/>
<line x1="141.00" y1="582.10" x2="141.00" y2="636.50" stroke="#ebebeb" stroke-width="0.5"/>
<line x1="164.97" y1="582.10" x2="164.97" y2="636.50" stroke="#ebebeb" stroke-width="0.5"/>
<line x1="188.94" y1="582.10" x2="188.94" y2="636.50" stroke="#ebebeb" stroke-width="0.5"/>
<line x1="212.91" y1="582.10" x2="212.91" y2="636.50" stroke="#ebebeb" stroke-width="0.5"/>
<line x1="137.00" y1="629.60" x2="230.10" y2="629.60" stroke="#ebebeb" stroke-width="0.5"/>
<line x1="137.00" y1="618.12" x2="230.10" y2="618.12" stroke="#ebebeb" stroke-width="0.5"/>
<line x1="137.00" y1="606.65" x2="230.10" y2="606.65" stroke="#ebebeb" stroke-width="0.5"/>
<line x1="137.00" y1="595.18" x2="230.10" y2="595.18" stroke="#ebebeb" stroke-width="0.5"/>
<line x1="137.00" y1="583.70" x2="230.10" y2="583.70" stroke="#ebebeb" stroke-width="0.5"/>
<path d="M141.00,598.16L143.16,600.23L145.33,602.30L147.49,604.36L149.65,606.25L151.82,608.00L153.98,609.62L156.14,611.09L158.31,612.36L160.47,613.39L162.63,614.17L164.80,614.71L166.96,615.09L169.12,615.40L171.29,615.67L173.45,615.93L175.62,616.19L177.78,616.44L179.94,616.70L182.11,616.93L184.27,617.12L186.43,617.28L188.60,617.41L190.76,617.51L192.92,617.60L195.09,617.65L197.25,617.69L199.41,617.70L201.58,617.68L203.74,617.65L205.90,617.59L208.07,617.52L210.23,617.42L212.39,617.30L214.56,617.16L216.72,617.00L218.88,616.83L221.05,616.63L223.21,616.41L225.37,616.17L225.37,629.94L223.21,629.19L221.05,628.45L218.88,627.74L216.72,627.04L214.56,626.37L212.39,625.71L210.23,625.07L208.07,624.46L205.90,623.86L203.74,623.29L201.58,622.74L199.41,622.21L197.25,621.70L195.09,621.22L192.92,620.76L190.76,620.32L188.60,619.91L186.43,619.52L184.27,619.16L182.11,618.84L179.94,618.54L177.78,618.28L175.62,618.02L173.45,617.76L171.29,617.50L169.12,617.23L166.96,616.93L164.80,616.54L162.63,616.00L160.47,615.23L158.31,614.19L156.14,612.92L153.98,611.46L151.82,609.83L149.65,608.09L147.49,606.33L145.33,604.69L143.16,603.03L141.00,601.37Z" fill="#8c8c8c" fill-opacity="0.42" clip-path="url(#pa_GNG7)"/>
<path d="M141.00,599.76L143.16,601.63L145.33,603.49L147.49,605.35L149.65,607.17L151.82,608.91L153.98,610.54L156.14,612.00L158.31,613.28L160.47,614.31L162.63,615.08L164.80,615.62L166.96,616.01L169.12,616.31L171.29,616.59L173.45,616.85L175.62,617.10L177.78,617.36L179.94,617.62L182.11,617.88L184.27,618.14L186.43,618.40L188.60,618.66L190.76,618.92L192.92,619.18L195.09,619.43L197.25,619.69L199.41,619.95L201.58,620.21L203.74,620.47L205.90,620.73L208.07,620.99L210.23,621.25L212.39,621.51L214.56,621.76L216.72,622.02L218.88,622.28L221.05,622.54L223.21,622.80L225.37,623.06" fill="none" stroke="#1e1e1e" stroke-width="1.05" clip-path="url(#pa_GNG7)"/>
<g fill="#ff7f00"><circle cx="157.38" cy="609.79" r="0.92"/><circle cx="144.26" cy="603.66" r="0.92"/><circle cx="153.36" cy="618.31" r="0.92"/><circle cx="148.33" cy="609.35" r="0.92"/><circle cx="151.45" cy="598.33" r="0.92"/><circle cx="154.10" cy="621.99" r="0.92"/><circle cx="149.96" cy="594.93" r="0.92"/><circle cx="147.38" cy="595.04" r="0.92"/><circle cx="145.76" cy="607.56" r="0.92"/><circle cx="144.44" cy="602.11" r="0.92"/><circle cx="142.84" cy="603.25" r="0.92"/><circle cx="147.62" cy="599.16" r="0.92"/><circle cx="153.46" cy="615.28" r="0.92"/><circle cx="148.79" cy="610.70" r="0.92"/><circle cx="151.98" cy="601.83" r="0.92"/><circle cx="142.42" cy="607.21" r="0.92"/><circle cx="157.12" cy="607.43" r="0.92"/><circle cx="142.27" cy="598.66" r="0.92"/><circle cx="144.10" cy="607.02" r="0.92"/><circle cx="141.23" cy="598.30" r="0.92"/><circle cx="141.22" cy="604.51" r="0.92"/><circle cx="143.81" cy="605.71" r="0.92"/><circle cx="157.21" cy="631.36" r="0.92"/><circle cx="153.67" cy="602.35" r="0.92"/><circle cx="143.87" cy="606.40" r="0.92"/><circle cx="147.85" cy="591.10" r="0.92"/><circle cx="150.03" cy="597.89" r="0.92"/><circle cx="153.28" cy="606.12" r="0.92"/><circle cx="143.72" cy="600.58" r="0.92"/><circle cx="145.03" cy="600.39" r="0.92"/><circle cx="150.81" cy="603.59" r="0.92"/><circle cx="155.75" cy="602.75" r="0.92"/><circle cx="141.97" cy="601.81" r="0.92"/><circle cx="144.74" cy="589.53" r="0.92"/><circle cx="141.69" cy="600.79" r="0.92"/><circle cx="142.35" cy="601.17" r="0.92"/><circle cx="150.89" cy="611.28" r="0.92"/><circle cx="142.69" cy="598.35" r="0.92"/><circle cx="152.96" cy="620.97" r="0.92"/><circle cx="147.35" cy="621.61" r="0.92"/><circle cx="153.31" cy="597.75" r="0.92"/><circle cx="145.34" cy="599.67" r="0.92"/><circle cx="143.92" cy="594.74" r="0.92"/><circle cx="151.98" cy="610.13" r="0.92"/><circle cx="148.14" cy="606.01" r="0.92"/><circle cx="149.75" cy="608.50" r="0.92"/><circle cx="160.31" cy="623.46" r="0.92"/><circle cx="157.70" cy="616.49" r="0.92"/><circle cx="144.47" cy="595.10" r="0.92"/><circle cx="152.00" cy="597.84" r="0.92"/><circle cx="147.16" cy="628.82" r="0.92"/><circle cx="146.58" cy="608.45" r="0.92"/><circle cx="148.91" cy="609.83" r="0.92"/><circle cx="144.54" cy="585.59" r="0.92"/><circle cx="145.41" cy="593.68" r="0.92"/><circle cx="149.79" cy="597.79" r="0.92"/><circle cx="153.50" cy="616.72" r="0.92"/><circle cx="143.98" cy="596.80" r="0.92"/><circle cx="144.34" cy="598.47" r="0.92"/><circle cx="151.36" cy="609.27" r="0.92"/><circle cx="144.88" cy="589.19" r="0.92"/><circle cx="151.32" cy="605.88" r="0.92"/></g>
<g fill="#4daf4a"><circle cx="163.51" cy="606.51" r="0.92"/><circle cx="216.28" cy="615.31" r="0.92"/><circle cx="174.53" cy="617.06" r="0.92"/><circle cx="183.60" cy="613.88" r="0.92"/><circle cx="184.72" cy="623.03" r="0.92"/><circle cx="173.04" cy="610.95" r="0.92"/><circle cx="179.06" cy="610.00" r="0.92"/><circle cx="172.82" cy="610.67" r="0.92"/><circle cx="160.45" cy="608.16" r="0.92"/><circle cx="155.22" cy="614.18" r="0.92"/><circle cx="212.94" cy="621.20" r="0.92"/><circle cx="165.88" cy="625.80" r="0.92"/><circle cx="176.02" cy="615.21" r="0.92"/><circle cx="165.42" cy="608.31" r="0.92"/><circle cx="158.86" cy="605.07" r="0.92"/><circle cx="162.65" cy="607.77" r="0.92"/><circle cx="173.96" cy="604.44" r="0.92"/><circle cx="177.15" cy="614.81" r="0.92"/><circle cx="178.62" cy="603.95" r="0.92"/><circle cx="195.32" cy="631.60" r="0.92"/><circle cx="156.66" cy="614.99" r="0.92"/><circle cx="207.05" cy="625.19" r="0.92"/><circle cx="165.84" cy="625.43" r="0.92"/><circle cx="217.55" cy="618.82" r="0.92"/><circle cx="190.18" cy="620.58" r="0.92"/><circle cx="158.41" cy="608.92" r="0.92"/><circle cx="160.92" cy="609.46" r="0.92"/><circle cx="168.13" cy="615.58" r="0.92"/><circle cx="176.48" cy="625.61" r="0.92"/><circle cx="178.34" cy="613.98" r="0.92"/><circle cx="178.52" cy="617.85" r="0.92"/><circle cx="167.96" cy="616.78" r="0.92"/><circle cx="157.30" cy="611.45" r="0.92"/><circle cx="170.03" cy="630.61" r="0.92"/><circle cx="177.30" cy="623.23" r="0.92"/><circle cx="195.54" cy="631.60" r="0.92"/><circle cx="177.17" cy="620.66" r="0.92"/><circle cx="161.74" cy="610.42" r="0.92"/><circle cx="157.31" cy="613.76" r="0.92"/><circle cx="168.11" cy="614.14" r="0.92"/><circle cx="175.25" cy="609.84" r="0.92"/><circle cx="198.91" cy="602.30" r="0.92"/><circle cx="200.85" cy="628.86" r="0.92"/><circle cx="155.42" cy="626.55" r="0.92"/><circle cx="168.49" cy="608.84" r="0.92"/><circle cx="164.65" cy="608.86" r="0.92"/><circle cx="153.86" cy="615.49" r="0.92"/><circle cx="158.69" cy="612.29" r="0.92"/><circle cx="170.94" cy="619.08" r="0.92"/><circle cx="187.59" cy="625.86" r="0.92"/><circle cx="171.74" cy="601.92" r="0.92"/><circle cx="175.08" cy="614.01" r="0.92"/><circle cx="171.13" cy="616.93" r="0.92"/><circle cx="163.35" cy="623.67" r="0.92"/><circle cx="196.84" cy="614.26" r="0.92"/><circle cx="163.22" cy="606.80" r="0.92"/><circle cx="170.10" cy="614.11" r="0.92"/><circle cx="169.00" cy="613.43" r="0.92"/><circle cx="163.73" cy="623.78" r="0.92"/><circle cx="164.57" cy="615.88" r="0.92"/><circle cx="154.56" cy="604.92" r="0.92"/><circle cx="173.23" cy="614.46" r="0.92"/><circle cx="174.92" cy="616.87" r="0.92"/><circle cx="163.94" cy="612.80" r="0.92"/><circle cx="173.44" cy="615.22" r="0.92"/><circle cx="183.36" cy="608.78" r="0.92"/><circle cx="177.43" cy="620.49" r="0.92"/><circle cx="156.25" cy="614.60" r="0.92"/></g>
<g fill="#377eb8"><circle cx="160.12" cy="618.94" r="0.92"/><circle cx="171.28" cy="622.40" r="0.92"/><circle cx="174.47" cy="613.65" r="0.92"/><circle cx="181.77" cy="612.99" r="0.92"/><circle cx="187.08" cy="617.42" r="0.92"/><circle cx="180.12" cy="615.83" r="0.92"/><circle cx="168.48" cy="617.94" r="0.92"/><circle cx="166.62" cy="617.72" r="0.92"/><circle cx="177.36" cy="619.02" r="0.92"/><circle cx="175.43" cy="625.13" r="0.92"/><circle cx="175.21" cy="604.58" r="0.92"/><circle cx="163.65" cy="607.44" r="0.92"/><circle cx="163.01" cy="606.42" r="0.92"/><circle cx="180.66" cy="612.20" r="0.92"/><circle cx="175.46" cy="615.89" r="0.92"/><circle cx="187.20" cy="611.63" r="0.92"/><circle cx="164.60" cy="621.36" r="0.92"/><circle cx="170.66" cy="612.98" r="0.92"/><circle cx="179.10" cy="607.90" r="0.92"/><circle cx="182.40" cy="614.84" r="0.92"/><circle cx="170.53" cy="623.66" r="0.92"/><circle cx="175.86" cy="620.07" r="0.92"/><circle cx="160.87" cy="623.41" r="0.92"/><circle cx="212.49" cy="616.91" r="0.92"/><circle cx="173.15" cy="612.86" r="0.92"/><circle cx="181.55" cy="620.03" r="0.92"/><circle cx="176.70" cy="623.43" r="0.92"/><circle cx="187.70" cy="615.54" r="0.92"/><circle cx="216.85" cy="621.97" r="0.92"/><circle cx="168.39" cy="608.65" r="0.92"/><circle cx="167.81" cy="624.05" r="0.92"/><circle cx="158.03" cy="607.10" r="0.92"/><circle cx="225.84" cy="621.43" r="0.92"/><circle cx="181.74" cy="614.74" r="0.92"/><circle cx="222.53" cy="626.89" r="0.92"/><circle cx="170.51" cy="618.32" r="0.92"/><circle cx="167.63" cy="625.30" r="0.92"/><circle cx="165.09" cy="616.45" r="0.92"/><circle cx="171.07" cy="625.43" r="0.92"/><circle cx="171.80" cy="611.68" r="0.92"/><circle cx="178.08" cy="620.84" r="0.92"/><circle cx="164.34" cy="627.18" r="0.92"/><circle cx="192.68" cy="623.18" r="0.92"/><circle cx="176.46" cy="613.18" r="0.92"/><circle cx="190.75" cy="619.48" r="0.92"/><circle cx="167.22" cy="620.83" r="0.92"/><circle cx="167.26" cy="615.77" r="0.92"/><circle cx="163.94" cy="626.77" r="0.92"/><circle cx="202.50" cy="624.70" r="0.92"/><circle cx="176.41" cy="625.94" r="0.92"/><circle cx="167.29" cy="598.86" r="0.92"/><circle cx="175.45" cy="613.53" r="0.92"/><circle cx="212.73" cy="620.74" r="0.92"/><circle cx="178.76" cy="611.29" r="0.92"/><circle cx="191.09" cy="622.68" r="0.92"/><circle cx="176.55" cy="613.22" r="0.92"/><circle cx="215.77" cy="616.92" r="0.92"/><circle cx="166.06" cy="621.43" r="0.92"/><circle cx="170.31" cy="613.41" r="0.92"/><circle cx="216.03" cy="617.26" r="0.92"/><circle cx="180.24" cy="612.04" r="0.92"/><circle cx="178.15" cy="622.02" r="0.92"/><circle cx="160.93" cy="608.79" r="0.92"/><circle cx="173.47" cy="621.10" r="0.92"/><circle cx="158.31" cy="618.68" r="0.92"/><circle cx="167.58" cy="611.86" r="0.92"/><circle cx="180.52" cy="621.82" r="0.92"/><circle cx="158.32" cy="622.20" r="0.92"/><circle cx="199.52" cy="621.22" r="0.92"/><circle cx="219.90" cy="617.97" r="0.92"/><circle cx="173.23" cy="622.23" r="0.92"/><circle cx="166.36" cy="618.74" r="0.92"/></g>
<text x="141.00" y="642.30" font-size="5.6" fill="#3a3a3a" text-anchor="middle" font-weight="normal" font-family='"Liberation Sans", sans-serif' stroke="#3a3a3a" stroke-width="0.12" >0</text>
<text x="164.97" y="642.30" font-size="5.6" fill="#3a3a3a" text-anchor="middle" font-weight="normal" font-family='"Liberation Sans", sans-serif' stroke="#3a3a3a" stroke-width="0.12" >10</text>
<text x="188.94" y="642.30" font-size="5.6" fill="#3a3a3a" text-anchor="middle" font-weight="normal" font-family='"Liberation Sans", sans-serif' stroke="#3a3a3a" stroke-width="0.12" >20</text>
<text x="212.91" y="642.30" font-size="5.6" fill="#3a3a3a" text-anchor="middle" font-weight="normal" font-family='"Liberation Sans", sans-serif' stroke="#3a3a3a" stroke-width="0.12" >30</text>
<text x="183.55" y="647.80" font-size="5.8" fill="#222" text-anchor="middle" font-weight="bold" font-family='"Liberation Sans", sans-serif' >PASI</text>
<rect x="245.20" y="548.50" width="93.40" height="10.60" fill="#bf1fff"/>
<text x="291.90" y="556.00" font-size="4.6" fill="#fff" text-anchor="middle" font-weight="normal" font-family='"Liberation Sans", sans-serif' >Lesional</text>
<rect x="245.20" y="559.10" width="93.40" height="10.90" fill="#cb6a1f"/>
<text x="291.90" y="566.75" font-size="4.6" fill="#fff" text-anchor="middle" font-weight="normal" font-family='"Liberation Sans", sans-serif' >Ustekinumab</text>
<text x="291.90" y="575.00" font-size="4.7" fill="#111" text-anchor="middle" font-weight="normal" font-family='"Liberation Sans", sans-serif' stroke="#111" stroke-width="0.12" >signed fit range=-1.8</text>
<text x="291.90" y="579.50" font-size="4.7" fill="#111" text-anchor="middle" font-weight="normal" font-family='"Liberation Sans", sans-serif' stroke="#111" stroke-width="0.12" >q-value=5.5e-24</text>
<rect x="233.60" y="582.10" width="6.30" height="54.40" fill="#f7fce2"/>
<text x="0" y="0" transform="translate(237.85,609.30) rotate(-90)" font-size="4.75" fill="#111" text-anchor="middle" font-family='"Liberation Sans", sans-serif'>GNG7</text>
<text x="242.40" y="630.00" font-size="5.6" fill="#3a3a3a" text-anchor="middle" font-weight="normal" font-family='"Liberation Sans", sans-serif' stroke="#3a3a3a" stroke-width="0.12" >0</text>
<text x="242.40" y="617.03" font-size="5.6" fill="#3a3a3a" text-anchor="middle" font-weight="normal" font-family='"Liberation Sans", sans-serif' stroke="#3a3a3a" stroke-width="0.12" >1</text>
<text x="242.40" y="604.07" font-size="5.6" fill="#3a3a3a" text-anchor="middle" font-weight="normal" font-family='"Liberation Sans", sans-serif' stroke="#3a3a3a" stroke-width="0.12" >2</text>
<text x="242.40" y="591.10" font-size="5.6" fill="#3a3a3a" text-anchor="middle" font-weight="normal" font-family='"Liberation Sans", sans-serif' stroke="#3a3a3a" stroke-width="0.12" >3</text>
<defs><clipPath id="pu_GNG7"><rect x="245.20" y="582.10" width="93.40" height="54.40"/></clipPath></defs>
<line x1="261.60" y1="582.10" x2="261.60" y2="636.50" stroke="#f5f5f5" stroke-width="0.35"/>
<line x1="286.00" y1="582.10" x2="286.00" y2="636.50" stroke="#f5f5f5" stroke-width="0.35"/>
<line x1="310.40" y1="582.10" x2="310.40" y2="636.50" stroke="#f5f5f5" stroke-width="0.35"/>
<line x1="334.80" y1="582.10" x2="334.80" y2="636.50" stroke="#f5f5f5" stroke-width="0.35"/>
<line x1="245.20" y1="621.72" x2="338.60" y2="621.72" stroke="#f5f5f5" stroke-width="0.35"/>
<line x1="245.20" y1="608.75" x2="338.60" y2="608.75" stroke="#f5f5f5" stroke-width="0.35"/>
<line x1="245.20" y1="595.78" x2="338.60" y2="595.78" stroke="#f5f5f5" stroke-width="0.35"/>
<line x1="245.20" y1="634.68" x2="338.60" y2="634.68" stroke="#f5f5f5" stroke-width="0.35"/>
<line x1="245.20" y1="582.82" x2="338.60" y2="582.82" stroke="#f5f5f5" stroke-width="0.35"/>
<line x1="249.40" y1="582.10" x2="249.40" y2="636.50" stroke="#ebebeb" stroke-width="0.5"/>
<line x1="273.80" y1="582.10" x2="273.80" y2="636.50" stroke="#ebebeb" stroke-width="0.5"/>
<line x1="298.20" y1="582.10" x2="298.20" y2="636.50" stroke="#ebebeb" stroke-width="0.5"/>
<line x1="322.60" y1="582.10" x2="322.60" y2="636.50" stroke="#ebebeb" stroke-width="0.5"/>
<line x1="245.20" y1="628.20" x2="338.60" y2="628.20" stroke="#ebebeb" stroke-width="0.5"/>
<line x1="245.20" y1="615.23" x2="338.60" y2="615.23" stroke="#ebebeb" stroke-width="0.5"/>
<line x1="245.20" y1="602.27" x2="338.60" y2="602.27" stroke="#ebebeb" stroke-width="0.5"/>
<line x1="245.20" y1="589.30" x2="338.60" y2="589.30" stroke="#ebebeb" stroke-width="0.5"/>
<path d="M249.40,595.26L251.60,597.14L253.80,599.01L256.01,600.87L258.21,602.51L260.41,603.94L262.61,605.18L264.82,606.22L267.02,607.12L269.22,607.93L271.42,608.67L273.62,609.28L275.83,609.75L278.03,610.08L280.23,610.34L282.43,610.56L284.64,610.77L286.84,610.95L289.04,611.10L291.24,611.20L293.45,611.27L295.65,611.35L297.85,611.45L300.05,611.59L302.25,611.77L304.46,611.97L306.66,612.15L308.86,612.33L311.06,612.48L313.27,612.62L315.47,612.74L317.67,612.84L319.87,612.93L322.07,613.00L324.28,613.05L326.48,613.09L328.68,613.11L330.88,613.12L333.09,613.12L335.29,613.09L335.29,624.50L333.09,623.75L330.88,623.01L328.68,622.29L326.48,621.58L324.28,620.89L322.07,620.21L319.87,619.55L317.67,618.91L315.47,618.28L313.27,617.67L311.06,617.07L308.86,616.49L306.66,615.93L304.46,615.39L302.25,614.88L300.05,614.42L297.85,614.04L295.65,613.74L293.45,613.52L291.24,613.33L289.04,613.18L286.84,613.03L284.64,612.85L282.43,612.64L280.23,612.41L278.03,612.15L275.83,611.82L273.62,611.36L271.42,610.75L269.22,610.01L267.02,609.19L264.82,608.29L262.61,607.26L260.41,606.02L258.21,604.58L256.01,603.09L253.80,601.70L251.60,600.30L249.40,598.90Z" fill="#8c8c8c" fill-opacity="0.42" clip-path="url(#pu_GNG7)"/>
<path d="M249.40,597.08L251.60,598.72L253.80,600.36L256.01,601.98L258.21,603.55L260.41,604.98L262.61,606.22L264.82,607.26L267.02,608.16L269.22,608.97L271.42,609.71L273.62,610.32L275.83,610.78L278.03,611.12L280.23,611.38L282.43,611.60L284.64,611.81L286.84,611.99L289.04,612.14L291.24,612.27L293.45,612.40L295.65,612.54L297.85,612.74L300.05,613.01L302.25,613.33L304.46,613.68L306.66,614.04L308.86,614.41L311.06,614.78L313.27,615.14L315.47,615.51L317.67,615.87L319.87,616.24L322.07,616.60L324.28,616.97L326.48,617.34L328.68,617.70L330.88,618.07L333.09,618.43L335.29,618.80" fill="none" stroke="#1e1e1e" stroke-width="1.05" clip-path="url(#pu_GNG7)"/>
<g fill="#ff7f00"><circle cx="252.99" cy="608.10" r="0.92"/><circle cx="254.40" cy="599.31" r="0.92"/><circle cx="256.03" cy="600.80" r="0.92"/><circle cx="251.88" cy="601.86" r="0.92"/><circle cx="256.28" cy="606.60" r="0.92"/><circle cx="252.35" cy="601.64" r="0.92"/><circle cx="254.99" cy="596.85" r="0.92"/><circle cx="258.90" cy="612.05" r="0.92"/><circle cx="252.43" cy="603.05" r="0.92"/><circle cx="259.44" cy="590.83" r="0.92"/><circle cx="256.91" cy="610.83" r="0.92"/><circle cx="249.79" cy="612.99" r="0.92"/><circle cx="257.67" cy="600.25" r="0.92"/><circle cx="264.63" cy="603.22" r="0.92"/><circle cx="250.11" cy="601.70" r="0.92"/><circle cx="257.97" cy="605.62" r="0.92"/><circle cx="257.61" cy="602.51" r="0.92"/><circle cx="263.16" cy="607.86" r="0.92"/><circle cx="252.40" cy="607.33" r="0.92"/><circle cx="252.45" cy="603.12" r="0.92"/><circle cx="252.24" cy="597.92" r="0.92"/><circle cx="256.23" cy="592.94" r="0.92"/><circle cx="253.01" cy="606.56" r="0.92"/><circle cx="251.55" cy="607.25" r="0.92"/><circle cx="253.39" cy="592.41" r="0.92"/><circle cx="250.37" cy="610.03" r="0.92"/><circle cx="250.39" cy="590.73" r="0.92"/><circle cx="250.57" cy="593.69" r="0.92"/><circle cx="256.23" cy="599.42" r="0.92"/><circle cx="250.27" cy="608.82" r="0.92"/><circle cx="250.69" cy="589.46" r="0.92"/><circle cx="262.78" cy="599.67" r="0.92"/><circle cx="249.54" cy="596.87" r="0.92"/><circle cx="264.66" cy="614.64" r="0.92"/><circle cx="249.68" cy="589.20" r="0.92"/><circle cx="256.91" cy="605.42" r="0.92"/><circle cx="261.04" cy="610.16" r="0.92"/><circle cx="261.68" cy="605.51" r="0.92"/><circle cx="259.26" cy="611.80" r="0.92"/><circle cx="254.90" cy="604.08" r="0.92"/><circle cx="261.40" cy="600.01" r="0.92"/><circle cx="269.24" cy="605.71" r="0.92"/><circle cx="251.85" cy="608.17" r="0.92"/><circle cx="253.70" cy="610.41" r="0.92"/><circle cx="252.18" cy="599.81" r="0.92"/><circle cx="259.22" cy="609.17" r="0.92"/><circle cx="252.56" cy="605.33" r="0.92"/><circle cx="255.86" cy="599.62" r="0.92"/><circle cx="252.02" cy="601.93" r="0.92"/><circle cx="251.53" cy="586.39" r="0.92"/><circle cx="253.54" cy="600.48" r="0.92"/><circle cx="261.80" cy="608.89" r="0.92"/><circle cx="256.20" cy="599.08" r="0.92"/><circle cx="256.68" cy="596.03" r="0.92"/><circle cx="251.44" cy="604.37" r="0.92"/><circle cx="253.18" cy="604.37" r="0.92"/><circle cx="256.45" cy="593.07" r="0.92"/><circle cx="255.25" cy="599.82" r="0.92"/><circle cx="261.50" cy="604.75" r="0.92"/><circle cx="251.12" cy="597.90" r="0.92"/><circle cx="251.43" cy="604.30" r="0.92"/><circle cx="262.17" cy="602.17" r="0.92"/></g>
<g fill="#4daf4a"><circle cx="273.48" cy="613.45" r="0.92"/><circle cx="274.20" cy="605.99" r="0.92"/><circle cx="281.02" cy="614.25" r="0.92"/><circle cx="286.50" cy="607.77" r="0.92"/><circle cx="262.92" cy="603.17" r="0.92"/><circle cx="266.06" cy="608.96" r="0.92"/><circle cx="268.52" cy="608.54" r="0.92"/><circle cx="265.14" cy="604.80" r="0.92"/><circle cx="283.86" cy="604.41" r="0.92"/><circle cx="269.27" cy="608.31" r="0.92"/><circle cx="281.84" cy="599.17" r="0.92"/><circle cx="287.02" cy="619.38" r="0.92"/><circle cx="268.46" cy="603.94" r="0.92"/><circle cx="280.59" cy="620.25" r="0.92"/><circle cx="275.55" cy="616.30" r="0.92"/><circle cx="274.02" cy="612.42" r="0.92"/><circle cx="269.86" cy="600.79" r="0.92"/><circle cx="267.45" cy="605.93" r="0.92"/><circle cx="265.76" cy="614.90" r="0.92"/><circle cx="275.73" cy="612.09" r="0.92"/><circle cx="285.69" cy="618.12" r="0.92"/><circle cx="287.95" cy="596.70" r="0.92"/><circle cx="279.17" cy="623.59" r="0.92"/><circle cx="303.41" cy="607.10" r="0.92"/><circle cx="316.92" cy="594.23" r="0.92"/><circle cx="264.86" cy="604.74" r="0.92"/><circle cx="278.61" cy="614.25" r="0.92"/><circle cx="274.67" cy="611.45" r="0.92"/><circle cx="268.74" cy="611.65" r="0.92"/><circle cx="279.46" cy="612.04" r="0.92"/><circle cx="287.42" cy="613.84" r="0.92"/><circle cx="273.70" cy="617.72" r="0.92"/><circle cx="306.02" cy="606.85" r="0.92"/><circle cx="277.41" cy="615.24" r="0.92"/><circle cx="327.52" cy="617.91" r="0.92"/><circle cx="329.41" cy="629.93" r="0.92"/><circle cx="281.85" cy="608.89" r="0.92"/><circle cx="325.72" cy="610.54" r="0.92"/><circle cx="282.99" cy="623.22" r="0.92"/><circle cx="270.83" cy="617.45" r="0.92"/><circle cx="319.31" cy="607.60" r="0.92"/><circle cx="273.23" cy="605.79" r="0.92"/><circle cx="271.44" cy="602.85" r="0.92"/><circle cx="266.79" cy="609.03" r="0.92"/><circle cx="284.08" cy="616.30" r="0.92"/><circle cx="282.28" cy="612.31" r="0.92"/><circle cx="273.98" cy="604.26" r="0.92"/><circle cx="263.14" cy="602.68" r="0.92"/><circle cx="287.42" cy="616.87" r="0.92"/><circle cx="269.30" cy="606.09" r="0.92"/><circle cx="301.36" cy="612.71" r="0.92"/><circle cx="269.13" cy="612.89" r="0.92"/><circle cx="288.17" cy="595.39" r="0.92"/><circle cx="270.11" cy="608.55" r="0.92"/><circle cx="316.91" cy="616.84" r="0.92"/><circle cx="299.16" cy="611.36" r="0.92"/><circle cx="269.63" cy="612.61" r="0.92"/><circle cx="267.72" cy="610.62" r="0.92"/><circle cx="304.52" cy="621.86" r="0.92"/><circle cx="286.44" cy="608.81" r="0.92"/><circle cx="286.59" cy="619.77" r="0.92"/><circle cx="265.44" cy="612.66" r="0.92"/><circle cx="305.71" cy="605.10" r="0.92"/><circle cx="325.64" cy="615.97" r="0.92"/><circle cx="282.28" cy="618.53" r="0.92"/><circle cx="265.63" cy="616.27" r="0.92"/><circle cx="280.34" cy="619.45" r="0.92"/><circle cx="270.32" cy="604.43" r="0.92"/></g>
<g fill="#377eb8"><circle cx="291.96" cy="606.62" r="0.92"/><circle cx="297.47" cy="610.15" r="0.92"/><circle cx="292.56" cy="621.17" r="0.92"/><circle cx="268.52" cy="609.91" r="0.92"/><circle cx="277.54" cy="610.73" r="0.92"/><circle cx="295.24" cy="605.87" r="0.92"/><circle cx="283.02" cy="620.81" r="0.92"/><circle cx="279.67" cy="618.70" r="0.92"/><circle cx="275.15" cy="605.12" r="0.92"/><circle cx="335.78" cy="617.16" r="0.92"/><circle cx="269.00" cy="603.30" r="0.92"/><circle cx="277.83" cy="605.94" r="0.92"/><circle cx="324.68" cy="625.62" r="0.92"/><circle cx="306.84" cy="607.72" r="0.92"/><circle cx="283.14" cy="611.19" r="0.92"/><circle cx="281.04" cy="616.82" r="0.92"/><circle cx="269.22" cy="603.68" r="0.92"/><circle cx="322.14" cy="619.24" r="0.92"/><circle cx="327.05" cy="619.29" r="0.92"/><circle cx="319.23" cy="603.37" r="0.92"/><circle cx="285.71" cy="608.19" r="0.92"/><circle cx="323.93" cy="613.05" r="0.92"/><circle cx="276.65" cy="613.99" r="0.92"/><circle cx="286.91" cy="616.37" r="0.92"/><circle cx="291.40" cy="616.17" r="0.92"/><circle cx="291.00" cy="630.75" r="0.92"/><circle cx="278.83" cy="619.37" r="0.92"/><circle cx="285.99" cy="603.11" r="0.92"/><circle cx="283.50" cy="613.49" r="0.92"/><circle cx="285.40" cy="610.90" r="0.92"/><circle cx="290.00" cy="612.56" r="0.92"/><circle cx="287.69" cy="602.89" r="0.92"/><circle cx="283.04" cy="609.87" r="0.92"/><circle cx="272.56" cy="612.46" r="0.92"/><circle cx="289.11" cy="619.79" r="0.92"/><circle cx="332.85" cy="615.48" r="0.92"/><circle cx="280.33" cy="627.09" r="0.92"/><circle cx="275.77" cy="609.58" r="0.92"/><circle cx="287.26" cy="615.86" r="0.92"/><circle cx="267.77" cy="609.43" r="0.92"/><circle cx="277.83" cy="603.63" r="0.92"/><circle cx="294.10" cy="626.63" r="0.92"/><circle cx="275.32" cy="615.26" r="0.92"/><circle cx="270.07" cy="612.64" r="0.92"/><circle cx="274.95" cy="601.31" r="0.92"/><circle cx="301.76" cy="605.76" r="0.92"/><circle cx="281.55" cy="602.11" r="0.92"/><circle cx="322.83" cy="616.69" r="0.92"/><circle cx="323.92" cy="616.62" r="0.92"/><circle cx="287.05" cy="610.72" r="0.92"/><circle cx="334.96" cy="627.84" r="0.92"/><circle cx="288.86" cy="607.20" r="0.92"/><circle cx="314.07" cy="617.95" r="0.92"/><circle cx="305.90" cy="614.71" r="0.92"/><circle cx="270.11" cy="604.45" r="0.92"/><circle cx="328.32" cy="617.16" r="0.92"/><circle cx="274.95" cy="600.81" r="0.92"/><circle cx="319.77" cy="617.24" r="0.92"/><circle cx="287.19" cy="609.29" r="0.92"/><circle cx="288.36" cy="610.46" r="0.92"/><circle cx="290.10" cy="609.62" r="0.92"/><circle cx="268.45" cy="608.65" r="0.92"/><circle cx="272.28" cy="612.97" r="0.92"/><circle cx="284.29" cy="607.15" r="0.92"/><circle cx="267.31" cy="613.03" r="0.92"/><circle cx="272.98" cy="607.92" r="0.92"/><circle cx="303.46" cy="623.47" r="0.92"/><circle cx="275.33" cy="614.91" r="0.92"/><circle cx="286.32" cy="608.44" r="0.92"/><circle cx="275.21" cy="613.46" r="0.92"/><circle cx="299.90" cy="600.24" r="0.92"/><circle cx="291.22" cy="605.69" r="0.92"/></g>
<text x="249.40" y="642.30" font-size="5.6" fill="#3a3a3a" text-anchor="middle" font-weight="normal" font-family='"Liberation Sans", sans-serif' stroke="#3a3a3a" stroke-width="0.12" >0</text>
<text x="273.80" y="642.30" font-size="5.6" fill="#3a3a3a" text-anchor="middle" font-weight="normal" font-family='"Liberation Sans", sans-serif' stroke="#3a3a3a" stroke-width="0.12" >10</text>
<text x="298.20" y="642.30" font-size="5.6" fill="#3a3a3a" text-anchor="middle" font-weight="normal" font-family='"Liberation Sans", sans-serif' stroke="#3a3a3a" stroke-width="0.12" >20</text>
<text x="322.60" y="642.30" font-size="5.6" fill="#3a3a3a" text-anchor="middle" font-weight="normal" font-family='"Liberation Sans", sans-serif' stroke="#3a3a3a" stroke-width="0.12" >30</text>
<text x="291.90" y="647.80" font-size="5.8" fill="#222" text-anchor="middle" font-weight="bold" font-family='"Liberation Sans", sans-serif' >PASI</text>
<rect x="356.00" y="548.00" width="91.20" height="15.40" fill="#f2bccb"/>
<text x="401.60" y="557.90" font-size="4.6" fill="#222" text-anchor="middle" font-weight="normal" font-family='"Liberation Sans", sans-serif' stroke="#222" stroke-width="0.12" >Nonlesional</text>
<rect x="356.00" y="563.40" width="91.20" height="16.00" fill="#80ffff"/>
<text x="401.60" y="573.60" font-size="4.6" fill="#222" text-anchor="middle" font-weight="normal" font-family='"Liberation Sans", sans-serif' stroke="#222" stroke-width="0.12" >Both drugs</text>
<rect x="342.10" y="596.10" width="6.50" height="40.70" fill="#f7fce2"/>
<text x="0" y="0" transform="translate(346.45,616.45) rotate(-90)" font-size="4.75" fill="#111" text-anchor="middle" font-family='"Liberation Sans", sans-serif'>SCGB1D2</text>
<text x="352.00" y="636.70" font-size="5.6" fill="#3a3a3a" text-anchor="middle" font-weight="normal" font-family='"Liberation Sans", sans-serif' stroke="#3a3a3a" stroke-width="0.12" >-5</text>
<text x="352.00" y="623.40" font-size="5.6" fill="#3a3a3a" text-anchor="middle" font-weight="normal" font-family='"Liberation Sans", sans-serif' stroke="#3a3a3a" stroke-width="0.12" >0</text>
<text x="352.00" y="610.10" font-size="5.6" fill="#3a3a3a" text-anchor="middle" font-weight="normal" font-family='"Liberation Sans", sans-serif' stroke="#3a3a3a" stroke-width="0.12" >5</text>
<defs><clipPath id="b_SCGB1D2_0"><rect x="355.45" y="596.10" width="46.08" height="40.70"/></clipPath></defs>
<line x1="363.59" y1="596.10" x2="363.59" y2="636.80" stroke="#f5f5f5" stroke-width="0.35"/>
<line x1="373.17" y1="596.10" x2="373.17" y2="636.80" stroke="#f5f5f5" stroke-width="0.35"/>
<line x1="382.75" y1="596.10" x2="382.75" y2="636.80" stroke="#f5f5f5" stroke-width="0.35"/>
<line x1="392.33" y1="596.10" x2="392.33" y2="636.80" stroke="#f5f5f5" stroke-width="0.35"/>
<line x1="355.45" y1="628.25" x2="401.53" y2="628.25" stroke="#f5f5f5" stroke-width="0.35"/>
<line x1="355.45" y1="614.95" x2="401.53" y2="614.95" stroke="#f5f5f5" stroke-width="0.35"/>
<line x1="355.45" y1="601.65" x2="401.53" y2="601.65" stroke="#f5f5f5" stroke-width="0.35"/>
<line x1="358.80" y1="596.10" x2="358.80" y2="636.80" stroke="#ebebeb" stroke-width="0.5"/>
<line x1="368.38" y1="596.10" x2="368.38" y2="636.80" stroke="#ebebeb" stroke-width="0.5"/>
<line x1="377.96" y1="596.10" x2="377.96" y2="636.80" stroke="#ebebeb" stroke-width="0.5"/>
<line x1="387.54" y1="596.10" x2="387.54" y2="636.80" stroke="#ebebeb" stroke-width="0.5"/>
<line x1="397.12" y1="596.10" x2="397.12" y2="636.80" stroke="#ebebeb" stroke-width="0.5"/>
<line x1="355.45" y1="634.90" x2="401.53" y2="634.90" stroke="#ebebeb" stroke-width="0.5"/>
<line x1="355.45" y1="621.60" x2="401.53" y2="621.60" stroke="#ebebeb" stroke-width="0.5"/>
<line x1="355.45" y1="608.30" x2="401.53" y2="608.30" stroke="#ebebeb" stroke-width="0.5"/>
<path d="M358.80,602.11L360.14,602.71L361.48,603.28L362.82,603.84L364.16,604.37L365.51,604.89L366.85,605.39L368.19,605.87L369.53,606.33L370.87,606.78L372.21,607.20L373.55,607.61L374.89,607.99L376.24,608.36L377.58,608.71L378.92,609.05L380.26,609.36L381.60,609.65L382.94,609.93L384.28,610.19L385.62,610.43L385.62,614.68L384.28,614.02L382.94,613.37L381.60,612.74L380.26,612.13L378.92,611.54L377.58,610.97L376.24,610.42L374.89,609.88L373.55,609.37L372.21,608.87L370.87,608.39L369.53,607.93L368.19,607.49L366.85,607.06L365.51,606.66L364.16,606.27L362.82,605.90L361.48,605.55L360.14,605.22L358.80,604.91Z" fill="#8c8c8c" fill-opacity="0.42" clip-path="url(#b_SCGB1D2_0)"/>
<path d="M358.80,603.51L360.14,603.96L361.48,604.42L362.82,604.87L364.16,605.32L365.51,605.77L366.85,606.23L368.19,606.68L369.53,607.13L370.87,607.58L372.21,608.03L373.55,608.49L374.89,608.94L376.24,609.39L377.58,609.84L378.92,610.29L380.26,610.75L381.60,611.20L382.94,611.65L384.28,612.10L385.62,612.56" fill="none" stroke="#1e1e1e" stroke-width="1.05" clip-path="url(#b_SCGB1D2_0)"/>
<g fill="#377eb8"><circle cx="367.18" cy="616.64" r="0.92"/><circle cx="377.25" cy="607.38" r="0.92"/><circle cx="364.64" cy="602.05" r="0.92"/><circle cx="366.69" cy="602.39" r="0.92"/><circle cx="375.20" cy="607.32" r="0.92"/><circle cx="375.55" cy="613.44" r="0.92"/><circle cx="372.46" cy="606.83" r="0.92"/><circle cx="363.61" cy="609.84" r="0.92"/><circle cx="371.34" cy="602.26" r="0.92"/><circle cx="363.08" cy="606.15" r="0.92"/><circle cx="364.91" cy="603.08" r="0.92"/><circle cx="364.15" cy="607.08" r="0.92"/><circle cx="365.98" cy="619.43" r="0.92"/><circle cx="380.17" cy="611.09" r="0.92"/><circle cx="368.14" cy="604.43" r="0.92"/><circle cx="373.23" cy="604.05" r="0.92"/><circle cx="382.43" cy="619.04" r="0.92"/><circle cx="359.67" cy="601.97" r="0.92"/><circle cx="383.07" cy="607.29" r="0.92"/><circle cx="367.42" cy="601.71" r="0.92"/><circle cx="368.44" cy="604.01" r="0.92"/><circle cx="367.05" cy="603.82" r="0.92"/><circle cx="368.91" cy="605.58" r="0.92"/><circle cx="381.65" cy="609.43" r="0.92"/><circle cx="358.28" cy="605.52" r="0.92"/><circle cx="375.10" cy="607.04" r="0.92"/><circle cx="362.12" cy="606.74" r="0.92"/><circle cx="379.42" cy="612.62" r="0.92"/><circle cx="370.51" cy="609.93" r="0.92"/><circle cx="363.99" cy="607.70" r="0.92"/><circle cx="372.02" cy="616.05" r="0.92"/><circle cx="373.47" cy="605.67" r="0.92"/><circle cx="371.36" cy="607.98" r="0.92"/><circle cx="365.05" cy="599.32" r="0.92"/><circle cx="363.50" cy="601.37" r="0.92"/><circle cx="376.11" cy="603.80" r="0.92"/><circle cx="370.46" cy="604.95" r="0.92"/><circle cx="370.24" cy="602.69" r="0.92"/><circle cx="359.85" cy="605.95" r="0.92"/><circle cx="361.88" cy="600.65" r="0.92"/><circle cx="377.56" cy="602.47" r="0.92"/><circle cx="381.81" cy="611.67" r="0.92"/><circle cx="375.93" cy="613.44" r="0.92"/><circle cx="362.34" cy="611.07" r="0.92"/><circle cx="369.63" cy="606.95" r="0.92"/><circle cx="371.66" cy="608.91" r="0.92"/><circle cx="374.02" cy="602.69" r="0.92"/><circle cx="362.12" cy="604.39" r="0.92"/><circle cx="363.81" cy="603.36" r="0.92"/><circle cx="379.68" cy="610.04" r="0.92"/><circle cx="365.71" cy="601.52" r="0.92"/><circle cx="357.93" cy="600.53" r="0.92"/><circle cx="373.86" cy="610.04" r="0.92"/><circle cx="357.79" cy="601.99" r="0.92"/><circle cx="365.02" cy="610.88" r="0.92"/><circle cx="365.56" cy="608.30" r="0.92"/><circle cx="368.52" cy="611.77" r="0.92"/><circle cx="374.16" cy="612.11" r="0.92"/><circle cx="376.13" cy="619.18" r="0.92"/><circle cx="385.10" cy="603.92" r="0.92"/><circle cx="371.60" cy="614.58" r="0.92"/><circle cx="373.53" cy="608.42" r="0.92"/><circle cx="371.64" cy="603.79" r="0.92"/><circle cx="367.94" cy="607.42" r="0.92"/><circle cx="372.67" cy="606.15" r="0.92"/><circle cx="365.42" cy="608.78" r="0.92"/><circle cx="357.33" cy="605.97" r="0.92"/><circle cx="373.93" cy="601.73" r="0.92"/><circle cx="358.85" cy="616.37" r="0.92"/><circle cx="357.94" cy="606.10" r="0.92"/><circle cx="371.38" cy="607.98" r="0.92"/><circle cx="367.43" cy="609.47" r="0.92"/><circle cx="365.94" cy="610.64" r="0.92"/><circle cx="364.92" cy="604.93" r="0.92"/><circle cx="377.25" cy="612.33" r="0.92"/><circle cx="377.65" cy="606.34" r="0.92"/><circle cx="363.85" cy="607.24" r="0.92"/><circle cx="368.00" cy="612.04" r="0.92"/><circle cx="362.65" cy="602.13" r="0.92"/><circle cx="371.13" cy="605.51" r="0.92"/><circle cx="376.06" cy="604.13" r="0.92"/><circle cx="364.91" cy="609.24" r="0.92"/><circle cx="367.13" cy="604.01" r="0.92"/><circle cx="375.26" cy="606.38" r="0.92"/><circle cx="367.78" cy="604.04" r="0.92"/><circle cx="374.21" cy="615.81" r="0.92"/><circle cx="378.22" cy="615.34" r="0.92"/><circle cx="371.50" cy="603.20" r="0.92"/><circle cx="365.68" cy="605.89" r="0.92"/><circle cx="365.81" cy="603.00" r="0.92"/></g>
<text x="377.46" y="584.90" font-size="4.7" fill="#111" text-anchor="middle" font-weight="normal" font-family='"Liberation Sans", sans-serif' stroke="#111" stroke-width="0.12" >Discovery</text>
<text x="377.46" y="589.50" font-size="4.7" fill="#111" text-anchor="middle" font-weight="normal" font-family='"Liberation Sans", sans-serif' stroke="#111" stroke-width="0.12" >log2FC=-0.091</text>
<text x="377.46" y="594.10" font-size="4.7" fill="#111" text-anchor="middle" font-weight="normal" font-family='"Liberation Sans", sans-serif' stroke="#111" stroke-width="0.12" >FDR=0.025</text>
<text x="358.80" y="642.40" font-size="5.6" fill="#3a3a3a" text-anchor="middle" font-weight="normal" font-family='"Liberation Sans", sans-serif' stroke="#3a3a3a" stroke-width="0.12" >20</text>
<text x="368.38" y="642.40" font-size="5.6" fill="#3a3a3a" text-anchor="middle" font-weight="normal" font-family='"Liberation Sans", sans-serif' stroke="#3a3a3a" stroke-width="0.12" >30</text>
<text x="377.96" y="642.40" font-size="5.6" fill="#3a3a3a" text-anchor="middle" font-weight="normal" font-family='"Liberation Sans", sans-serif' stroke="#3a3a3a" stroke-width="0.12" >40</text>
<text x="387.54" y="642.40" font-size="5.6" fill="#3a3a3a" text-anchor="middle" font-weight="normal" font-family='"Liberation Sans", sans-serif' stroke="#3a3a3a" stroke-width="0.12" >50</text>
<text x="397.12" y="642.40" font-size="5.6" fill="#3a3a3a" text-anchor="middle" font-weight="normal" font-family='"Liberation Sans", sans-serif' stroke="#3a3a3a" stroke-width="0.12" >60</text>
<defs><clipPath id="b_SCGB1D2_1"><rect x="403.65" y="596.10" width="43.55" height="40.70"/></clipPath></defs>
<line x1="411.79" y1="596.10" x2="411.79" y2="636.80" stroke="#f5f5f5" stroke-width="0.35"/>
<line x1="421.37" y1="596.10" x2="421.37" y2="636.80" stroke="#f5f5f5" stroke-width="0.35"/>
<line x1="430.95" y1="596.10" x2="430.95" y2="636.80" stroke="#f5f5f5" stroke-width="0.35"/>
<line x1="440.53" y1="596.10" x2="440.53" y2="636.80" stroke="#f5f5f5" stroke-width="0.35"/>
<line x1="403.65" y1="628.25" x2="447.20" y2="628.25" stroke="#f5f5f5" stroke-width="0.35"/>
<line x1="403.65" y1="614.95" x2="447.20" y2="614.95" stroke="#f5f5f5" stroke-width="0.35"/>
<line x1="403.65" y1="601.65" x2="447.20" y2="601.65" stroke="#f5f5f5" stroke-width="0.35"/>
<line x1="407.00" y1="596.10" x2="407.00" y2="636.80" stroke="#ebebeb" stroke-width="0.5"/>
<line x1="416.58" y1="596.10" x2="416.58" y2="636.80" stroke="#ebebeb" stroke-width="0.5"/>
<line x1="426.16" y1="596.10" x2="426.16" y2="636.80" stroke="#ebebeb" stroke-width="0.5"/>
<line x1="435.74" y1="596.10" x2="435.74" y2="636.80" stroke="#ebebeb" stroke-width="0.5"/>
<line x1="445.32" y1="596.10" x2="445.32" y2="636.80" stroke="#ebebeb" stroke-width="0.5"/>
<line x1="403.65" y1="634.90" x2="447.20" y2="634.90" stroke="#ebebeb" stroke-width="0.5"/>
<line x1="403.65" y1="621.60" x2="447.20" y2="621.60" stroke="#ebebeb" stroke-width="0.5"/>
<line x1="403.65" y1="608.30" x2="447.20" y2="608.30" stroke="#ebebeb" stroke-width="0.5"/>
<path d="M409.87,605.54L411.74,606.42L413.61,607.24L415.48,607.99L417.35,608.69L419.21,609.32L421.08,609.90L422.95,610.41L424.82,610.86L426.69,611.25L428.56,611.57L430.42,611.84L432.29,612.05L434.16,612.19L436.03,612.28L437.90,612.30L439.76,612.26L441.63,612.16L443.50,612.00L445.37,611.78L447.24,611.49L447.24,625.32L445.37,623.98L443.50,622.69L441.63,621.47L439.76,620.30L437.90,619.20L436.03,618.16L434.16,617.18L432.29,616.26L430.42,615.40L428.56,614.60L426.69,613.87L424.82,613.19L422.95,612.58L421.08,612.02L419.21,611.53L417.35,611.10L415.48,610.73L413.61,610.43L411.74,610.18L409.87,609.99Z" fill="#8c8c8c" fill-opacity="0.42" clip-path="url(#b_SCGB1D2_1)"/>
<path d="M409.87,607.77L411.74,608.30L413.61,608.83L415.48,609.36L417.35,609.90L419.21,610.43L421.08,610.96L422.95,611.49L424.82,612.02L426.69,612.56L428.56,613.09L430.42,613.62L432.29,614.15L434.16,614.68L436.03,615.22L437.90,615.75L439.76,616.28L441.63,616.81L443.50,617.34L445.37,617.88L447.24,618.41" fill="none" stroke="#1e1e1e" stroke-width="1.05" clip-path="url(#b_SCGB1D2_1)"/>
<g fill="#377eb8"><circle cx="423.93" cy="616.74" r="0.92"/><circle cx="409.41" cy="605.25" r="0.92"/><circle cx="421.57" cy="604.62" r="0.92"/><circle cx="417.99" cy="610.23" r="0.92"/><circle cx="415.85" cy="608.24" r="0.92"/><circle cx="415.81" cy="604.11" r="0.92"/><circle cx="417.17" cy="602.62" r="0.92"/><circle cx="421.34" cy="623.02" r="0.92"/><circle cx="416.36" cy="612.84" r="0.92"/><circle cx="429.62" cy="613.89" r="0.92"/><circle cx="427.88" cy="620.15" r="0.92"/><circle cx="424.68" cy="609.69" r="0.92"/><circle cx="415.37" cy="619.70" r="0.92"/><circle cx="431.10" cy="609.53" r="0.92"/><circle cx="421.52" cy="599.73" r="0.92"/><circle cx="417.02" cy="611.08" r="0.92"/><circle cx="424.49" cy="609.56" r="0.92"/><circle cx="418.28" cy="613.17" r="0.92"/><circle cx="422.48" cy="605.90" r="0.92"/><circle cx="416.06" cy="617.55" r="0.92"/><circle cx="410.35" cy="600.95" r="0.92"/><circle cx="432.60" cy="611.51" r="0.92"/><circle cx="423.56" cy="621.69" r="0.92"/><circle cx="419.94" cy="603.58" r="0.92"/><circle cx="443.67" cy="622.93" r="0.92"/><circle cx="432.86" cy="607.57" r="0.92"/><circle cx="426.64" cy="607.95" r="0.92"/><circle cx="423.13" cy="612.97" r="0.92"/><circle cx="415.09" cy="607.02" r="0.92"/><circle cx="410.94" cy="611.86" r="0.92"/><circle cx="412.84" cy="604.48" r="0.92"/><circle cx="425.18" cy="619.71" r="0.92"/><circle cx="424.91" cy="623.83" r="0.92"/><circle cx="426.32" cy="621.38" r="0.92"/><circle cx="434.14" cy="602.74" r="0.92"/><circle cx="412.27" cy="606.02" r="0.92"/><circle cx="431.29" cy="604.51" r="0.92"/><circle cx="410.53" cy="602.51" r="0.92"/><circle cx="414.75" cy="622.83" r="0.92"/><circle cx="423.41" cy="616.36" r="0.92"/><circle cx="419.35" cy="622.70" r="0.92"/><circle cx="416.05" cy="605.69" r="0.92"/><circle cx="421.93" cy="615.34" r="0.92"/><circle cx="426.79" cy="607.07" r="0.92"/><circle cx="413.69" cy="621.90" r="0.92"/><circle cx="427.16" cy="619.81" r="0.92"/><circle cx="409.39" cy="603.10" r="0.92"/><circle cx="421.90" cy="620.57" r="0.92"/><circle cx="415.32" cy="612.56" r="0.92"/><circle cx="417.32" cy="606.41" r="0.92"/><circle cx="421.02" cy="620.11" r="0.92"/><circle cx="419.56" cy="610.15" r="0.92"/><circle cx="419.29" cy="614.97" r="0.92"/><circle cx="419.07" cy="615.00" r="0.92"/><circle cx="428.82" cy="620.89" r="0.92"/><circle cx="412.37" cy="607.63" r="0.92"/><circle cx="420.85" cy="622.70" r="0.92"/><circle cx="417.49" cy="619.09" r="0.92"/><circle cx="430.45" cy="623.40" r="0.92"/><circle cx="421.50" cy="631.01" r="0.92"/><circle cx="445.07" cy="621.48" r="0.92"/><circle cx="419.49" cy="617.11" r="0.92"/></g>
<text x="425.66" y="584.90" font-size="4.7" fill="#111" text-anchor="middle" font-weight="normal" font-family='"Liberation Sans", sans-serif' stroke="#111" stroke-width="0.12" >Replication</text>
<text x="425.66" y="589.50" font-size="4.7" fill="#111" text-anchor="middle" font-weight="normal" font-family='"Liberation Sans", sans-serif' stroke="#111" stroke-width="0.12" >log2FC=-0.09</text>
<text x="425.66" y="594.10" font-size="4.7" fill="#111" text-anchor="middle" font-weight="normal" font-family='"Liberation Sans", sans-serif' stroke="#111" stroke-width="0.12" >p-value=0.0076</text>
<text x="407.00" y="642.40" font-size="5.6" fill="#3a3a3a" text-anchor="middle" font-weight="normal" font-family='"Liberation Sans", sans-serif' stroke="#3a3a3a" stroke-width="0.12" >20</text>
<text x="416.58" y="642.40" font-size="5.6" fill="#3a3a3a" text-anchor="middle" font-weight="normal" font-family='"Liberation Sans", sans-serif' stroke="#3a3a3a" stroke-width="0.12" >30</text>
<text x="426.16" y="642.40" font-size="5.6" fill="#3a3a3a" text-anchor="middle" font-weight="normal" font-family='"Liberation Sans", sans-serif' stroke="#3a3a3a" stroke-width="0.12" >40</text>
<text x="435.74" y="642.40" font-size="5.6" fill="#3a3a3a" text-anchor="middle" font-weight="normal" font-family='"Liberation Sans", sans-serif' stroke="#3a3a3a" stroke-width="0.12" >50</text>
<text x="445.32" y="642.40" font-size="5.6" fill="#3a3a3a" text-anchor="middle" font-weight="normal" font-family='"Liberation Sans", sans-serif' stroke="#3a3a3a" stroke-width="0.12" >60</text>
<text x="401.60" y="647.80" font-size="5.8" fill="#222" text-anchor="middle" font-weight="bold" font-family='"Liberation Sans", sans-serif' >BMI</text>
<rect x="464.60" y="548.50" width="91.30" height="10.60" fill="#bf1fff"/>
<text x="510.25" y="556.00" font-size="4.6" fill="#fff" text-anchor="middle" font-weight="normal" font-family='"Liberation Sans", sans-serif' >Lesional</text>
<rect x="464.60" y="559.10" width="91.30" height="10.90" fill="#5e958c"/>
<text x="510.25" y="566.75" font-size="4.6" fill="#fff" text-anchor="middle" font-weight="normal" font-family='"Liberation Sans", sans-serif' >Adalimumab</text>
<text x="510.25" y="575.00" font-size="4.7" fill="#111" text-anchor="middle" font-weight="normal" font-family='"Liberation Sans", sans-serif' stroke="#111" stroke-width="0.12" >signed fit range=-2.6</text>
<text x="510.25" y="579.50" font-size="4.7" fill="#111" text-anchor="middle" font-weight="normal" font-family='"Liberation Sans", sans-serif' stroke="#111" stroke-width="0.12" >q-value=1.2e-06</text>
<rect x="450.30" y="582.10" width="6.60" height="54.40" fill="#f7fce2"/>
<text x="0" y="0" transform="translate(454.70,609.30) rotate(-90)" font-size="4.75" fill="#111" text-anchor="middle" font-family='"Liberation Sans", sans-serif'>SCGB1D2</text>
<text x="461.60" y="629.60" font-size="5.6" fill="#3a3a3a" text-anchor="middle" font-weight="normal" font-family='"Liberation Sans", sans-serif' stroke="#3a3a3a" stroke-width="0.12" >-5</text>
<text x="461.60" y="614.00" font-size="5.6" fill="#3a3a3a" text-anchor="middle" font-weight="normal" font-family='"Liberation Sans", sans-serif' stroke="#3a3a3a" stroke-width="0.12" >0</text>
<text x="461.60" y="598.40" font-size="5.6" fill="#3a3a3a" text-anchor="middle" font-weight="normal" font-family='"Liberation Sans", sans-serif' stroke="#3a3a3a" stroke-width="0.12" >5</text>
<defs><clipPath id="pa_SCGB1D2"><rect x="464.60" y="582.10" width="91.30" height="54.40"/></clipPath></defs>
<line x1="480.45" y1="582.10" x2="480.45" y2="636.50" stroke="#f5f5f5" stroke-width="0.35"/>
<line x1="503.95" y1="582.10" x2="503.95" y2="636.50" stroke="#f5f5f5" stroke-width="0.35"/>
<line x1="527.45" y1="582.10" x2="527.45" y2="636.50" stroke="#f5f5f5" stroke-width="0.35"/>
<line x1="550.95" y1="582.10" x2="550.95" y2="636.50" stroke="#f5f5f5" stroke-width="0.35"/>
<line x1="464.60" y1="620.00" x2="555.90" y2="620.00" stroke="#f5f5f5" stroke-width="0.35"/>
<line x1="464.60" y1="604.40" x2="555.90" y2="604.40" stroke="#f5f5f5" stroke-width="0.35"/>
<line x1="464.60" y1="635.60" x2="555.90" y2="635.60" stroke="#f5f5f5" stroke-width="0.35"/>
<line x1="464.60" y1="588.80" x2="555.90" y2="588.80" stroke="#f5f5f5" stroke-width="0.35"/>
<line x1="468.70" y1="582.10" x2="468.70" y2="636.50" stroke="#ebebeb" stroke-width="0.5"/>
<line x1="492.20" y1="582.10" x2="492.20" y2="636.50" stroke="#ebebeb" stroke-width="0.5"/>
<line x1="515.70" y1="582.10" x2="515.70" y2="636.50" stroke="#ebebeb" stroke-width="0.5"/>
<line x1="539.20" y1="582.10" x2="539.20" y2="636.50" stroke="#ebebeb" stroke-width="0.5"/>
<line x1="464.60" y1="627.80" x2="555.90" y2="627.80" stroke="#ebebeb" stroke-width="0.5"/>
<line x1="464.60" y1="612.20" x2="555.90" y2="612.20" stroke="#ebebeb" stroke-width="0.5"/>
<line x1="464.60" y1="596.60" x2="555.90" y2="596.60" stroke="#ebebeb" stroke-width="0.5"/>
<path d="M468.70,596.52L470.82,597.24L472.94,597.96L475.06,598.67L477.18,599.23L479.31,599.70L481.43,600.12L483.55,600.51L485.67,600.86L487.79,601.20L489.91,601.51L492.03,601.80L494.15,602.06L496.27,602.28L498.39,602.48L500.52,602.68L502.64,602.87L504.76,603.07L506.88,603.27L509.00,603.43L511.12,603.55L513.24,603.65L515.36,603.73L517.48,603.78L519.60,603.82L521.73,603.83L523.85,603.83L525.97,603.80L528.09,603.74L530.21,603.66L532.33,603.56L534.45,603.44L536.57,603.30L538.69,603.13L540.81,602.94L542.94,602.74L545.06,602.51L547.18,602.26L549.30,601.99L551.42,601.70L551.42,616.05L549.30,615.31L547.18,614.58L545.06,613.87L542.94,613.19L540.81,612.52L538.69,611.88L536.57,611.25L534.45,610.65L532.33,610.07L530.21,609.51L528.09,608.98L525.97,608.47L523.85,607.98L521.73,607.51L519.60,607.08L517.48,606.67L515.36,606.29L513.24,605.95L511.12,605.65L509.00,605.38L506.88,605.14L504.76,604.94L502.64,604.75L500.52,604.55L498.39,604.35L496.27,604.15L494.15,603.93L492.03,603.68L489.91,603.39L487.79,603.07L485.67,602.73L483.55,602.38L481.43,601.99L479.31,601.57L477.18,601.11L475.06,600.68L472.94,600.39L470.82,600.09L468.70,599.80Z" fill="#8c8c8c" fill-opacity="0.42" clip-path="url(#pa_SCGB1D2)"/>
<path d="M468.70,598.16L470.82,598.67L472.94,599.17L475.06,599.68L477.18,600.17L479.31,600.63L481.43,601.06L483.55,601.44L485.67,601.80L487.79,602.13L489.91,602.45L492.03,602.74L494.15,602.99L496.27,603.21L498.39,603.42L500.52,603.61L502.64,603.81L504.76,604.01L506.88,604.20L509.00,604.40L511.12,604.60L513.24,604.80L515.36,605.01L517.48,605.22L519.60,605.45L521.73,605.67L523.85,605.90L525.97,606.13L528.09,606.36L530.21,606.59L532.33,606.82L534.45,607.05L536.57,607.28L538.69,607.50L540.81,607.73L542.94,607.96L545.06,608.19L547.18,608.42L549.30,608.65L551.42,608.88" fill="none" stroke="#1e1e1e" stroke-width="1.05" clip-path="url(#pa_SCGB1D2)"/>
<g fill="#ff7f00"><circle cx="475.29" cy="590.06" r="0.92"/><circle cx="485.33" cy="598.21" r="0.92"/><circle cx="470.84" cy="597.64" r="0.92"/><circle cx="469.68" cy="601.13" r="0.92"/><circle cx="486.75" cy="601.04" r="0.92"/><circle cx="476.01" cy="603.41" r="0.92"/><circle cx="472.37" cy="589.93" r="0.92"/><circle cx="485.91" cy="600.53" r="0.92"/><circle cx="470.00" cy="600.99" r="0.92"/><circle cx="482.12" cy="602.42" r="0.92"/><circle cx="468.79" cy="598.54" r="0.92"/><circle cx="474.56" cy="597.14" r="0.92"/><circle cx="477.19" cy="605.15" r="0.92"/><circle cx="478.48" cy="603.98" r="0.92"/><circle cx="476.28" cy="605.71" r="0.92"/><circle cx="470.45" cy="597.25" r="0.92"/><circle cx="473.40" cy="589.88" r="0.92"/><circle cx="479.77" cy="612.17" r="0.92"/><circle cx="473.30" cy="600.81" r="0.92"/><circle cx="481.29" cy="589.47" r="0.92"/><circle cx="470.03" cy="604.13" r="0.92"/><circle cx="471.87" cy="591.06" r="0.92"/><circle cx="472.12" cy="601.90" r="0.92"/><circle cx="472.33" cy="593.65" r="0.92"/><circle cx="479.86" cy="592.54" r="0.92"/><circle cx="481.46" cy="597.66" r="0.92"/><circle cx="481.23" cy="619.44" r="0.92"/><circle cx="468.80" cy="592.88" r="0.92"/><circle cx="475.16" cy="601.57" r="0.92"/><circle cx="480.96" cy="587.17" r="0.92"/><circle cx="471.79" cy="603.71" r="0.92"/><circle cx="470.27" cy="593.37" r="0.92"/><circle cx="470.89" cy="600.57" r="0.92"/><circle cx="471.36" cy="600.64" r="0.92"/><circle cx="480.99" cy="603.68" r="0.92"/><circle cx="475.04" cy="597.88" r="0.92"/><circle cx="486.46" cy="599.66" r="0.92"/><circle cx="474.30" cy="602.59" r="0.92"/><circle cx="481.44" cy="602.45" r="0.92"/><circle cx="475.65" cy="610.42" r="0.92"/><circle cx="480.10" cy="596.42" r="0.92"/><circle cx="470.72" cy="585.16" r="0.92"/><circle cx="473.00" cy="592.38" r="0.92"/><circle cx="470.25" cy="602.16" r="0.92"/><circle cx="475.86" cy="596.71" r="0.92"/><circle cx="472.85" cy="599.09" r="0.92"/><circle cx="471.74" cy="589.32" r="0.92"/><circle cx="468.72" cy="609.49" r="0.92"/><circle cx="477.57" cy="601.19" r="0.92"/><circle cx="473.92" cy="598.36" r="0.92"/><circle cx="481.43" cy="600.41" r="0.92"/><circle cx="472.61" cy="596.35" r="0.92"/><circle cx="470.35" cy="592.22" r="0.92"/><circle cx="470.49" cy="599.14" r="0.92"/><circle cx="470.21" cy="600.47" r="0.92"/><circle cx="473.38" cy="605.32" r="0.92"/><circle cx="471.06" cy="614.08" r="0.92"/><circle cx="471.51" cy="594.15" r="0.92"/><circle cx="475.26" cy="592.89" r="0.92"/><circle cx="476.30" cy="592.85" r="0.92"/><circle cx="478.45" cy="606.31" r="0.92"/><circle cx="470.44" cy="603.35" r="0.92"/></g>
<g fill="#4daf4a"><circle cx="503.75" cy="593.57" r="0.92"/><circle cx="487.12" cy="602.37" r="0.92"/><circle cx="529.04" cy="606.29" r="0.92"/><circle cx="506.21" cy="591.72" r="0.92"/><circle cx="509.18" cy="613.81" r="0.92"/><circle cx="490.15" cy="615.82" r="0.92"/><circle cx="484.74" cy="604.84" r="0.92"/><circle cx="521.94" cy="597.04" r="0.92"/><circle cx="524.51" cy="602.85" r="0.92"/><circle cx="492.28" cy="602.82" r="0.92"/><circle cx="494.60" cy="606.73" r="0.92"/><circle cx="507.67" cy="608.31" r="0.92"/><circle cx="503.99" cy="611.33" r="0.92"/><circle cx="500.87" cy="610.58" r="0.92"/><circle cx="487.78" cy="609.35" r="0.92"/><circle cx="482.53" cy="586.15" r="0.92"/><circle cx="496.67" cy="601.85" r="0.92"/><circle cx="506.15" cy="607.77" r="0.92"/><circle cx="492.02" cy="625.74" r="0.92"/><circle cx="540.85" cy="598.39" r="0.92"/><circle cx="526.52" cy="604.82" r="0.92"/><circle cx="524.74" cy="604.31" r="0.92"/><circle cx="501.03" cy="605.62" r="0.92"/><circle cx="534.06" cy="597.76" r="0.92"/><circle cx="491.93" cy="592.83" r="0.92"/><circle cx="532.39" cy="598.41" r="0.92"/><circle cx="488.40" cy="598.67" r="0.92"/><circle cx="535.01" cy="606.81" r="0.92"/><circle cx="487.41" cy="599.52" r="0.92"/><circle cx="481.67" cy="604.38" r="0.92"/><circle cx="507.76" cy="602.35" r="0.92"/><circle cx="505.98" cy="618.58" r="0.92"/><circle cx="541.45" cy="604.53" r="0.92"/><circle cx="495.34" cy="603.90" r="0.92"/><circle cx="490.05" cy="599.64" r="0.92"/><circle cx="484.79" cy="601.86" r="0.92"/><circle cx="513.10" cy="607.71" r="0.92"/><circle cx="502.60" cy="613.19" r="0.92"/><circle cx="499.99" cy="608.54" r="0.92"/><circle cx="502.56" cy="620.02" r="0.92"/><circle cx="518.17" cy="614.09" r="0.92"/><circle cx="484.02" cy="595.81" r="0.92"/><circle cx="484.67" cy="589.35" r="0.92"/><circle cx="520.97" cy="601.71" r="0.92"/><circle cx="499.44" cy="598.34" r="0.92"/><circle cx="495.56" cy="613.17" r="0.92"/><circle cx="488.26" cy="592.56" r="0.92"/><circle cx="541.82" cy="594.80" r="0.92"/><circle cx="488.14" cy="605.02" r="0.92"/><circle cx="494.95" cy="603.26" r="0.92"/><circle cx="504.07" cy="614.16" r="0.92"/><circle cx="501.00" cy="609.06" r="0.92"/><circle cx="481.64" cy="586.88" r="0.92"/><circle cx="484.39" cy="603.35" r="0.92"/><circle cx="497.86" cy="602.26" r="0.92"/><circle cx="481.78" cy="599.98" r="0.92"/><circle cx="491.06" cy="602.50" r="0.92"/><circle cx="487.64" cy="601.57" r="0.92"/><circle cx="491.85" cy="607.36" r="0.92"/><circle cx="502.28" cy="598.24" r="0.92"/><circle cx="512.88" cy="598.85" r="0.92"/><circle cx="510.54" cy="604.44" r="0.92"/><circle cx="501.86" cy="600.52" r="0.92"/><circle cx="495.47" cy="605.75" r="0.92"/><circle cx="489.51" cy="611.35" r="0.92"/><circle cx="521.26" cy="613.83" r="0.92"/><circle cx="483.32" cy="586.04" r="0.92"/><circle cx="540.00" cy="606.08" r="0.92"/></g>
<g fill="#377eb8"><circle cx="505.04" cy="600.23" r="0.92"/><circle cx="507.38" cy="597.15" r="0.92"/><circle cx="540.92" cy="622.81" r="0.92"/><circle cx="499.99" cy="589.68" r="0.92"/><circle cx="500.80" cy="606.60" r="0.92"/><circle cx="497.49" cy="600.62" r="0.92"/><circle cx="492.33" cy="610.77" r="0.92"/><circle cx="507.21" cy="613.83" r="0.92"/><circle cx="499.20" cy="608.69" r="0.92"/><circle cx="488.95" cy="603.47" r="0.92"/><circle cx="494.20" cy="593.37" r="0.92"/><circle cx="490.81" cy="610.97" r="0.92"/><circle cx="520.63" cy="601.73" r="0.92"/><circle cx="500.69" cy="602.98" r="0.92"/><circle cx="505.13" cy="603.34" r="0.92"/><circle cx="493.94" cy="591.37" r="0.92"/><circle cx="511.65" cy="614.29" r="0.92"/><circle cx="551.30" cy="603.81" r="0.92"/><circle cx="521.23" cy="608.20" r="0.92"/><circle cx="550.16" cy="620.93" r="0.92"/><circle cx="499.65" cy="612.08" r="0.92"/><circle cx="505.35" cy="607.98" r="0.92"/><circle cx="503.50" cy="613.09" r="0.92"/><circle cx="533.70" cy="606.35" r="0.92"/><circle cx="552.05" cy="606.83" r="0.92"/><circle cx="518.34" cy="611.81" r="0.92"/><circle cx="515.09" cy="606.22" r="0.92"/><circle cx="498.91" cy="601.90" r="0.92"/><circle cx="487.87" cy="605.48" r="0.92"/><circle cx="496.63" cy="602.92" r="0.92"/><circle cx="498.08" cy="611.90" r="0.92"/><circle cx="485.63" cy="603.42" r="0.92"/><circle cx="510.23" cy="606.10" r="0.92"/><circle cx="504.34" cy="595.99" r="0.92"/><circle cx="505.73" cy="599.44" r="0.92"/><circle cx="494.69" cy="602.92" r="0.92"/><circle cx="495.11" cy="593.93" r="0.92"/><circle cx="510.06" cy="606.51" r="0.92"/><circle cx="524.98" cy="602.30" r="0.92"/><circle cx="509.90" cy="611.43" r="0.92"/><circle cx="500.20" cy="590.39" r="0.92"/><circle cx="501.77" cy="597.86" r="0.92"/><circle cx="508.88" cy="609.15" r="0.92"/><circle cx="500.06" cy="598.42" r="0.92"/><circle cx="497.74" cy="599.06" r="0.92"/><circle cx="505.72" cy="604.62" r="0.92"/><circle cx="495.86" cy="600.33" r="0.92"/><circle cx="493.00" cy="616.42" r="0.92"/><circle cx="509.06" cy="600.53" r="0.92"/><circle cx="517.16" cy="614.26" r="0.92"/><circle cx="489.04" cy="605.13" r="0.92"/><circle cx="507.76" cy="604.22" r="0.92"/><circle cx="507.46" cy="598.43" r="0.92"/><circle cx="487.94" cy="594.04" r="0.92"/><circle cx="508.98" cy="606.12" r="0.92"/><circle cx="542.81" cy="618.22" r="0.92"/><circle cx="524.97" cy="589.19" r="0.92"/><circle cx="491.36" cy="597.20" r="0.92"/><circle cx="498.39" cy="611.84" r="0.92"/><circle cx="488.79" cy="607.11" r="0.92"/><circle cx="521.15" cy="611.60" r="0.92"/><circle cx="546.93" cy="592.97" r="0.92"/><circle cx="489.77" cy="609.76" r="0.92"/><circle cx="504.38" cy="597.82" r="0.92"/><circle cx="494.43" cy="625.90" r="0.92"/><circle cx="515.34" cy="605.88" r="0.92"/><circle cx="496.95" cy="618.52" r="0.92"/><circle cx="492.37" cy="604.55" r="0.92"/><circle cx="485.94" cy="604.83" r="0.92"/><circle cx="513.52" cy="607.33" r="0.92"/><circle cx="500.11" cy="599.07" r="0.92"/><circle cx="487.38" cy="606.44" r="0.92"/></g>
<text x="468.70" y="642.30" font-size="5.6" fill="#3a3a3a" text-anchor="middle" font-weight="normal" font-family='"Liberation Sans", sans-serif' stroke="#3a3a3a" stroke-width="0.12" >0</text>
<text x="492.20" y="642.30" font-size="5.6" fill="#3a3a3a" text-anchor="middle" font-weight="normal" font-family='"Liberation Sans", sans-serif' stroke="#3a3a3a" stroke-width="0.12" >10</text>
<text x="515.70" y="642.30" font-size="5.6" fill="#3a3a3a" text-anchor="middle" font-weight="normal" font-family='"Liberation Sans", sans-serif' stroke="#3a3a3a" stroke-width="0.12" >20</text>
<text x="539.20" y="642.30" font-size="5.6" fill="#3a3a3a" text-anchor="middle" font-weight="normal" font-family='"Liberation Sans", sans-serif' stroke="#3a3a3a" stroke-width="0.12" >30</text>
<text x="510.25" y="647.80" font-size="5.8" fill="#222" text-anchor="middle" font-weight="bold" font-family='"Liberation Sans", sans-serif' >PASI</text>
<rect x="573.20" y="548.50" width="91.70" height="10.60" fill="#bf1fff"/>
<text x="619.05" y="556.00" font-size="4.6" fill="#fff" text-anchor="middle" font-weight="normal" font-family='"Liberation Sans", sans-serif' >Lesional</text>
<rect x="573.20" y="559.10" width="91.70" height="10.90" fill="#cb6a1f"/>
<text x="619.05" y="566.75" font-size="4.6" fill="#fff" text-anchor="middle" font-weight="normal" font-family='"Liberation Sans", sans-serif' >Ustekinumab</text>
<text x="619.05" y="575.00" font-size="4.7" fill="#111" text-anchor="middle" font-weight="normal" font-family='"Liberation Sans", sans-serif' stroke="#111" stroke-width="0.12" >signed fit range=-1.7</text>
<text x="619.05" y="579.50" font-size="4.7" fill="#111" text-anchor="middle" font-weight="normal" font-family='"Liberation Sans", sans-serif' stroke="#111" stroke-width="0.12" >q-value=0.00031</text>
<rect x="559.40" y="582.10" width="6.50" height="54.40" fill="#f7fce2"/>
<text x="0" y="0" transform="translate(561.55,609.30) rotate(90)" font-size="4.75" fill="#111" text-anchor="middle" font-family='"Liberation Sans", sans-serif'>SCGB1D2</text>
<text x="569.90" y="626.10" font-size="5.6" fill="#3a3a3a" text-anchor="middle" font-weight="normal" font-family='"Liberation Sans", sans-serif' stroke="#3a3a3a" stroke-width="0.12" >-4</text>
<text x="569.90" y="612.80" font-size="5.6" fill="#3a3a3a" text-anchor="middle" font-weight="normal" font-family='"Liberation Sans", sans-serif' stroke="#3a3a3a" stroke-width="0.12" >0</text>
<text x="569.90" y="599.50" font-size="5.6" fill="#3a3a3a" text-anchor="middle" font-weight="normal" font-family='"Liberation Sans", sans-serif' stroke="#3a3a3a" stroke-width="0.12" >4</text>
<text x="569.90" y="586.20" font-size="5.6" fill="#3a3a3a" text-anchor="middle" font-weight="normal" font-family='"Liberation Sans", sans-serif' stroke="#3a3a3a" stroke-width="0.12" >8</text>
<defs><clipPath id="pu_SCGB1D2"><rect x="573.20" y="582.10" width="91.70" height="54.40"/></clipPath></defs>
<line x1="589.20" y1="582.10" x2="589.20" y2="636.50" stroke="#f5f5f5" stroke-width="0.35"/>
<line x1="613.20" y1="582.10" x2="613.20" y2="636.50" stroke="#f5f5f5" stroke-width="0.35"/>
<line x1="637.20" y1="582.10" x2="637.20" y2="636.50" stroke="#f5f5f5" stroke-width="0.35"/>
<line x1="661.20" y1="582.10" x2="661.20" y2="636.50" stroke="#f5f5f5" stroke-width="0.35"/>
<line x1="573.20" y1="617.65" x2="664.90" y2="617.65" stroke="#f5f5f5" stroke-width="0.35"/>
<line x1="573.20" y1="604.35" x2="664.90" y2="604.35" stroke="#f5f5f5" stroke-width="0.35"/>
<line x1="573.20" y1="591.05" x2="664.90" y2="591.05" stroke="#f5f5f5" stroke-width="0.35"/>
<line x1="573.20" y1="630.95" x2="664.90" y2="630.95" stroke="#f5f5f5" stroke-width="0.35"/>
<line x1="577.20" y1="582.10" x2="577.20" y2="636.50" stroke="#ebebeb" stroke-width="0.5"/>
<line x1="601.20" y1="582.10" x2="601.20" y2="636.50" stroke="#ebebeb" stroke-width="0.5"/>
<line x1="625.20" y1="582.10" x2="625.20" y2="636.50" stroke="#ebebeb" stroke-width="0.5"/>
<line x1="649.20" y1="582.10" x2="649.20" y2="636.50" stroke="#ebebeb" stroke-width="0.5"/>
<line x1="573.20" y1="624.30" x2="664.90" y2="624.30" stroke="#ebebeb" stroke-width="0.5"/>
<line x1="573.20" y1="611.00" x2="664.90" y2="611.00" stroke="#ebebeb" stroke-width="0.5"/>
<line x1="573.20" y1="597.70" x2="664.90" y2="597.70" stroke="#ebebeb" stroke-width="0.5"/>
<line x1="573.20" y1="584.40" x2="664.90" y2="584.40" stroke="#ebebeb" stroke-width="0.5"/>
<path d="M577.20,595.95L579.37,596.39L581.53,596.82L583.70,597.26L585.86,597.54L588.03,597.75L590.20,597.96L592.36,598.17L594.53,598.38L596.70,598.59L598.86,598.78L601.03,598.95L603.19,599.09L605.36,599.20L607.53,599.29L609.69,599.38L611.86,599.47L614.02,599.56L616.19,599.65L618.36,599.71L620.52,599.74L622.69,599.74L624.86,599.71L627.02,599.65L629.19,599.56L631.35,599.44L633.52,599.30L635.69,599.14L637.85,598.97L640.02,598.77L642.18,598.55L644.35,598.32L646.52,598.07L648.68,597.80L650.85,597.51L653.02,597.21L655.18,596.89L657.35,596.55L659.51,596.19L661.68,595.82L661.68,608.12L659.51,607.64L657.35,607.17L655.18,606.72L653.02,606.29L650.85,605.87L648.68,605.47L646.52,605.09L644.35,604.72L642.18,604.38L640.02,604.05L637.85,603.74L635.69,603.45L633.52,603.18L631.35,602.93L629.19,602.70L627.02,602.48L624.86,602.28L622.69,602.09L620.52,601.92L618.36,601.77L616.19,601.65L614.02,601.56L611.86,601.47L609.69,601.38L607.53,601.29L605.36,601.19L603.19,601.08L601.03,600.95L598.86,600.78L596.70,600.58L594.53,600.38L592.36,600.17L590.20,599.96L588.03,599.75L585.86,599.54L583.70,599.40L581.53,599.42L579.37,599.43L577.20,599.45Z" fill="#8c8c8c" fill-opacity="0.42" clip-path="url(#pu_SCGB1D2)"/>
<path d="M577.20,597.70L579.37,597.91L581.53,598.12L583.70,598.33L585.86,598.54L588.03,598.75L590.20,598.96L592.36,599.17L594.53,599.38L596.70,599.59L598.86,599.78L601.03,599.95L603.19,600.08L605.36,600.19L607.53,600.29L609.69,600.38L611.86,600.47L614.02,600.56L616.19,600.65L618.36,600.74L620.52,600.83L622.69,600.92L624.86,600.99L627.02,601.06L629.19,601.13L631.35,601.18L633.52,601.24L635.69,601.30L637.85,601.35L640.02,601.41L642.18,601.47L644.35,601.52L646.52,601.58L648.68,601.64L650.85,601.69L653.02,601.75L655.18,601.80L657.35,601.86L659.51,601.92L661.68,601.97" fill="none" stroke="#1e1e1e" stroke-width="1.05" clip-path="url(#pu_SCGB1D2)"/>
<g fill="#ff7f00"><circle cx="577.53" cy="611.10" r="0.92"/><circle cx="580.58" cy="596.87" r="0.92"/><circle cx="586.49" cy="608.37" r="0.92"/><circle cx="581.97" cy="597.07" r="0.92"/><circle cx="581.41" cy="602.88" r="0.92"/><circle cx="585.35" cy="586.41" r="0.92"/><circle cx="585.16" cy="604.76" r="0.92"/><circle cx="578.55" cy="592.22" r="0.92"/><circle cx="581.02" cy="589.96" r="0.92"/><circle cx="580.48" cy="603.32" r="0.92"/><circle cx="580.29" cy="603.28" r="0.92"/><circle cx="582.84" cy="605.62" r="0.92"/><circle cx="585.68" cy="597.96" r="0.92"/><circle cx="578.78" cy="610.57" r="0.92"/><circle cx="577.50" cy="590.55" r="0.92"/><circle cx="585.71" cy="605.65" r="0.92"/><circle cx="589.74" cy="605.26" r="0.92"/><circle cx="585.21" cy="590.59" r="0.92"/><circle cx="578.06" cy="600.70" r="0.92"/><circle cx="596.13" cy="604.86" r="0.92"/><circle cx="591.32" cy="602.18" r="0.92"/><circle cx="577.49" cy="598.01" r="0.92"/><circle cx="589.96" cy="598.44" r="0.92"/><circle cx="580.78" cy="604.35" r="0.92"/><circle cx="580.44" cy="596.46" r="0.92"/><circle cx="594.16" cy="601.32" r="0.92"/><circle cx="578.83" cy="604.18" r="0.92"/><circle cx="596.08" cy="604.66" r="0.92"/><circle cx="577.23" cy="595.98" r="0.92"/><circle cx="580.85" cy="607.50" r="0.92"/><circle cx="580.65" cy="602.97" r="0.92"/><circle cx="590.70" cy="593.33" r="0.92"/><circle cx="580.72" cy="608.14" r="0.92"/><circle cx="580.12" cy="602.07" r="0.92"/><circle cx="595.54" cy="595.41" r="0.92"/><circle cx="585.73" cy="614.14" r="0.92"/><circle cx="588.40" cy="605.60" r="0.92"/><circle cx="578.50" cy="604.99" r="0.92"/><circle cx="580.50" cy="596.94" r="0.92"/><circle cx="589.65" cy="604.31" r="0.92"/><circle cx="578.69" cy="590.25" r="0.92"/><circle cx="585.58" cy="603.40" r="0.92"/><circle cx="589.96" cy="604.17" r="0.92"/><circle cx="579.22" cy="601.53" r="0.92"/><circle cx="579.15" cy="597.40" r="0.92"/><circle cx="580.60" cy="592.39" r="0.92"/><circle cx="579.69" cy="594.80" r="0.92"/><circle cx="587.88" cy="594.63" r="0.92"/><circle cx="584.40" cy="604.99" r="0.92"/><circle cx="580.86" cy="593.41" r="0.92"/><circle cx="577.71" cy="603.65" r="0.92"/><circle cx="580.49" cy="599.88" r="0.92"/><circle cx="583.84" cy="593.30" r="0.92"/><circle cx="583.36" cy="600.78" r="0.92"/><circle cx="582.98" cy="601.57" r="0.92"/><circle cx="583.09" cy="604.27" r="0.92"/><circle cx="585.83" cy="600.44" r="0.92"/><circle cx="580.97" cy="607.54" r="0.92"/><circle cx="577.76" cy="596.05" r="0.92"/><circle cx="583.60" cy="594.45" r="0.92"/><circle cx="591.00" cy="598.93" r="0.92"/><circle cx="579.82" cy="593.73" r="0.92"/></g>
<g fill="#4daf4a"><circle cx="596.73" cy="595.53" r="0.92"/><circle cx="605.72" cy="610.41" r="0.92"/><circle cx="618.83" cy="594.92" r="0.92"/><circle cx="614.30" cy="596.78" r="0.92"/><circle cx="595.14" cy="597.24" r="0.92"/><circle cx="599.78" cy="614.34" r="0.92"/><circle cx="596.76" cy="598.64" r="0.92"/><circle cx="623.43" cy="597.23" r="0.92"/><circle cx="653.88" cy="589.39" r="0.92"/><circle cx="590.85" cy="611.53" r="0.92"/><circle cx="614.99" cy="593.50" r="0.92"/><circle cx="601.40" cy="607.24" r="0.92"/><circle cx="594.07" cy="604.93" r="0.92"/><circle cx="612.33" cy="602.23" r="0.92"/><circle cx="612.48" cy="603.11" r="0.92"/><circle cx="611.33" cy="591.22" r="0.92"/><circle cx="606.72" cy="606.37" r="0.92"/><circle cx="602.67" cy="602.28" r="0.92"/><circle cx="611.02" cy="599.08" r="0.92"/><circle cx="610.62" cy="595.94" r="0.92"/><circle cx="606.38" cy="597.28" r="0.92"/><circle cx="622.59" cy="600.31" r="0.92"/><circle cx="602.32" cy="593.29" r="0.92"/><circle cx="600.99" cy="602.67" r="0.92"/><circle cx="591.49" cy="591.95" r="0.92"/><circle cx="597.57" cy="606.14" r="0.92"/><circle cx="613.93" cy="596.70" r="0.92"/><circle cx="604.32" cy="606.16" r="0.92"/><circle cx="591.24" cy="599.46" r="0.92"/><circle cx="590.83" cy="603.36" r="0.92"/><circle cx="594.54" cy="605.12" r="0.92"/><circle cx="633.56" cy="609.53" r="0.92"/><circle cx="590.73" cy="590.83" r="0.92"/><circle cx="592.02" cy="601.35" r="0.92"/><circle cx="621.18" cy="599.31" r="0.92"/><circle cx="605.04" cy="592.88" r="0.92"/><circle cx="608.08" cy="595.15" r="0.92"/><circle cx="608.34" cy="590.39" r="0.92"/><circle cx="609.05" cy="603.36" r="0.92"/><circle cx="644.65" cy="608.25" r="0.92"/><circle cx="629.52" cy="602.29" r="0.92"/><circle cx="653.03" cy="585.81" r="0.92"/><circle cx="611.11" cy="606.49" r="0.92"/><circle cx="619.74" cy="613.42" r="0.92"/><circle cx="610.45" cy="605.55" r="0.92"/><circle cx="591.34" cy="606.59" r="0.92"/><circle cx="602.11" cy="588.56" r="0.92"/><circle cx="612.63" cy="592.43" r="0.92"/><circle cx="593.78" cy="599.05" r="0.92"/><circle cx="605.42" cy="611.21" r="0.92"/><circle cx="614.30" cy="609.67" r="0.92"/><circle cx="600.78" cy="600.42" r="0.92"/><circle cx="596.69" cy="605.55" r="0.92"/><circle cx="625.69" cy="616.75" r="0.92"/><circle cx="592.86" cy="591.60" r="0.92"/><circle cx="647.40" cy="596.61" r="0.92"/><circle cx="609.28" cy="597.42" r="0.92"/><circle cx="601.75" cy="607.88" r="0.92"/><circle cx="603.36" cy="601.28" r="0.92"/><circle cx="612.25" cy="608.39" r="0.92"/><circle cx="600.97" cy="598.62" r="0.92"/><circle cx="613.51" cy="592.25" r="0.92"/><circle cx="604.15" cy="598.75" r="0.92"/><circle cx="603.09" cy="595.54" r="0.92"/><circle cx="611.85" cy="598.53" r="0.92"/><circle cx="591.46" cy="600.27" r="0.92"/><circle cx="598.12" cy="591.06" r="0.92"/><circle cx="619.07" cy="599.73" r="0.92"/></g>
<g fill="#377eb8"><circle cx="607.73" cy="589.59" r="0.92"/><circle cx="600.07" cy="606.47" r="0.92"/><circle cx="636.12" cy="603.37" r="0.92"/><circle cx="635.53" cy="599.20" r="0.92"/><circle cx="649.43" cy="596.99" r="0.92"/><circle cx="605.01" cy="602.02" r="0.92"/><circle cx="632.28" cy="592.44" r="0.92"/><circle cx="646.32" cy="603.49" r="0.92"/><circle cx="606.52" cy="589.33" r="0.92"/><circle cx="611.61" cy="592.99" r="0.92"/><circle cx="602.26" cy="586.80" r="0.92"/><circle cx="661.39" cy="615.13" r="0.92"/><circle cx="619.22" cy="586.17" r="0.92"/><circle cx="594.92" cy="599.06" r="0.92"/><circle cx="594.48" cy="604.10" r="0.92"/><circle cx="603.44" cy="592.35" r="0.92"/><circle cx="613.50" cy="595.98" r="0.92"/><circle cx="619.48" cy="598.08" r="0.92"/><circle cx="655.20" cy="605.87" r="0.92"/><circle cx="607.91" cy="596.92" r="0.92"/><circle cx="599.18" cy="593.68" r="0.92"/><circle cx="616.19" cy="599.50" r="0.92"/><circle cx="599.98" cy="610.26" r="0.92"/><circle cx="628.73" cy="605.09" r="0.92"/><circle cx="621.77" cy="605.23" r="0.92"/><circle cx="633.96" cy="596.95" r="0.92"/><circle cx="595.09" cy="594.23" r="0.92"/><circle cx="631.31" cy="602.75" r="0.92"/><circle cx="606.59" cy="607.21" r="0.92"/><circle cx="598.99" cy="605.99" r="0.92"/><circle cx="611.75" cy="600.86" r="0.92"/><circle cx="600.11" cy="593.93" r="0.92"/><circle cx="644.30" cy="606.18" r="0.92"/><circle cx="601.70" cy="599.03" r="0.92"/><circle cx="607.07" cy="603.42" r="0.92"/><circle cx="636.59" cy="607.11" r="0.92"/><circle cx="615.61" cy="595.54" r="0.92"/><circle cx="652.84" cy="606.25" r="0.92"/><circle cx="598.81" cy="596.67" r="0.92"/><circle cx="640.96" cy="606.59" r="0.92"/><circle cx="617.81" cy="592.28" r="0.92"/><circle cx="633.21" cy="625.48" r="0.92"/><circle cx="639.86" cy="609.00" r="0.92"/><circle cx="599.70" cy="594.38" r="0.92"/><circle cx="616.30" cy="593.65" r="0.92"/><circle cx="628.89" cy="611.28" r="0.92"/><circle cx="611.59" cy="591.83" r="0.92"/><circle cx="608.07" cy="599.92" r="0.92"/><circle cx="596.05" cy="599.99" r="0.92"/><circle cx="615.09" cy="585.74" r="0.92"/><circle cx="653.38" cy="602.58" r="0.92"/><circle cx="631.25" cy="602.81" r="0.92"/><circle cx="600.99" cy="603.51" r="0.92"/><circle cx="615.75" cy="600.59" r="0.92"/><circle cx="615.75" cy="603.76" r="0.92"/><circle cx="647.85" cy="602.15" r="0.92"/><circle cx="641.24" cy="603.67" r="0.92"/><circle cx="613.53" cy="597.02" r="0.92"/><circle cx="597.56" cy="599.15" r="0.92"/><circle cx="595.18" cy="590.40" r="0.92"/><circle cx="597.53" cy="596.46" r="0.92"/><circle cx="648.36" cy="604.32" r="0.92"/><circle cx="608.31" cy="589.28" r="0.92"/><circle cx="619.76" cy="601.35" r="0.92"/><circle cx="619.22" cy="603.85" r="0.92"/><circle cx="611.21" cy="592.68" r="0.92"/><circle cx="641.14" cy="591.37" r="0.92"/><circle cx="601.34" cy="611.47" r="0.92"/><circle cx="640.03" cy="609.51" r="0.92"/><circle cx="606.63" cy="601.54" r="0.92"/><circle cx="606.03" cy="589.38" r="0.92"/><circle cx="609.53" cy="595.36" r="0.92"/></g>
<text x="577.20" y="642.30" font-size="5.6" fill="#3a3a3a" text-anchor="middle" font-weight="normal" font-family='"Liberation Sans", sans-serif' stroke="#3a3a3a" stroke-width="0.12" >0</text>
<text x="601.20" y="642.30" font-size="5.6" fill="#3a3a3a" text-anchor="middle" font-weight="normal" font-family='"Liberation Sans", sans-serif' stroke="#3a3a3a" stroke-width="0.12" >10</text>
<text x="625.20" y="642.30" font-size="5.6" fill="#3a3a3a" text-anchor="middle" font-weight="normal" font-family='"Liberation Sans", sans-serif' stroke="#3a3a3a" stroke-width="0.12" >20</text>
<text x="649.20" y="642.30" font-size="5.6" fill="#3a3a3a" text-anchor="middle" font-weight="normal" font-family='"Liberation Sans", sans-serif' stroke="#3a3a3a" stroke-width="0.12" >30</text>
<text x="619.05" y="647.80" font-size="5.8" fill="#222" text-anchor="middle" font-weight="bold" font-family='"Liberation Sans", sans-serif' >PASI</text>
<rect x="30.00" y="652.00" width="92.00" height="15.40" fill="#f2bccb"/>
<text x="76.00" y="661.90" font-size="4.6" fill="#222" text-anchor="middle" font-weight="normal" font-family='"Liberation Sans", sans-serif' stroke="#222" stroke-width="0.12" >Nonlesional</text>
<rect x="30.00" y="667.40" width="92.00" height="16.00" fill="#80ffff"/>
<text x="76.00" y="677.60" font-size="4.6" fill="#222" text-anchor="middle" font-weight="normal" font-family='"Liberation Sans", sans-serif' stroke="#222" stroke-width="0.12" >Both drugs</text>
<rect x="16.70" y="700.10" width="5.90" height="40.70" fill="#f7fce2"/>
<text x="0" y="0" transform="translate(20.75,720.45) rotate(-90)" font-size="4.75" fill="#111" text-anchor="middle" font-family='"Liberation Sans", sans-serif'>MMP7</text>
<text x="26.60" y="742.50" font-size="5.6" fill="#3a3a3a" text-anchor="middle" font-weight="normal" font-family='"Liberation Sans", sans-serif' stroke="#3a3a3a" stroke-width="0.12" >-2</text>
<text x="26.60" y="732.42" font-size="5.6" fill="#3a3a3a" text-anchor="middle" font-weight="normal" font-family='"Liberation Sans", sans-serif' stroke="#3a3a3a" stroke-width="0.12" >0</text>
<text x="26.60" y="722.35" font-size="5.6" fill="#3a3a3a" text-anchor="middle" font-weight="normal" font-family='"Liberation Sans", sans-serif' stroke="#3a3a3a" stroke-width="0.12" >2</text>
<text x="26.60" y="712.27" font-size="5.6" fill="#3a3a3a" text-anchor="middle" font-weight="normal" font-family='"Liberation Sans", sans-serif' stroke="#3a3a3a" stroke-width="0.12" >4</text>
<text x="26.60" y="702.20" font-size="5.6" fill="#3a3a3a" text-anchor="middle" font-weight="normal" font-family='"Liberation Sans", sans-serif' stroke="#3a3a3a" stroke-width="0.12" >6</text>
<defs><clipPath id="b_MMP7_0"><rect x="29.49" y="700.10" width="45.45" height="40.70"/></clipPath></defs>
<line x1="37.52" y1="700.10" x2="37.52" y2="740.80" stroke="#f5f5f5" stroke-width="0.35"/>
<line x1="46.97" y1="700.10" x2="46.97" y2="740.80" stroke="#f5f5f5" stroke-width="0.35"/>
<line x1="56.42" y1="700.10" x2="56.42" y2="740.80" stroke="#f5f5f5" stroke-width="0.35"/>
<line x1="65.88" y1="700.10" x2="65.88" y2="740.80" stroke="#f5f5f5" stroke-width="0.35"/>
<line x1="29.49" y1="735.66" x2="74.95" y2="735.66" stroke="#f5f5f5" stroke-width="0.35"/>
<line x1="29.49" y1="725.59" x2="74.95" y2="725.59" stroke="#f5f5f5" stroke-width="0.35"/>
<line x1="29.49" y1="715.51" x2="74.95" y2="715.51" stroke="#f5f5f5" stroke-width="0.35"/>
<line x1="29.49" y1="705.44" x2="74.95" y2="705.44" stroke="#f5f5f5" stroke-width="0.35"/>
<line x1="32.80" y1="700.10" x2="32.80" y2="740.80" stroke="#ebebeb" stroke-width="0.5"/>
<line x1="42.25" y1="700.10" x2="42.25" y2="740.80" stroke="#ebebeb" stroke-width="0.5"/>
<line x1="51.70" y1="700.10" x2="51.70" y2="740.80" stroke="#ebebeb" stroke-width="0.5"/>
<line x1="61.15" y1="700.10" x2="61.15" y2="740.80" stroke="#ebebeb" stroke-width="0.5"/>
<line x1="70.60" y1="700.10" x2="70.60" y2="740.80" stroke="#ebebeb" stroke-width="0.5"/>
<line x1="29.49" y1="740.70" x2="74.95" y2="740.70" stroke="#ebebeb" stroke-width="0.5"/>
<line x1="29.49" y1="730.62" x2="74.95" y2="730.62" stroke="#ebebeb" stroke-width="0.5"/>
<line x1="29.49" y1="720.55" x2="74.95" y2="720.55" stroke="#ebebeb" stroke-width="0.5"/>
<line x1="29.49" y1="710.48" x2="74.95" y2="710.48" stroke="#ebebeb" stroke-width="0.5"/>
<line x1="29.49" y1="700.40" x2="74.95" y2="700.40" stroke="#ebebeb" stroke-width="0.5"/>
<path d="M32.80,707.07L34.12,707.93L35.45,708.77L36.77,709.60L38.09,710.40L39.41,711.17L40.74,711.93L42.06,712.67L43.38,713.38L44.71,714.08L46.03,714.75L47.35,715.40L48.68,716.03L50.00,716.64L51.32,717.22L52.64,717.79L53.97,718.33L55.29,718.86L56.61,719.36L57.94,719.84L59.26,720.30L59.26,724.83L57.94,723.93L56.61,723.05L55.29,722.19L53.97,721.36L52.64,720.54L51.32,719.75L50.00,718.97L48.68,718.22L47.35,717.49L46.03,716.78L44.71,716.09L43.38,715.43L42.06,714.78L40.74,714.16L39.41,713.55L38.09,712.97L36.77,712.41L35.45,711.87L34.12,711.36L32.80,710.86Z" fill="#8c8c8c" fill-opacity="0.42" clip-path="url(#b_MMP7_0)"/>
<path d="M32.80,708.96L34.12,709.64L35.45,710.32L36.77,711.00L38.09,711.68L39.41,712.36L40.74,713.04L42.06,713.72L43.38,714.40L44.71,715.08L46.03,715.76L47.35,716.44L48.68,717.12L50.00,717.80L51.32,718.48L52.64,719.16L53.97,719.84L55.29,720.52L56.61,721.20L57.94,721.88L59.26,722.57" fill="none" stroke="#1e1e1e" stroke-width="1.05" clip-path="url(#b_MMP7_0)"/>
<g fill="#377eb8"><circle cx="40.23" cy="711.01" r="0.92"/><circle cx="40.91" cy="713.50" r="0.92"/><circle cx="42.04" cy="711.27" r="0.92"/><circle cx="44.48" cy="722.82" r="0.92"/><circle cx="45.36" cy="712.97" r="0.92"/><circle cx="42.48" cy="722.80" r="0.92"/><circle cx="31.26" cy="707.32" r="0.92"/><circle cx="46.90" cy="717.62" r="0.92"/><circle cx="54.69" cy="719.51" r="0.92"/><circle cx="51.18" cy="715.58" r="0.92"/><circle cx="46.18" cy="717.63" r="0.92"/><circle cx="45.20" cy="718.23" r="0.92"/><circle cx="50.56" cy="720.17" r="0.92"/><circle cx="47.39" cy="713.09" r="0.92"/><circle cx="39.41" cy="726.05" r="0.92"/><circle cx="51.77" cy="720.57" r="0.92"/><circle cx="52.01" cy="718.83" r="0.92"/><circle cx="53.42" cy="711.44" r="0.92"/><circle cx="41.30" cy="706.30" r="0.92"/><circle cx="47.73" cy="716.08" r="0.92"/><circle cx="41.39" cy="711.88" r="0.92"/><circle cx="52.68" cy="715.72" r="0.92"/><circle cx="44.78" cy="718.02" r="0.92"/><circle cx="39.52" cy="715.25" r="0.92"/><circle cx="36.87" cy="712.04" r="0.92"/><circle cx="50.81" cy="714.83" r="0.92"/><circle cx="36.91" cy="706.82" r="0.92"/><circle cx="48.85" cy="726.34" r="0.92"/><circle cx="42.94" cy="718.09" r="0.92"/><circle cx="49.06" cy="716.93" r="0.92"/><circle cx="36.73" cy="703.06" r="0.92"/><circle cx="46.50" cy="717.87" r="0.92"/><circle cx="54.05" cy="722.51" r="0.92"/><circle cx="51.82" cy="721.13" r="0.92"/><circle cx="57.00" cy="719.12" r="0.92"/><circle cx="44.85" cy="718.55" r="0.92"/><circle cx="33.92" cy="710.74" r="0.92"/><circle cx="48.36" cy="709.90" r="0.92"/><circle cx="43.87" cy="703.47" r="0.92"/><circle cx="40.34" cy="718.60" r="0.92"/><circle cx="40.32" cy="712.20" r="0.92"/><circle cx="43.27" cy="710.68" r="0.92"/><circle cx="57.05" cy="729.13" r="0.92"/><circle cx="38.78" cy="710.60" r="0.92"/><circle cx="38.77" cy="701.53" r="0.92"/><circle cx="39.65" cy="716.65" r="0.92"/><circle cx="38.49" cy="721.36" r="0.92"/><circle cx="58.98" cy="730.10" r="0.92"/><circle cx="42.55" cy="712.28" r="0.92"/><circle cx="35.69" cy="703.00" r="0.92"/><circle cx="39.16" cy="715.29" r="0.92"/><circle cx="42.93" cy="710.64" r="0.92"/><circle cx="45.96" cy="718.11" r="0.92"/><circle cx="46.92" cy="708.54" r="0.92"/><circle cx="47.94" cy="715.00" r="0.92"/><circle cx="54.68" cy="710.67" r="0.92"/><circle cx="45.16" cy="721.62" r="0.92"/><circle cx="44.79" cy="719.52" r="0.92"/><circle cx="51.53" cy="713.08" r="0.92"/><circle cx="43.88" cy="710.67" r="0.92"/><circle cx="31.65" cy="720.02" r="0.92"/><circle cx="44.19" cy="714.67" r="0.92"/><circle cx="45.35" cy="729.86" r="0.92"/><circle cx="49.59" cy="723.47" r="0.92"/><circle cx="49.07" cy="717.19" r="0.92"/><circle cx="34.99" cy="708.82" r="0.92"/><circle cx="47.82" cy="717.79" r="0.92"/><circle cx="57.45" cy="720.57" r="0.92"/><circle cx="43.50" cy="718.77" r="0.92"/><circle cx="57.79" cy="727.62" r="0.92"/><circle cx="52.39" cy="716.86" r="0.92"/><circle cx="48.21" cy="713.75" r="0.92"/><circle cx="40.58" cy="714.41" r="0.92"/><circle cx="47.47" cy="715.26" r="0.92"/><circle cx="49.72" cy="723.29" r="0.92"/><circle cx="36.81" cy="709.91" r="0.92"/><circle cx="34.96" cy="717.30" r="0.92"/><circle cx="52.16" cy="711.21" r="0.92"/><circle cx="50.10" cy="725.49" r="0.92"/><circle cx="35.21" cy="714.11" r="0.92"/><circle cx="46.39" cy="721.14" r="0.92"/><circle cx="46.56" cy="717.07" r="0.92"/><circle cx="54.31" cy="723.64" r="0.92"/><circle cx="34.36" cy="716.01" r="0.92"/><circle cx="44.67" cy="712.65" r="0.92"/><circle cx="40.42" cy="711.94" r="0.92"/><circle cx="43.59" cy="709.81" r="0.92"/><circle cx="34.90" cy="716.83" r="0.92"/><circle cx="36.50" cy="708.30" r="0.92"/><circle cx="35.94" cy="702.38" r="0.92"/></g>
<text x="51.20" y="688.90" font-size="4.7" fill="#111" text-anchor="middle" font-weight="normal" font-family='"Liberation Sans", sans-serif' stroke="#111" stroke-width="0.12" >Discovery</text>
<text x="51.20" y="693.50" font-size="4.7" fill="#111" text-anchor="middle" font-weight="normal" font-family='"Liberation Sans", sans-serif' stroke="#111" stroke-width="0.12" >log2FC=-0.07</text>
<text x="51.20" y="698.10" font-size="4.7" fill="#111" text-anchor="middle" font-weight="normal" font-family='"Liberation Sans", sans-serif' stroke="#111" stroke-width="0.12" >FDR=0.0097</text>
<text x="32.80" y="746.40" font-size="5.6" fill="#3a3a3a" text-anchor="middle" font-weight="normal" font-family='"Liberation Sans", sans-serif' stroke="#3a3a3a" stroke-width="0.12" >20</text>
<text x="42.25" y="746.40" font-size="5.6" fill="#3a3a3a" text-anchor="middle" font-weight="normal" font-family='"Liberation Sans", sans-serif' stroke="#3a3a3a" stroke-width="0.12" >30</text>
<text x="51.70" y="746.40" font-size="5.6" fill="#3a3a3a" text-anchor="middle" font-weight="normal" font-family='"Liberation Sans", sans-serif' stroke="#3a3a3a" stroke-width="0.12" >40</text>
<text x="61.15" y="746.40" font-size="5.6" fill="#3a3a3a" text-anchor="middle" font-weight="normal" font-family='"Liberation Sans", sans-serif' stroke="#3a3a3a" stroke-width="0.12" >50</text>
<text x="70.60" y="746.40" font-size="5.6" fill="#3a3a3a" text-anchor="middle" font-weight="normal" font-family='"Liberation Sans", sans-serif' stroke="#3a3a3a" stroke-width="0.12" >60</text>
<defs><clipPath id="b_MMP7_1"><rect x="76.79" y="700.10" width="45.21" height="40.70"/></clipPath></defs>
<line x1="84.82" y1="700.10" x2="84.82" y2="740.80" stroke="#f5f5f5" stroke-width="0.35"/>
<line x1="94.27" y1="700.10" x2="94.27" y2="740.80" stroke="#f5f5f5" stroke-width="0.35"/>
<line x1="103.72" y1="700.10" x2="103.72" y2="740.80" stroke="#f5f5f5" stroke-width="0.35"/>
<line x1="113.17" y1="700.10" x2="113.17" y2="740.80" stroke="#f5f5f5" stroke-width="0.35"/>
<line x1="76.79" y1="735.66" x2="122.00" y2="735.66" stroke="#f5f5f5" stroke-width="0.35"/>
<line x1="76.79" y1="725.59" x2="122.00" y2="725.59" stroke="#f5f5f5" stroke-width="0.35"/>
<line x1="76.79" y1="715.51" x2="122.00" y2="715.51" stroke="#f5f5f5" stroke-width="0.35"/>
<line x1="76.79" y1="705.44" x2="122.00" y2="705.44" stroke="#f5f5f5" stroke-width="0.35"/>
<line x1="80.10" y1="700.10" x2="80.10" y2="740.80" stroke="#ebebeb" stroke-width="0.5"/>
<line x1="89.55" y1="700.10" x2="89.55" y2="740.80" stroke="#ebebeb" stroke-width="0.5"/>
<line x1="99.00" y1="700.10" x2="99.00" y2="740.80" stroke="#ebebeb" stroke-width="0.5"/>
<line x1="108.45" y1="700.10" x2="108.45" y2="740.80" stroke="#ebebeb" stroke-width="0.5"/>
<line x1="117.90" y1="700.10" x2="117.90" y2="740.80" stroke="#ebebeb" stroke-width="0.5"/>
<line x1="76.79" y1="740.70" x2="122.00" y2="740.70" stroke="#ebebeb" stroke-width="0.5"/>
<line x1="76.79" y1="730.62" x2="122.00" y2="730.62" stroke="#ebebeb" stroke-width="0.5"/>
<line x1="76.79" y1="720.55" x2="122.00" y2="720.55" stroke="#ebebeb" stroke-width="0.5"/>
<line x1="76.79" y1="710.48" x2="122.00" y2="710.48" stroke="#ebebeb" stroke-width="0.5"/>
<line x1="76.79" y1="700.40" x2="122.00" y2="700.40" stroke="#ebebeb" stroke-width="0.5"/>
<path d="M82.93,710.71L84.78,711.60L86.62,712.41L88.46,713.16L90.31,713.85L92.15,714.46L93.99,715.01L95.83,715.49L97.68,715.90L99.52,716.24L101.36,716.51L103.21,716.72L105.05,716.86L106.89,716.93L108.73,716.93L110.58,716.86L112.42,716.73L114.26,716.53L116.10,716.26L117.95,715.92L119.79,715.51L119.79,729.62L117.95,728.36L116.10,727.16L114.26,726.03L112.42,724.98L110.58,723.99L108.73,723.06L106.89,722.21L105.05,721.42L103.21,720.70L101.36,720.05L99.52,719.47L97.68,718.96L95.83,718.51L93.99,718.13L92.15,717.82L90.31,717.58L88.46,717.41L86.62,717.30L84.78,717.26L82.93,717.29Z" fill="#8c8c8c" fill-opacity="0.42" clip-path="url(#b_MMP7_1)"/>
<path d="M82.93,714.00L84.78,714.43L86.62,714.86L88.46,715.29L90.31,715.71L92.15,716.14L93.99,716.57L95.83,717.00L97.68,717.43L99.52,717.85L101.36,718.28L103.21,718.71L105.05,719.14L106.89,719.57L108.73,720.00L110.58,720.42L112.42,720.85L114.26,721.28L116.10,721.71L117.95,722.14L119.79,722.57" fill="none" stroke="#1e1e1e" stroke-width="1.05" clip-path="url(#b_MMP7_1)"/>
<g fill="#377eb8"><circle cx="102.92" cy="718.04" r="0.92"/><circle cx="113.01" cy="726.87" r="0.92"/><circle cx="102.96" cy="707.36" r="0.92"/><circle cx="104.30" cy="720.16" r="0.92"/><circle cx="98.72" cy="724.30" r="0.92"/><circle cx="112.12" cy="721.93" r="0.92"/><circle cx="88.88" cy="723.01" r="0.92"/><circle cx="95.39" cy="716.44" r="0.92"/><circle cx="110.53" cy="726.14" r="0.92"/><circle cx="90.65" cy="713.61" r="0.92"/><circle cx="91.49" cy="713.69" r="0.92"/><circle cx="89.55" cy="725.55" r="0.92"/><circle cx="90.96" cy="727.97" r="0.92"/><circle cx="101.90" cy="708.40" r="0.92"/><circle cx="103.20" cy="725.52" r="0.92"/><circle cx="91.69" cy="724.06" r="0.92"/><circle cx="91.97" cy="718.83" r="0.92"/><circle cx="86.45" cy="725.15" r="0.92"/><circle cx="83.81" cy="721.46" r="0.92"/><circle cx="92.90" cy="718.13" r="0.92"/><circle cx="98.79" cy="705.07" r="0.92"/><circle cx="108.73" cy="721.01" r="0.92"/><circle cx="107.02" cy="727.85" r="0.92"/><circle cx="109.27" cy="707.99" r="0.92"/><circle cx="89.67" cy="715.07" r="0.92"/><circle cx="85.73" cy="704.69" r="0.92"/><circle cx="85.46" cy="713.99" r="0.92"/><circle cx="87.98" cy="724.18" r="0.92"/><circle cx="89.17" cy="717.80" r="0.92"/><circle cx="92.73" cy="725.63" r="0.92"/><circle cx="103.27" cy="719.22" r="0.92"/><circle cx="90.80" cy="724.20" r="0.92"/><circle cx="94.21" cy="720.67" r="0.92"/><circle cx="95.37" cy="718.77" r="0.92"/><circle cx="89.63" cy="709.58" r="0.92"/><circle cx="88.87" cy="722.25" r="0.92"/><circle cx="88.00" cy="710.97" r="0.92"/><circle cx="91.01" cy="711.71" r="0.92"/><circle cx="98.65" cy="725.33" r="0.92"/><circle cx="99.54" cy="732.78" r="0.92"/><circle cx="89.95" cy="711.61" r="0.92"/><circle cx="99.26" cy="718.98" r="0.92"/><circle cx="98.44" cy="709.43" r="0.92"/><circle cx="94.56" cy="719.63" r="0.92"/><circle cx="100.97" cy="725.40" r="0.92"/><circle cx="101.01" cy="713.61" r="0.92"/><circle cx="114.32" cy="719.33" r="0.92"/><circle cx="114.24" cy="728.10" r="0.92"/><circle cx="86.20" cy="720.05" r="0.92"/><circle cx="98.99" cy="737.36" r="0.92"/><circle cx="85.34" cy="712.10" r="0.92"/><circle cx="99.90" cy="718.94" r="0.92"/><circle cx="85.02" cy="709.55" r="0.92"/><circle cx="103.91" cy="721.34" r="0.92"/><circle cx="99.35" cy="733.81" r="0.92"/><circle cx="84.10" cy="715.85" r="0.92"/><circle cx="109.95" cy="720.41" r="0.92"/><circle cx="91.60" cy="722.62" r="0.92"/><circle cx="86.19" cy="725.43" r="0.92"/><circle cx="103.42" cy="710.51" r="0.92"/><circle cx="92.79" cy="725.44" r="0.92"/><circle cx="91.74" cy="717.19" r="0.92"/></g>
<text x="98.50" y="688.90" font-size="4.7" fill="#111" text-anchor="middle" font-weight="normal" font-family='"Liberation Sans", sans-serif' stroke="#111" stroke-width="0.12" >Replication</text>
<text x="98.50" y="693.50" font-size="4.7" fill="#111" text-anchor="middle" font-weight="normal" font-family='"Liberation Sans", sans-serif' stroke="#111" stroke-width="0.12" >log2FC=-0.05</text>
<text x="98.50" y="698.10" font-size="4.7" fill="#111" text-anchor="middle" font-weight="normal" font-family='"Liberation Sans", sans-serif' stroke="#111" stroke-width="0.12" >p-value=0.013</text>
<text x="80.10" y="746.40" font-size="5.6" fill="#3a3a3a" text-anchor="middle" font-weight="normal" font-family='"Liberation Sans", sans-serif' stroke="#3a3a3a" stroke-width="0.12" >20</text>
<text x="89.55" y="746.40" font-size="5.6" fill="#3a3a3a" text-anchor="middle" font-weight="normal" font-family='"Liberation Sans", sans-serif' stroke="#3a3a3a" stroke-width="0.12" >30</text>
<text x="99.00" y="746.40" font-size="5.6" fill="#3a3a3a" text-anchor="middle" font-weight="normal" font-family='"Liberation Sans", sans-serif' stroke="#3a3a3a" stroke-width="0.12" >40</text>
<text x="108.45" y="746.40" font-size="5.6" fill="#3a3a3a" text-anchor="middle" font-weight="normal" font-family='"Liberation Sans", sans-serif' stroke="#3a3a3a" stroke-width="0.12" >50</text>
<text x="117.90" y="746.40" font-size="5.6" fill="#3a3a3a" text-anchor="middle" font-weight="normal" font-family='"Liberation Sans", sans-serif' stroke="#3a3a3a" stroke-width="0.12" >60</text>
<text x="76.00" y="751.80" font-size="5.8" fill="#222" text-anchor="middle" font-weight="bold" font-family='"Liberation Sans", sans-serif' >BMI</text>
<rect x="139.20" y="652.50" width="90.90" height="10.60" fill="#bf1fff"/>
<text x="184.65" y="660.00" font-size="4.6" fill="#fff" text-anchor="middle" font-weight="normal" font-family='"Liberation Sans", sans-serif' >Lesional</text>
<rect x="139.20" y="663.10" width="90.90" height="10.90" fill="#5e958c"/>
<text x="184.65" y="670.75" font-size="4.6" fill="#fff" text-anchor="middle" font-weight="normal" font-family='"Liberation Sans", sans-serif' >Adalimumab</text>
<text x="184.65" y="679.00" font-size="4.7" fill="#111" text-anchor="middle" font-weight="normal" font-family='"Liberation Sans", sans-serif' stroke="#111" stroke-width="0.12" >signed fit range=-1.5</text>
<text x="184.65" y="683.50" font-size="4.7" fill="#111" text-anchor="middle" font-weight="normal" font-family='"Liberation Sans", sans-serif' stroke="#111" stroke-width="0.12" >q-value=1.5e-07</text>
<rect x="124.90" y="686.10" width="6.50" height="54.40" fill="#f7fce2"/>
<text x="0" y="0" transform="translate(129.25,713.30) rotate(-90)" font-size="4.75" fill="#111" text-anchor="middle" font-family='"Liberation Sans", sans-serif'>MMP7</text>
<text x="135.80" y="738.50" font-size="5.6" fill="#3a3a3a" text-anchor="middle" font-weight="normal" font-family='"Liberation Sans", sans-serif' stroke="#3a3a3a" stroke-width="0.12" >-2</text>
<text x="135.80" y="726.10" font-size="5.6" fill="#3a3a3a" text-anchor="middle" font-weight="normal" font-family='"Liberation Sans", sans-serif' stroke="#3a3a3a" stroke-width="0.12" >0</text>
<text x="135.80" y="713.70" font-size="5.6" fill="#3a3a3a" text-anchor="middle" font-weight="normal" font-family='"Liberation Sans", sans-serif' stroke="#3a3a3a" stroke-width="0.12" >2</text>
<text x="135.80" y="701.30" font-size="5.6" fill="#3a3a3a" text-anchor="middle" font-weight="normal" font-family='"Liberation Sans", sans-serif' stroke="#3a3a3a" stroke-width="0.12" >4</text>
<text x="135.80" y="688.90" font-size="5.6" fill="#3a3a3a" text-anchor="middle" font-weight="normal" font-family='"Liberation Sans", sans-serif' stroke="#3a3a3a" stroke-width="0.12" >6</text>
<defs><clipPath id="pa_MMP7"><rect x="139.30" y="686.10" width="90.80" height="54.40"/></clipPath></defs>
<line x1="154.15" y1="686.10" x2="154.15" y2="740.50" stroke="#f5f5f5" stroke-width="0.35"/>
<line x1="177.65" y1="686.10" x2="177.65" y2="740.50" stroke="#f5f5f5" stroke-width="0.35"/>
<line x1="201.15" y1="686.10" x2="201.15" y2="740.50" stroke="#f5f5f5" stroke-width="0.35"/>
<line x1="224.65" y1="686.10" x2="224.65" y2="740.50" stroke="#f5f5f5" stroke-width="0.35"/>
<line x1="139.30" y1="730.50" x2="230.10" y2="730.50" stroke="#f5f5f5" stroke-width="0.35"/>
<line x1="139.30" y1="718.10" x2="230.10" y2="718.10" stroke="#f5f5f5" stroke-width="0.35"/>
<line x1="139.30" y1="705.70" x2="230.10" y2="705.70" stroke="#f5f5f5" stroke-width="0.35"/>
<line x1="139.30" y1="693.30" x2="230.10" y2="693.30" stroke="#f5f5f5" stroke-width="0.35"/>
<line x1="142.40" y1="686.10" x2="142.40" y2="740.50" stroke="#ebebeb" stroke-width="0.5"/>
<line x1="165.90" y1="686.10" x2="165.90" y2="740.50" stroke="#ebebeb" stroke-width="0.5"/>
<line x1="189.40" y1="686.10" x2="189.40" y2="740.50" stroke="#ebebeb" stroke-width="0.5"/>
<line x1="212.90" y1="686.10" x2="212.90" y2="740.50" stroke="#ebebeb" stroke-width="0.5"/>
<line x1="139.30" y1="736.70" x2="230.10" y2="736.70" stroke="#ebebeb" stroke-width="0.5"/>
<line x1="139.30" y1="724.30" x2="230.10" y2="724.30" stroke="#ebebeb" stroke-width="0.5"/>
<line x1="139.30" y1="711.90" x2="230.10" y2="711.90" stroke="#ebebeb" stroke-width="0.5"/>
<line x1="139.30" y1="699.50" x2="230.10" y2="699.50" stroke="#ebebeb" stroke-width="0.5"/>
<line x1="139.30" y1="687.10" x2="230.10" y2="687.10" stroke="#ebebeb" stroke-width="0.5"/>
<path d="M142.40,704.15L144.52,704.88L146.64,705.60L148.76,706.33L150.88,706.88L153.01,707.36L155.13,707.86L157.25,708.39L159.37,708.94L161.49,709.49L163.61,710.01L165.73,710.47L167.85,710.86L169.97,711.18L172.09,711.48L174.22,711.76L176.34,712.04L178.46,712.32L180.58,712.59L182.70,712.84L184.82,713.05L186.94,713.22L189.06,713.36L191.18,713.45L193.30,713.51L195.43,713.53L197.55,713.51L199.67,713.44L201.79,713.30L203.91,713.07L206.03,712.78L208.15,712.45L210.27,712.10L212.39,711.72L214.51,711.33L216.64,710.91L218.76,710.47L220.88,710.02L223.00,709.54L225.12,709.05L225.12,723.43L223.00,722.94L220.88,722.46L218.76,722.01L216.64,721.57L214.51,721.15L212.39,720.76L210.27,720.38L208.15,720.03L206.03,719.69L203.91,719.35L201.79,718.99L199.67,718.59L197.55,718.17L195.43,717.74L193.30,717.31L191.18,716.90L189.06,716.50L186.94,716.11L184.82,715.74L182.70,715.39L180.58,715.08L178.46,714.80L176.34,714.52L174.22,714.24L172.09,713.96L169.97,713.66L167.85,713.34L165.73,712.95L163.61,712.49L161.49,711.97L159.37,711.42L157.25,710.87L155.13,710.34L153.01,709.84L150.88,709.36L148.76,709.00L146.64,708.83L144.52,708.66L142.40,708.49Z" fill="#8c8c8c" fill-opacity="0.42" clip-path="url(#pa_MMP7)"/>
<path d="M142.40,706.32L144.52,706.77L146.64,707.22L148.76,707.66L150.88,708.12L153.01,708.60L155.13,709.10L157.25,709.63L159.37,710.18L161.49,710.73L163.61,711.25L165.73,711.71L167.85,712.10L169.97,712.42L172.09,712.72L174.22,713.00L176.34,713.28L178.46,713.56L180.58,713.84L182.70,714.12L184.82,714.39L186.94,714.67L189.06,714.93L191.18,715.17L193.30,715.41L195.43,715.63L197.55,715.84L199.67,716.02L201.79,716.14L203.91,716.21L206.03,716.23L208.15,716.24L210.27,716.24L212.39,716.24L214.51,716.24L216.64,716.24L218.76,716.24L220.88,716.24L223.00,716.24L225.12,716.24" fill="none" stroke="#1e1e1e" stroke-width="1.05" clip-path="url(#pa_MMP7)"/>
<g fill="#ff7f00"><circle cx="145.32" cy="720.03" r="0.92"/><circle cx="144.93" cy="719.25" r="0.92"/><circle cx="160.00" cy="698.32" r="0.92"/><circle cx="143.72" cy="716.63" r="0.92"/><circle cx="144.45" cy="702.29" r="0.92"/><circle cx="154.63" cy="700.78" r="0.92"/><circle cx="159.59" cy="716.86" r="0.92"/><circle cx="152.83" cy="712.07" r="0.92"/><circle cx="154.08" cy="706.87" r="0.92"/><circle cx="147.42" cy="717.07" r="0.92"/><circle cx="144.24" cy="706.67" r="0.92"/><circle cx="155.13" cy="724.47" r="0.92"/><circle cx="155.48" cy="724.94" r="0.92"/><circle cx="149.07" cy="716.22" r="0.92"/><circle cx="148.26" cy="713.51" r="0.92"/><circle cx="148.96" cy="705.80" r="0.92"/><circle cx="155.29" cy="718.31" r="0.92"/><circle cx="142.42" cy="698.53" r="0.92"/><circle cx="153.61" cy="714.68" r="0.92"/><circle cx="157.05" cy="701.57" r="0.92"/><circle cx="153.63" cy="709.33" r="0.92"/><circle cx="143.98" cy="711.58" r="0.92"/><circle cx="153.79" cy="703.24" r="0.92"/><circle cx="146.12" cy="704.50" r="0.92"/><circle cx="148.25" cy="717.54" r="0.92"/><circle cx="154.05" cy="715.77" r="0.92"/><circle cx="143.34" cy="700.11" r="0.92"/><circle cx="151.71" cy="719.18" r="0.92"/><circle cx="142.41" cy="702.57" r="0.92"/><circle cx="144.56" cy="702.76" r="0.92"/><circle cx="143.39" cy="697.30" r="0.92"/><circle cx="148.87" cy="708.33" r="0.92"/><circle cx="142.52" cy="719.74" r="0.92"/><circle cx="150.79" cy="718.83" r="0.92"/><circle cx="154.39" cy="714.77" r="0.92"/><circle cx="146.04" cy="713.23" r="0.92"/><circle cx="160.88" cy="716.08" r="0.92"/><circle cx="145.32" cy="712.87" r="0.92"/><circle cx="153.61" cy="714.50" r="0.92"/><circle cx="145.57" cy="709.27" r="0.92"/><circle cx="142.80" cy="700.71" r="0.92"/><circle cx="144.39" cy="702.14" r="0.92"/><circle cx="143.80" cy="708.44" r="0.92"/><circle cx="148.80" cy="709.89" r="0.92"/><circle cx="144.58" cy="710.81" r="0.92"/><circle cx="146.57" cy="695.76" r="0.92"/><circle cx="145.88" cy="703.49" r="0.92"/><circle cx="146.84" cy="709.56" r="0.92"/><circle cx="143.72" cy="705.13" r="0.92"/><circle cx="160.99" cy="710.37" r="0.92"/><circle cx="150.38" cy="719.48" r="0.92"/><circle cx="150.24" cy="720.26" r="0.92"/><circle cx="143.93" cy="697.44" r="0.92"/><circle cx="154.96" cy="713.82" r="0.92"/><circle cx="147.34" cy="700.25" r="0.92"/><circle cx="145.37" cy="703.45" r="0.92"/><circle cx="144.57" cy="698.29" r="0.92"/><circle cx="146.39" cy="712.34" r="0.92"/><circle cx="152.07" cy="707.92" r="0.92"/><circle cx="143.27" cy="708.86" r="0.92"/><circle cx="160.72" cy="703.74" r="0.92"/><circle cx="149.20" cy="712.96" r="0.92"/></g>
<g fill="#4daf4a"><circle cx="178.79" cy="712.05" r="0.92"/><circle cx="165.06" cy="706.04" r="0.92"/><circle cx="167.35" cy="696.31" r="0.92"/><circle cx="172.37" cy="728.29" r="0.92"/><circle cx="203.12" cy="717.61" r="0.92"/><circle cx="161.52" cy="713.00" r="0.92"/><circle cx="201.56" cy="717.83" r="0.92"/><circle cx="164.24" cy="701.71" r="0.92"/><circle cx="161.88" cy="705.68" r="0.92"/><circle cx="172.24" cy="727.84" r="0.92"/><circle cx="179.56" cy="710.81" r="0.92"/><circle cx="175.29" cy="724.38" r="0.92"/><circle cx="175.51" cy="715.79" r="0.92"/><circle cx="208.01" cy="716.43" r="0.92"/><circle cx="169.72" cy="702.11" r="0.92"/><circle cx="175.37" cy="717.99" r="0.92"/><circle cx="190.77" cy="713.51" r="0.92"/><circle cx="202.83" cy="730.03" r="0.92"/><circle cx="163.55" cy="724.68" r="0.92"/><circle cx="171.02" cy="712.18" r="0.92"/><circle cx="159.63" cy="708.20" r="0.92"/><circle cx="166.56" cy="713.32" r="0.92"/><circle cx="161.58" cy="710.46" r="0.92"/><circle cx="156.72" cy="704.36" r="0.92"/><circle cx="166.76" cy="704.88" r="0.92"/><circle cx="173.46" cy="707.44" r="0.92"/><circle cx="179.14" cy="719.04" r="0.92"/><circle cx="171.36" cy="712.21" r="0.92"/><circle cx="163.84" cy="721.32" r="0.92"/><circle cx="213.84" cy="702.77" r="0.92"/><circle cx="167.95" cy="722.34" r="0.92"/><circle cx="179.14" cy="713.72" r="0.92"/><circle cx="158.79" cy="707.83" r="0.92"/><circle cx="174.49" cy="727.15" r="0.92"/><circle cx="182.70" cy="695.30" r="0.92"/><circle cx="164.34" cy="716.87" r="0.92"/><circle cx="179.33" cy="693.22" r="0.92"/><circle cx="156.50" cy="706.65" r="0.92"/><circle cx="193.33" cy="717.44" r="0.92"/><circle cx="175.91" cy="735.67" r="0.92"/><circle cx="178.61" cy="702.87" r="0.92"/><circle cx="178.90" cy="718.66" r="0.92"/><circle cx="155.68" cy="722.27" r="0.92"/><circle cx="204.27" cy="714.89" r="0.92"/><circle cx="168.75" cy="708.63" r="0.92"/><circle cx="176.25" cy="737.86" r="0.92"/><circle cx="182.33" cy="699.58" r="0.92"/><circle cx="165.85" cy="725.38" r="0.92"/><circle cx="175.51" cy="723.92" r="0.92"/><circle cx="171.73" cy="717.47" r="0.92"/><circle cx="207.59" cy="727.82" r="0.92"/><circle cx="208.21" cy="701.42" r="0.92"/><circle cx="160.37" cy="695.60" r="0.92"/><circle cx="171.15" cy="719.64" r="0.92"/><circle cx="167.32" cy="692.92" r="0.92"/><circle cx="178.52" cy="719.65" r="0.92"/><circle cx="191.60" cy="697.95" r="0.92"/><circle cx="212.29" cy="716.28" r="0.92"/><circle cx="160.77" cy="721.45" r="0.92"/><circle cx="161.84" cy="715.81" r="0.92"/><circle cx="175.63" cy="719.46" r="0.92"/><circle cx="203.34" cy="726.40" r="0.92"/><circle cx="215.08" cy="712.70" r="0.92"/><circle cx="157.27" cy="707.46" r="0.92"/><circle cx="171.58" cy="714.19" r="0.92"/><circle cx="173.92" cy="714.98" r="0.92"/><circle cx="219.83" cy="721.05" r="0.92"/><circle cx="218.78" cy="713.13" r="0.92"/></g>
<g fill="#377eb8"><circle cx="221.70" cy="726.23" r="0.92"/><circle cx="164.45" cy="721.61" r="0.92"/><circle cx="163.16" cy="700.75" r="0.92"/><circle cx="162.49" cy="715.19" r="0.92"/><circle cx="173.12" cy="712.17" r="0.92"/><circle cx="166.03" cy="720.98" r="0.92"/><circle cx="175.06" cy="722.92" r="0.92"/><circle cx="174.77" cy="708.87" r="0.92"/><circle cx="200.25" cy="706.43" r="0.92"/><circle cx="167.49" cy="709.88" r="0.92"/><circle cx="172.12" cy="714.83" r="0.92"/><circle cx="158.92" cy="696.03" r="0.92"/><circle cx="166.39" cy="700.89" r="0.92"/><circle cx="160.20" cy="695.15" r="0.92"/><circle cx="172.05" cy="704.17" r="0.92"/><circle cx="160.83" cy="715.23" r="0.92"/><circle cx="192.73" cy="705.08" r="0.92"/><circle cx="225.71" cy="718.76" r="0.92"/><circle cx="176.24" cy="714.40" r="0.92"/><circle cx="182.09" cy="711.08" r="0.92"/><circle cx="186.09" cy="713.51" r="0.92"/><circle cx="174.26" cy="706.82" r="0.92"/><circle cx="177.92" cy="707.79" r="0.92"/><circle cx="205.38" cy="711.88" r="0.92"/><circle cx="170.54" cy="703.13" r="0.92"/><circle cx="174.77" cy="710.96" r="0.92"/><circle cx="189.75" cy="715.10" r="0.92"/><circle cx="180.58" cy="703.49" r="0.92"/><circle cx="178.38" cy="706.43" r="0.92"/><circle cx="186.70" cy="705.51" r="0.92"/><circle cx="196.60" cy="702.84" r="0.92"/><circle cx="222.41" cy="715.75" r="0.92"/><circle cx="176.66" cy="699.10" r="0.92"/><circle cx="179.85" cy="701.92" r="0.92"/><circle cx="218.08" cy="719.59" r="0.92"/><circle cx="183.67" cy="726.19" r="0.92"/><circle cx="186.73" cy="711.44" r="0.92"/><circle cx="173.37" cy="718.05" r="0.92"/><circle cx="166.37" cy="712.64" r="0.92"/><circle cx="173.58" cy="719.71" r="0.92"/><circle cx="195.41" cy="722.03" r="0.92"/><circle cx="164.57" cy="712.47" r="0.92"/><circle cx="180.82" cy="712.18" r="0.92"/><circle cx="174.26" cy="722.99" r="0.92"/><circle cx="214.41" cy="706.57" r="0.92"/><circle cx="223.54" cy="738.48" r="0.92"/><circle cx="177.47" cy="696.96" r="0.92"/><circle cx="172.38" cy="710.36" r="0.92"/><circle cx="203.75" cy="719.75" r="0.92"/><circle cx="186.11" cy="721.55" r="0.92"/><circle cx="188.50" cy="708.45" r="0.92"/><circle cx="217.54" cy="714.69" r="0.92"/><circle cx="171.80" cy="711.74" r="0.92"/><circle cx="185.96" cy="714.32" r="0.92"/><circle cx="174.36" cy="711.57" r="0.92"/><circle cx="159.15" cy="714.58" r="0.92"/><circle cx="176.03" cy="694.57" r="0.92"/><circle cx="169.62" cy="714.35" r="0.92"/><circle cx="171.87" cy="720.05" r="0.92"/><circle cx="169.95" cy="712.59" r="0.92"/><circle cx="167.87" cy="723.18" r="0.92"/><circle cx="164.84" cy="720.68" r="0.92"/><circle cx="163.58" cy="703.56" r="0.92"/><circle cx="163.24" cy="707.74" r="0.92"/><circle cx="172.94" cy="715.14" r="0.92"/><circle cx="175.03" cy="707.04" r="0.92"/><circle cx="164.02" cy="716.86" r="0.92"/><circle cx="198.96" cy="715.77" r="0.92"/><circle cx="176.69" cy="722.56" r="0.92"/><circle cx="182.46" cy="709.55" r="0.92"/><circle cx="219.59" cy="709.02" r="0.92"/><circle cx="179.21" cy="703.39" r="0.92"/></g>
<text x="142.40" y="746.30" font-size="5.6" fill="#3a3a3a" text-anchor="middle" font-weight="normal" font-family='"Liberation Sans", sans-serif' stroke="#3a3a3a" stroke-width="0.12" >0</text>
<text x="165.90" y="746.30" font-size="5.6" fill="#3a3a3a" text-anchor="middle" font-weight="normal" font-family='"Liberation Sans", sans-serif' stroke="#3a3a3a" stroke-width="0.12" >10</text>
<text x="189.40" y="746.30" font-size="5.6" fill="#3a3a3a" text-anchor="middle" font-weight="normal" font-family='"Liberation Sans", sans-serif' stroke="#3a3a3a" stroke-width="0.12" >20</text>
<text x="212.90" y="746.30" font-size="5.6" fill="#3a3a3a" text-anchor="middle" font-weight="normal" font-family='"Liberation Sans", sans-serif' stroke="#3a3a3a" stroke-width="0.12" >30</text>
<text x="184.70" y="751.80" font-size="5.8" fill="#222" text-anchor="middle" font-weight="bold" font-family='"Liberation Sans", sans-serif' >PASI</text>
<rect x="245.00" y="652.50" width="93.90" height="10.60" fill="#bf1fff"/>
<text x="291.95" y="660.00" font-size="4.6" fill="#fff" text-anchor="middle" font-weight="normal" font-family='"Liberation Sans", sans-serif' >Lesional</text>
<rect x="245.00" y="663.10" width="93.90" height="10.90" fill="#cb6a1f"/>
<text x="291.95" y="670.75" font-size="4.6" fill="#fff" text-anchor="middle" font-weight="normal" font-family='"Liberation Sans", sans-serif' >Ustekinumab</text>
<text x="291.95" y="679.00" font-size="4.7" fill="#111" text-anchor="middle" font-weight="normal" font-family='"Liberation Sans", sans-serif' stroke="#111" stroke-width="0.12" >signed fit range=-1</text>
<text x="291.95" y="683.50" font-size="4.7" fill="#111" text-anchor="middle" font-weight="normal" font-family='"Liberation Sans", sans-serif' stroke="#111" stroke-width="0.12" >q-value=5.3e-05</text>
<rect x="233.60" y="686.10" width="6.30" height="54.40" fill="#f7fce2"/>
<text x="0" y="0" transform="translate(237.85,713.30) rotate(-90)" font-size="4.75" fill="#111" text-anchor="middle" font-family='"Liberation Sans", sans-serif'>MMP7</text>
<text x="242.00" y="730.60" font-size="5.6" fill="#3a3a3a" text-anchor="middle" font-weight="normal" font-family='"Liberation Sans", sans-serif' stroke="#3a3a3a" stroke-width="0.12" >0</text>
<text x="242.00" y="715.10" font-size="5.6" fill="#3a3a3a" text-anchor="middle" font-weight="normal" font-family='"Liberation Sans", sans-serif' stroke="#3a3a3a" stroke-width="0.12" >2</text>
<text x="242.00" y="699.60" font-size="5.6" fill="#3a3a3a" text-anchor="middle" font-weight="normal" font-family='"Liberation Sans", sans-serif' stroke="#3a3a3a" stroke-width="0.12" >4</text>
<defs><clipPath id="pu_MMP7"><rect x="245.00" y="686.10" width="93.90" height="54.40"/></clipPath></defs>
<line x1="261.67" y1="686.10" x2="261.67" y2="740.50" stroke="#f5f5f5" stroke-width="0.35"/>
<line x1="286.19" y1="686.10" x2="286.19" y2="740.50" stroke="#f5f5f5" stroke-width="0.35"/>
<line x1="310.73" y1="686.10" x2="310.73" y2="740.50" stroke="#f5f5f5" stroke-width="0.35"/>
<line x1="335.25" y1="686.10" x2="335.25" y2="740.50" stroke="#f5f5f5" stroke-width="0.35"/>
<line x1="245.00" y1="721.05" x2="338.90" y2="721.05" stroke="#f5f5f5" stroke-width="0.35"/>
<line x1="245.00" y1="705.55" x2="338.90" y2="705.55" stroke="#f5f5f5" stroke-width="0.35"/>
<line x1="245.00" y1="736.55" x2="338.90" y2="736.55" stroke="#f5f5f5" stroke-width="0.35"/>
<line x1="245.00" y1="690.05" x2="338.90" y2="690.05" stroke="#f5f5f5" stroke-width="0.35"/>
<line x1="249.40" y1="686.10" x2="249.40" y2="740.50" stroke="#ebebeb" stroke-width="0.5"/>
<line x1="273.93" y1="686.10" x2="273.93" y2="740.50" stroke="#ebebeb" stroke-width="0.5"/>
<line x1="298.46" y1="686.10" x2="298.46" y2="740.50" stroke="#ebebeb" stroke-width="0.5"/>
<line x1="322.99" y1="686.10" x2="322.99" y2="740.50" stroke="#ebebeb" stroke-width="0.5"/>
<line x1="245.00" y1="728.80" x2="338.90" y2="728.80" stroke="#ebebeb" stroke-width="0.5"/>
<line x1="245.00" y1="713.30" x2="338.90" y2="713.30" stroke="#ebebeb" stroke-width="0.5"/>
<line x1="245.00" y1="697.80" x2="338.90" y2="697.80" stroke="#ebebeb" stroke-width="0.5"/>
<path d="M249.40,705.16L251.61,706.07L253.83,706.98L256.04,707.89L258.26,708.55L260.47,709.07L262.68,709.56L264.90,710.02L267.11,710.45L269.33,710.87L271.54,711.27L273.75,711.64L275.97,711.98L278.18,712.28L280.40,712.56L282.61,712.83L284.82,713.08L287.04,713.30L289.25,713.47L291.47,713.60L293.68,713.67L295.89,713.70L298.11,713.68L300.32,713.60L302.54,713.46L304.75,713.29L306.96,713.07L309.18,712.80L311.39,712.47L313.61,712.07L315.82,711.62L318.03,711.12L320.25,710.61L322.46,710.08L324.68,709.52L326.89,708.95L329.10,708.37L331.32,707.76L333.53,707.14L335.75,706.49L335.75,720.44L333.53,720.18L331.32,719.94L329.10,719.72L326.89,719.51L324.68,719.32L322.46,719.15L320.25,719.00L318.03,718.87L315.82,718.75L313.61,718.63L311.39,718.50L309.18,718.34L306.96,718.15L304.75,717.96L302.54,717.77L300.32,717.58L298.11,717.38L295.89,717.18L293.68,716.97L291.47,716.76L289.25,716.58L287.04,716.40L284.82,716.18L282.61,715.93L280.40,715.66L278.18,715.38L275.97,715.08L273.75,714.74L271.54,714.37L269.33,713.97L267.11,713.55L264.90,713.12L262.68,712.66L260.47,712.17L258.26,711.65L256.04,711.21L253.83,711.01L251.61,710.80L249.40,710.59Z" fill="#8c8c8c" fill-opacity="0.42" clip-path="url(#pu_MMP7)"/>
<path d="M249.40,707.88L251.61,708.43L253.83,708.99L256.04,709.55L258.26,710.10L260.47,710.62L262.68,711.11L264.90,711.57L267.11,712.00L269.33,712.42L271.54,712.82L273.75,713.19L275.97,713.53L278.18,713.83L280.40,714.11L282.61,714.38L284.82,714.63L287.04,714.85L289.25,715.03L291.47,715.18L293.68,715.32L295.89,715.44L298.11,715.53L300.32,715.59L302.54,715.62L304.75,715.62L306.96,715.61L309.18,715.57L311.39,715.48L313.61,715.35L315.82,715.18L318.03,715.00L320.25,714.80L322.46,714.61L324.68,714.42L326.89,714.23L329.10,714.04L331.32,713.85L333.53,713.66L335.75,713.47" fill="none" stroke="#1e1e1e" stroke-width="1.05" clip-path="url(#pu_MMP7)"/>
<g fill="#ff7f00"><circle cx="262.80" cy="703.46" r="0.92"/><circle cx="251.72" cy="707.92" r="0.92"/><circle cx="252.24" cy="699.43" r="0.92"/><circle cx="259.58" cy="708.69" r="0.92"/><circle cx="253.20" cy="706.86" r="0.92"/><circle cx="258.11" cy="695.74" r="0.92"/><circle cx="261.07" cy="717.32" r="0.92"/><circle cx="255.41" cy="697.07" r="0.92"/><circle cx="259.02" cy="705.31" r="0.92"/><circle cx="257.14" cy="702.59" r="0.92"/><circle cx="253.13" cy="712.85" r="0.92"/><circle cx="261.80" cy="701.91" r="0.92"/><circle cx="251.33" cy="709.19" r="0.92"/><circle cx="256.43" cy="708.19" r="0.92"/><circle cx="263.33" cy="717.59" r="0.92"/><circle cx="252.66" cy="707.32" r="0.92"/><circle cx="251.01" cy="694.65" r="0.92"/><circle cx="254.94" cy="700.27" r="0.92"/><circle cx="262.91" cy="729.38" r="0.92"/><circle cx="251.13" cy="708.97" r="0.92"/><circle cx="269.42" cy="723.15" r="0.92"/><circle cx="255.10" cy="711.87" r="0.92"/><circle cx="252.35" cy="706.81" r="0.92"/><circle cx="250.13" cy="725.66" r="0.92"/><circle cx="253.50" cy="713.29" r="0.92"/><circle cx="254.76" cy="705.86" r="0.92"/><circle cx="261.60" cy="719.17" r="0.92"/><circle cx="251.16" cy="701.08" r="0.92"/><circle cx="259.18" cy="711.24" r="0.92"/><circle cx="251.87" cy="722.66" r="0.92"/><circle cx="260.01" cy="702.94" r="0.92"/><circle cx="259.70" cy="714.19" r="0.92"/><circle cx="250.68" cy="705.12" r="0.92"/><circle cx="252.42" cy="718.27" r="0.92"/><circle cx="253.04" cy="710.31" r="0.92"/><circle cx="252.21" cy="691.96" r="0.92"/><circle cx="262.54" cy="706.79" r="0.92"/><circle cx="256.65" cy="714.76" r="0.92"/><circle cx="257.21" cy="702.29" r="0.92"/><circle cx="262.80" cy="711.26" r="0.92"/><circle cx="257.55" cy="720.17" r="0.92"/><circle cx="258.24" cy="720.05" r="0.92"/><circle cx="251.62" cy="702.70" r="0.92"/><circle cx="255.03" cy="712.03" r="0.92"/><circle cx="255.32" cy="721.52" r="0.92"/><circle cx="252.70" cy="717.03" r="0.92"/><circle cx="254.92" cy="713.09" r="0.92"/><circle cx="254.22" cy="698.95" r="0.92"/><circle cx="250.31" cy="713.86" r="0.92"/><circle cx="260.01" cy="717.03" r="0.92"/><circle cx="251.71" cy="701.34" r="0.92"/><circle cx="254.84" cy="699.98" r="0.92"/><circle cx="253.81" cy="698.42" r="0.92"/><circle cx="266.91" cy="713.86" r="0.92"/><circle cx="252.27" cy="714.85" r="0.92"/><circle cx="260.36" cy="716.13" r="0.92"/><circle cx="254.64" cy="690.95" r="0.92"/><circle cx="262.12" cy="715.08" r="0.92"/><circle cx="264.37" cy="709.18" r="0.92"/><circle cx="253.87" cy="703.06" r="0.92"/><circle cx="252.27" cy="696.95" r="0.92"/><circle cx="259.83" cy="709.14" r="0.92"/></g>
<g fill="#4daf4a"><circle cx="275.22" cy="713.05" r="0.92"/><circle cx="286.84" cy="713.14" r="0.92"/><circle cx="286.96" cy="723.51" r="0.92"/><circle cx="273.50" cy="704.06" r="0.92"/><circle cx="318.29" cy="705.71" r="0.92"/><circle cx="264.24" cy="731.81" r="0.92"/><circle cx="279.65" cy="723.30" r="0.92"/><circle cx="276.77" cy="716.40" r="0.92"/><circle cx="273.64" cy="702.09" r="0.92"/><circle cx="283.50" cy="701.13" r="0.92"/><circle cx="291.67" cy="721.73" r="0.92"/><circle cx="280.83" cy="712.20" r="0.92"/><circle cx="277.39" cy="719.09" r="0.92"/><circle cx="282.53" cy="708.54" r="0.92"/><circle cx="266.82" cy="707.88" r="0.92"/><circle cx="266.94" cy="716.14" r="0.92"/><circle cx="282.92" cy="691.95" r="0.92"/><circle cx="318.75" cy="710.50" r="0.92"/><circle cx="274.14" cy="706.79" r="0.92"/><circle cx="281.24" cy="709.85" r="0.92"/><circle cx="318.91" cy="710.05" r="0.92"/><circle cx="284.36" cy="717.27" r="0.92"/><circle cx="269.20" cy="700.07" r="0.92"/><circle cx="268.34" cy="710.64" r="0.92"/><circle cx="279.19" cy="705.71" r="0.92"/><circle cx="290.52" cy="699.47" r="0.92"/><circle cx="277.59" cy="715.10" r="0.92"/><circle cx="300.08" cy="711.07" r="0.92"/><circle cx="269.26" cy="716.09" r="0.92"/><circle cx="277.97" cy="735.97" r="0.92"/><circle cx="274.87" cy="720.94" r="0.92"/><circle cx="276.85" cy="717.83" r="0.92"/><circle cx="265.95" cy="716.68" r="0.92"/><circle cx="278.17" cy="710.91" r="0.92"/><circle cx="322.47" cy="728.08" r="0.92"/><circle cx="285.38" cy="725.63" r="0.92"/><circle cx="302.28" cy="709.66" r="0.92"/><circle cx="267.02" cy="723.24" r="0.92"/><circle cx="281.26" cy="708.36" r="0.92"/><circle cx="287.23" cy="735.43" r="0.92"/><circle cx="263.37" cy="722.54" r="0.92"/><circle cx="277.70" cy="708.15" r="0.92"/><circle cx="281.50" cy="707.15" r="0.92"/><circle cx="266.39" cy="693.51" r="0.92"/><circle cx="282.78" cy="710.28" r="0.92"/><circle cx="280.32" cy="732.39" r="0.92"/><circle cx="264.08" cy="725.11" r="0.92"/><circle cx="271.94" cy="720.96" r="0.92"/><circle cx="281.26" cy="708.09" r="0.92"/><circle cx="300.64" cy="720.36" r="0.92"/><circle cx="270.63" cy="690.97" r="0.92"/><circle cx="280.94" cy="717.54" r="0.92"/><circle cx="278.23" cy="722.84" r="0.92"/><circle cx="277.07" cy="713.99" r="0.92"/><circle cx="283.98" cy="715.01" r="0.92"/><circle cx="267.67" cy="710.32" r="0.92"/><circle cx="282.89" cy="703.96" r="0.92"/><circle cx="267.91" cy="709.30" r="0.92"/><circle cx="287.92" cy="716.89" r="0.92"/><circle cx="324.42" cy="729.38" r="0.92"/><circle cx="280.51" cy="693.95" r="0.92"/><circle cx="324.69" cy="712.15" r="0.92"/><circle cx="301.06" cy="705.84" r="0.92"/><circle cx="291.44" cy="720.96" r="0.92"/><circle cx="285.42" cy="712.80" r="0.92"/><circle cx="285.98" cy="710.55" r="0.92"/><circle cx="262.93" cy="723.59" r="0.92"/><circle cx="284.22" cy="689.66" r="0.92"/></g>
<g fill="#377eb8"><circle cx="291.85" cy="721.84" r="0.92"/><circle cx="276.50" cy="697.96" r="0.92"/><circle cx="286.57" cy="724.99" r="0.92"/><circle cx="271.51" cy="713.39" r="0.92"/><circle cx="275.06" cy="706.89" r="0.92"/><circle cx="290.24" cy="715.65" r="0.92"/><circle cx="281.46" cy="713.66" r="0.92"/><circle cx="281.61" cy="703.08" r="0.92"/><circle cx="304.32" cy="713.81" r="0.92"/><circle cx="289.20" cy="696.84" r="0.92"/><circle cx="334.50" cy="716.75" r="0.92"/><circle cx="281.24" cy="729.39" r="0.92"/><circle cx="272.68" cy="703.94" r="0.92"/><circle cx="281.26" cy="705.13" r="0.92"/><circle cx="277.04" cy="714.22" r="0.92"/><circle cx="273.27" cy="726.71" r="0.92"/><circle cx="289.45" cy="716.65" r="0.92"/><circle cx="333.16" cy="700.89" r="0.92"/><circle cx="284.12" cy="716.83" r="0.92"/><circle cx="314.13" cy="719.83" r="0.92"/><circle cx="291.16" cy="724.01" r="0.92"/><circle cx="269.27" cy="718.23" r="0.92"/><circle cx="274.60" cy="715.41" r="0.92"/><circle cx="277.81" cy="701.63" r="0.92"/><circle cx="277.38" cy="715.68" r="0.92"/><circle cx="288.54" cy="726.95" r="0.92"/><circle cx="271.57" cy="714.56" r="0.92"/><circle cx="268.98" cy="712.99" r="0.92"/><circle cx="282.03" cy="711.49" r="0.92"/><circle cx="286.97" cy="728.34" r="0.92"/><circle cx="288.01" cy="710.76" r="0.92"/><circle cx="275.02" cy="720.97" r="0.92"/><circle cx="292.48" cy="717.63" r="0.92"/><circle cx="267.48" cy="707.02" r="0.92"/><circle cx="291.69" cy="715.64" r="0.92"/><circle cx="277.65" cy="727.65" r="0.92"/><circle cx="334.70" cy="707.33" r="0.92"/><circle cx="268.85" cy="712.12" r="0.92"/><circle cx="283.31" cy="713.51" r="0.92"/><circle cx="273.51" cy="715.62" r="0.92"/><circle cx="294.50" cy="694.37" r="0.92"/><circle cx="268.09" cy="709.35" r="0.92"/><circle cx="280.14" cy="700.43" r="0.92"/><circle cx="266.74" cy="714.36" r="0.92"/><circle cx="318.01" cy="704.88" r="0.92"/><circle cx="296.92" cy="722.96" r="0.92"/><circle cx="291.64" cy="703.17" r="0.92"/><circle cx="282.37" cy="720.19" r="0.92"/><circle cx="284.48" cy="724.62" r="0.92"/><circle cx="336.38" cy="717.42" r="0.92"/><circle cx="323.51" cy="703.46" r="0.92"/><circle cx="274.78" cy="708.88" r="0.92"/><circle cx="278.24" cy="704.43" r="0.92"/><circle cx="279.54" cy="718.19" r="0.92"/><circle cx="316.21" cy="717.24" r="0.92"/><circle cx="273.28" cy="702.12" r="0.92"/><circle cx="295.36" cy="712.72" r="0.92"/><circle cx="308.87" cy="712.41" r="0.92"/><circle cx="291.52" cy="714.27" r="0.92"/><circle cx="297.73" cy="715.90" r="0.92"/><circle cx="320.02" cy="709.48" r="0.92"/><circle cx="268.87" cy="715.01" r="0.92"/><circle cx="294.56" cy="699.82" r="0.92"/><circle cx="293.82" cy="708.59" r="0.92"/><circle cx="315.90" cy="714.17" r="0.92"/><circle cx="274.30" cy="722.46" r="0.92"/><circle cx="291.44" cy="708.09" r="0.92"/><circle cx="273.69" cy="700.40" r="0.92"/><circle cx="316.81" cy="712.52" r="0.92"/><circle cx="327.64" cy="715.92" r="0.92"/><circle cx="282.27" cy="717.33" r="0.92"/><circle cx="272.43" cy="694.63" r="0.92"/></g>
<text x="249.40" y="746.30" font-size="5.6" fill="#3a3a3a" text-anchor="middle" font-weight="normal" font-family='"Liberation Sans", sans-serif' stroke="#3a3a3a" stroke-width="0.12" >0</text>
<text x="273.93" y="746.30" font-size="5.6" fill="#3a3a3a" text-anchor="middle" font-weight="normal" font-family='"Liberation Sans", sans-serif' stroke="#3a3a3a" stroke-width="0.12" >10</text>
<text x="298.46" y="746.30" font-size="5.6" fill="#3a3a3a" text-anchor="middle" font-weight="normal" font-family='"Liberation Sans", sans-serif' stroke="#3a3a3a" stroke-width="0.12" >20</text>
<text x="322.99" y="746.30" font-size="5.6" fill="#3a3a3a" text-anchor="middle" font-weight="normal" font-family='"Liberation Sans", sans-serif' stroke="#3a3a3a" stroke-width="0.12" >30</text>
<text x="291.95" y="751.80" font-size="5.8" fill="#222" text-anchor="middle" font-weight="bold" font-family='"Liberation Sans", sans-serif' >PASI</text>
<text x="350.20" y="684.80" font-size="6.6" fill="#222" text-anchor="start" font-weight="normal" font-family='"Liberation Sans", sans-serif' textLength="14.4" lengthAdjust="spacingAndGlyphs">Time</text>
<circle cx="356" cy="694.3" r="2" fill="#377eb8"/>
<text x="365.00" y="696.40" font-size="6.0" fill="#222" text-anchor="start" font-weight="normal" font-family='"Liberation Sans", sans-serif' stroke="#222" stroke-width="0.12" textLength="9.2" lengthAdjust="spacingAndGlyphs">0w</text>
<circle cx="356" cy="705.7" r="2" fill="#4daf4a"/>
<text x="365.00" y="707.80" font-size="6.0" fill="#222" text-anchor="start" font-weight="normal" font-family='"Liberation Sans", sans-serif' stroke="#222" stroke-width="0.12" textLength="9.2" lengthAdjust="spacingAndGlyphs">1w</text>
<circle cx="356" cy="717.5" r="2" fill="#e41a1c"/>
<text x="365.00" y="719.60" font-size="6.0" fill="#222" text-anchor="start" font-weight="normal" font-family='"Liberation Sans", sans-serif' stroke="#222" stroke-width="0.12" textLength="9.2" lengthAdjust="spacingAndGlyphs">4w</text>
<circle cx="356" cy="728.9" r="2" fill="#ff7f00"/>
<text x="365.00" y="731.00" font-size="6.0" fill="#222" text-anchor="start" font-weight="normal" font-family='"Liberation Sans", sans-serif' stroke="#222" stroke-width="0.12" textLength="13.0" lengthAdjust="spacingAndGlyphs">12w</text>
</svg></body></html>
